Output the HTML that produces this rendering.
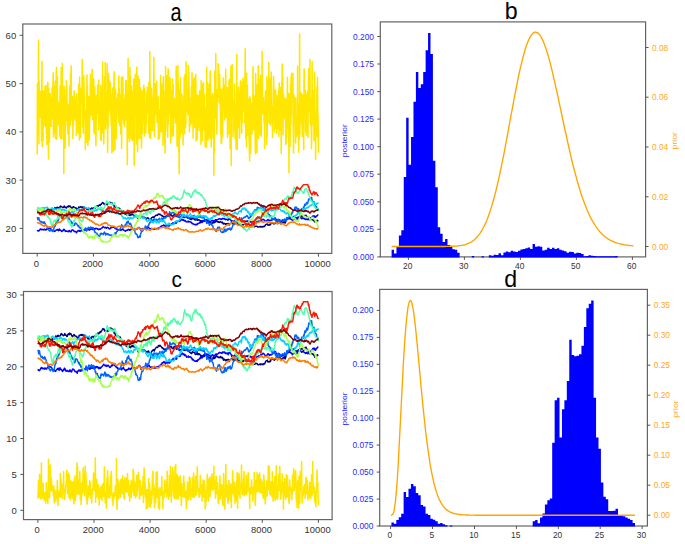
<!DOCTYPE html>
<html lang="en">
<head>
<meta charset="utf-8">
<title>MCMC traces and posterior / prior histograms</title>
<style>
html,body{margin:0;padding:0;background:#ffffff;}
body{width:685px;height:544px;overflow:hidden;position:relative;font-family:"Liberation Sans", sans-serif;}
</style>
</head>
<body>
<svg width="685" height="544" viewBox="0 0 685 544" style="display:block;position:absolute;left:0;top:0" font-family='"Liberation Sans", sans-serif'>
<rect x="0" y="0" width="685" height="544" fill="#ffffff"/>
<g>
<polyline points="37.2,209.8 37.6,209.3 38,209.3 38.4,209.6 38.8,210.1 39.2,209.8 39.6,209.4 40,208.9 40.4,209.1 40.8,210.2 41.2,209.5 41.6,209.3 42,209.1 42.4,209.3 42.8,209.4 43.2,209.5 43.6,209.7 44,210 44.4,210.6 44.8,211 45.2,211.5 45.6,211.8 46.1,211.3 46.5,210.7 46.9,210 47.3,209.4 47.7,210.7 48.1,211.3 48.5,211.1 48.9,210.9 49.3,211.2 49.7,210.8 50.1,211.5 50.5,211 50.9,210.6 51.3,210.3 51.7,210 52.1,209.4 52.5,209.5 52.9,209.5 53.3,209.4 53.7,209.6 54.1,209.7 54.5,208.8 54.9,207.6 55.3,208.3 55.7,207.9 56.1,208.3 56.5,208.2 56.9,207.4 57.3,207.2 57.7,207.9 58.1,207.8 58.5,207.6 58.9,207.7 59.3,207.6 59.7,207.6 60.1,206.4 60.5,206.1 60.9,206.7 61.3,206.5 61.7,206.6 62.1,207.1 62.5,207.5 62.9,207.4 63.3,207.4 63.8,206.9 64.2,205.9 64.6,207 65,207.3 65.4,207 65.8,207.3 66.2,208.1 66.6,208 67,207.2 67.4,206.4 67.8,206.4 68.2,206.1 68.6,206.9 69,205.8 69.4,206.1 69.8,206.4 70.2,206.1 70.6,206.6 71,207.4 71.4,207.7 71.8,208 72.2,208.2 72.6,207.3 73,207 73.4,206.7 73.8,206.9 74.2,207.8 74.6,207.6 75,207.9 75.4,207.9 75.8,208.1 76.2,207.9 76.6,209.1 77,209.2 77.4,209 77.8,209 78.2,208.6 78.6,207.1 79,207.5 79.4,207.3 79.8,207.1 80.2,206.7 80.6,206.7 81,207.3 81.5,207 81.9,206.8 82.3,207.2 82.7,207.7 83.1,207 83.5,207.6 83.9,208 84.3,208.7 84.7,208.1 85.1,207.9 85.5,208 85.9,208.1 86.3,208.3 86.7,209 87.1,209.6 87.5,209.2 87.9,209.8 88.3,208.5 88.7,209.8 89.1,209.4 89.5,209.8 89.9,208.8 90.3,208.9 90.7,209.5 91.1,208.5 91.5,208 91.9,208.1 92.3,208.1 92.7,208.5 93.1,208.9 93.5,208 93.9,207.8 94.3,207.5 94.7,208.1 95.1,208 95.5,207.8 95.9,206.7 96.3,206.6 96.7,206.2 97.1,205.7 97.5,206 97.9,206.2 98.3,206.3 98.8,205.3 99.2,205.3 99.6,204.8 100,205.4 100.4,205.1 100.8,204.3 101.2,204.3 101.6,203.6 102,203.2 102.4,202.6 102.8,203.1 103.2,203 103.6,203 104,204.2 104.4,204.4 104.8,204.3 105.2,204.1 105.6,204.4 106,203.8 106.4,204.2 106.8,204.1 107.2,204.8 107.6,204.6 108,203.1 108.4,203.1 108.8,202.9 109.2,202.7 109.6,202.2 110,202.8 110.4,202.4 110.8,202.6 111.2,202.8 111.6,203.4 112,203.1 112.4,203.3 112.8,203.4 113.2,204.2 113.6,205.8 114,205.8 114.4,205.7 114.8,206.8 115.2,207.2 115.6,207.2 116,207.9 116.5,207.7 116.9,208.6 117.3,207.8 117.7,208.1 118.1,207.9 118.5,208.6 118.9,208.6 119.3,208.4 119.7,208.3 120.1,209 120.5,210.9 120.9,210.5 121.3,211.5 121.7,211.3 122.1,211.2 122.5,212.4 122.9,213.3 123.3,212.9 123.7,213 124.1,213 124.5,213.2 124.9,214.2 125.3,214.2 125.7,213.9 126.1,214.3 126.5,214.9 126.9,214.2 127.3,214.4 127.7,214.3 128.1,214.7 128.5,214.4 128.9,215.3 129.3,215.1 129.7,215.1 130.1,215.6 130.5,214.8 130.9,214.7 131.3,214.2 131.7,214.9 132.1,214.1 132.5,214 132.9,214.4 133.3,215 133.7,215.1 134.2,215.1 134.6,215.1 135,215.2 135.4,215.5 135.8,215.2 136.2,215.2 136.6,216.2 137,216.7 137.4,217.6 137.8,218.4 138.2,218.4 138.6,217.4 139,217.1 139.4,217.6 139.8,217.4 140.2,217.4 140.6,217.2 141,217.4 141.4,216.9 141.8,216.7 142.2,217.4 142.6,217.4 143,217.1 143.4,217.5 143.8,217.2 144.2,217.8 144.6,217.3 145,218 145.4,218.3 145.8,218.1 146.2,219.6 146.6,218.4 147,218.2 147.4,218 147.8,217.8 148.2,217.9 148.6,218.9 149,218.9 149.4,219 149.8,219.1 150.2,219.2 150.6,218.8 151,218.4 151.5,217.9 151.9,217.4 152.3,217.6 152.7,217 153.1,217 153.5,216.9 153.9,217.8 154.3,217 154.7,216.4 155.1,215.9 155.5,215.8 155.9,215.3 156.3,215.3 156.7,215.2 157.1,215.5 157.5,215.2 157.9,214.3 158.3,214.3 158.7,213.9 159.1,214.5 159.5,214.6 159.9,214 160.3,214.5 160.7,214.8 161.1,215 161.5,215.7 161.9,215.8 162.3,215.6 162.7,216.3 163.1,216.3 163.5,217 163.9,216.4 164.3,217 164.7,217 165.1,217.1 165.5,216.2 165.9,216.8 166.3,216.7 166.7,215.8 167.1,216.2 167.5,216.2 167.9,215.1 168.3,215.4 168.7,215.4 169.2,215.5 169.6,214.3 170,214.7 170.4,214.9 170.8,215.2 171.2,214.7 171.6,215.6 172,216.2 172.4,216 172.8,216.2 173.2,215.8 173.6,215 174,215.2 174.4,214.6 174.8,214.8 175.2,215.1 175.6,215.3 176,216.3 176.4,216.6 176.8,216 177.2,216 177.6,216.4 178,216.1 178.4,216.4 178.8,217 179.2,217.4 179.6,217.4 180,216.9 180.4,217.4 180.8,217.5 181.2,216.9 181.6,216.7 182,216.6 182.4,216.1 182.8,216.2 183.2,216.2 183.6,217.4 184,216.4 184.4,217.3 184.8,217.5 185.2,216.3 185.6,215.7 186,216.5 186.4,217.1 186.9,217.1 187.3,217.9 187.7,217.9 188.1,216.9 188.5,217.4 188.9,217.3 189.3,218.7 189.7,218.9 190.1,218.8 190.5,219.3 190.9,219.1 191.3,219.6 191.7,219.1 192.1,218.3 192.5,218.6 192.9,218.7 193.3,218.7 193.7,218.6 194.1,218.8 194.5,219.3 194.9,219.9 195.3,220.1 195.7,219.6 196.1,219.9 196.5,219.1 196.9,218.2 197.3,220 197.7,220.3 198.1,219.6 198.5,219.6 198.9,220 199.3,219.9 199.7,220.1 200.1,220.8 200.5,221.4 200.9,220.7 201.3,220.8 201.7,221.8 202.1,221.5 202.5,221.1 202.9,220.8 203.3,221 203.7,220.8 204.1,221.4 204.6,220.3 205,220.6 205.4,220.1 205.8,220.8 206.2,221 206.6,221.7 207,222.4 207.4,221.5 207.8,222.3 208.2,222.1 208.6,221.9 209,222.5 209.4,222.4 209.8,222.6 210.2,222 210.6,222.5 211,223.3 211.4,223.1 211.8,223.6 212.2,223.5 212.6,222.7 213,221.9 213.4,222.9 213.8,222.8 214.2,222.3 214.6,222.6 215,222.2 215.4,222.1 215.8,220.7 216.2,221.1 216.6,221.3 217,221.5 217.4,221.8 217.8,221.9 218.2,222.3 218.6,221.8 219,222.1 219.4,222.4 219.8,222.3 220.2,221.5 220.6,221.6 221,222.1 221.4,222.1 221.9,222.7 222.3,222.1 222.7,222.8 223.1,223.8 223.5,224 223.9,223.3 224.3,223.4 224.7,223.7 225.1,224.1 225.5,224.3 225.9,223.7 226.3,223.7 226.7,224 227.1,223.5 227.5,224.2 227.9,223.9 228.3,223.4 228.7,224.5 229.1,224.9 229.5,223.6 229.9,223.6 230.3,223.5 230.7,223.3 231.1,223.1 231.5,223 231.9,222.6 232.3,222.9 232.7,223.7 233.1,224 233.5,224.3 233.9,223.5 234.3,222.8 234.7,223.5 235.1,223.8 235.5,223.6 235.9,222.7 236.3,223.8 236.7,223.7 237.1,224.3 237.5,223.5 237.9,224.4 238.3,224.2 238.7,224.9 239.1,225.1 239.6,224.7 240,224.2 240.4,224 240.8,224 241.2,224.5 241.6,224.6 242,224.6 242.4,224.7 242.8,224.4 243.2,224.9 243.6,224.5 244,223.9 244.4,223.5 244.8,223.3 245.2,223.5 245.6,224.2 246,224.3 246.4,223.9 246.8,224.1 247.2,224.7 247.6,224.7 248,224 248.4,224.3 248.8,224.5 249.2,224.6 249.6,224.8 250,225 250.4,224.8 250.8,224.8 251.2,224.6 251.6,224.4 252,225.2 252.4,225.8 252.8,226.2 253.2,226.2 253.6,226.3 254,226.8 254.4,226.7 254.8,226.7 255.2,226.1 255.6,226.1 256,226.2 256.4,226.3 256.8,226.2 257.3,226.4 257.7,227 258.1,227 258.5,227 258.9,227 259.3,226.8 259.7,226.5 260.1,226.5 260.5,227 260.9,226.5 261.3,226.7 261.7,227 262.1,226.6 262.5,226.8 262.9,227 263.3,226.5 263.7,226.3 264.1,226.3 264.5,226.6 264.9,225.8 265.3,225.3 265.7,224.6 266.1,224.5 266.5,224.2 266.9,224.3 267.3,223.9 267.7,225.1 268.1,224.8 268.5,225.1 268.9,225.3 269.3,225.1 269.7,224.5 270.1,224.8 270.5,224.7 270.9,223.6 271.3,222.8 271.7,222.6 272.1,222.9 272.5,223.3 272.9,223.4 273.3,223.4 273.7,223.8 274.1,224 274.6,223.7 275,223.2 275.4,223.4 275.8,222.5 276.2,222.2 276.6,221.3 277,221.2 277.4,221.7 277.8,221.7 278.2,222.2 278.6,222.8 279,222.6 279.4,222.5 279.8,221.7 280.2,223.1 280.6,222.8 281,223.1 281.4,223.1 281.8,223.5 282.2,223.4 282.6,222.5 283,222.7 283.4,222.3 283.8,222.3 284.2,221.5 284.6,222.6 285,223.2 285.4,222.5 285.8,221.5 286.2,219.9 286.6,219.4 287,219.2 287.4,219.5 287.8,218.5 288.2,218.3 288.6,218.5 289,218.3 289.4,217.9 289.8,217.5 290.2,216.8 290.6,216.9 291,216.2 291.4,216.5 291.8,216.5 292.3,216.7 292.7,217.4 293.1,217.5 293.5,217 293.9,216.3 294.3,217 294.7,217.4 295.1,217.5 295.5,218.1 295.9,218.4 296.3,217.9 296.7,217.8 297.1,217.6 297.5,217.6 297.9,217.3 298.3,217.4 298.7,217 299.1,216.9 299.5,216.9 299.9,216 300.3,217 300.7,216.7 301.1,216 301.5,216.5 301.9,216.5 302.3,216.1 302.7,216.1 303.1,217 303.5,217.5 303.9,216.7 304.3,215.7 304.7,215.5 305.1,215.9 305.5,215.8 305.9,215.2 306.3,215.9 306.7,216.4 307.1,216.5 307.5,217.2 307.9,217.8 308.3,218.4 308.7,219.3 309.1,219.6 309.5,219.8 310,219.4 310.4,218.9 310.8,219.6 311.2,218.9 311.6,219.4 312,219.6 312.4,219.6 312.8,220.1 313.2,219.9 313.6,220.5 314,220.7 314.4,221.2 314.8,222.1 315.2,220.6 315.6,221.4 316,221.5 316.4,222.3 316.8,220.8 317.2,220.3 317.6,220.4 318,220.7 318.4,220.6" fill="none" stroke="#000080" stroke-width="1.45" stroke-linejoin="round" stroke-linecap="butt"/>
<polyline points="37.2,230.1 37.6,230.8 38,230.6 38.4,230.9 38.8,231.1 39.2,230.6 39.6,230.2 40,229.3 40.4,229.2 40.8,229 41.2,229.6 41.6,229.7 42,229.2 42.4,229.5 42.8,229.6 43.2,229.8 43.6,229.9 44,229.2 44.4,229.8 44.8,229.3 45.2,229.6 45.6,230 46.1,230 46.5,229.2 46.9,229 47.3,228.6 47.7,229.1 48.1,228.4 48.5,228.1 48.9,228.3 49.3,228.4 49.7,228.6 50.1,228.4 50.5,228.7 50.9,228.7 51.3,229.9 51.7,229.7 52.1,230.6 52.5,230.5 52.9,230.5 53.3,230.4 53.7,230.5 54.1,231.2 54.5,231.4 54.9,231.5 55.3,230.8 55.7,230.5 56.1,230.1 56.5,230.1 56.9,229.6 57.3,230.2 57.7,229.4 58.1,229.8 58.5,230.8 58.9,229.8 59.3,229 59.7,230.3 60.1,229.9 60.5,230.2 60.9,230.3 61.3,231.1 61.7,231.6 62.1,231.2 62.5,231 62.9,230.3 63.3,230.6 63.8,229.3 64.2,229.7 64.6,229.8 65,230.8 65.4,231.4 65.8,231 66.2,231.3 66.6,230.9 67,230.9 67.4,231.5 67.8,231.5 68.2,231.7 68.6,231.6 69,230.7 69.4,230.5 69.8,230.9 70.2,231.7 70.6,231.7 71,231.9 71.4,231 71.8,230.1 72.2,229.8 72.6,230.1 73,230.2 73.4,230.3 73.8,231 74.2,231.4 74.6,231.7 75,231.5 75.4,231.5 75.8,231.9 76.2,232.2 76.6,232.8 77,231.8 77.4,231 77.8,231 78.2,230.7 78.6,230.5 79,231.3 79.4,231.3 79.8,230.6 80.2,231.5 80.6,230.8 81,231 81.5,230.6 81.9,230.2 82.3,229.9 82.7,230 83.1,229.6 83.5,229.9 83.9,230 84.3,230 84.7,230.5 85.1,229.9 85.5,229.2 85.9,229.9 86.3,229.1 86.7,229.3 87.1,229.1 87.5,229.5 87.9,229.7 88.3,229.2 88.7,229.3 89.1,230 89.5,230.1 89.9,228.8 90.3,229.5 90.7,229.3 91.1,229.3 91.5,228.8 91.9,228.8 92.3,229.5 92.7,229.5 93.1,228.6 93.5,228.3 93.9,228.7 94.3,229 94.7,229.3 95.1,228.4 95.5,229 95.9,228.3 96.3,228.6 96.7,228.5 97.1,228.5 97.5,229.3 97.9,228.9 98.3,229.7 98.8,229.4 99.2,228.9 99.6,229.4 100,229.5 100.4,228.8 100.8,228.8 101.2,228.4 101.6,228.2 102,228 102.4,227.5 102.8,227.1 103.2,226.6 103.6,227.1 104,227.3 104.4,227.4 104.8,227.9 105.2,227.4 105.6,227.3 106,227.8 106.4,228.2 106.8,227.7 107.2,227.5 107.6,227.3 108,227.7 108.4,227.9 108.8,228.4 109.2,228.9 109.6,228.6 110,228.7 110.4,228.2 110.8,227.6 111.2,227.2 111.6,227.8 112,227.1 112.4,227 112.8,227.2 113.2,227.2 113.6,227.2 114,227.4 114.4,227.5 114.8,228 115.2,228.4 115.6,228.3 116,228.7 116.5,228.7 116.9,229.6 117.3,229.3 117.7,229.4 118.1,229.5 118.5,229.8 118.9,229.6 119.3,229.8 119.7,229.7 120.1,229.1 120.5,229.5 120.9,230.5 121.3,229.6 121.7,229.9 122.1,229.6 122.5,229.1 122.9,228.7 123.3,229.8 123.7,230 124.1,230.3 124.5,230.7 124.9,230.9 125.3,231.2 125.7,230.5 126.1,230.7 126.5,230.3 126.9,230.2 127.3,230.4 127.7,230.3 128.1,229.5 128.5,229.3 128.9,229.6 129.3,229.9 129.7,230.4 130.1,229.6 130.5,229.4 130.9,229.8 131.3,229.5 131.7,228.9 132.1,229.1 132.5,229.3 132.9,229.1 133.3,229.5 133.7,229.6 134.2,228.9 134.6,229.5 135,229.8 135.4,229.6 135.8,229.4 136.2,229.2 136.6,229.3 137,228.8 137.4,228.6 137.8,228.3 138.2,227.8 138.6,227.4 139,227.5 139.4,227.7 139.8,228.2 140.2,228.6 140.6,230.1 141,229.4 141.4,229.2 141.8,228.9 142.2,228.7 142.6,228.7 143,228.5 143.4,228.8 143.8,228.7 144.2,229 144.6,228.9 145,229.2 145.4,228.7 145.8,228.6 146.2,228.5 146.6,228.4 147,228.6 147.4,228 147.8,227.6 148.2,227.8 148.6,227.3 149,228 149.4,228.3 149.8,228.7 150.2,228.8 150.6,228.8 151,228.8 151.5,228.4 151.9,229.1 152.3,228.6 152.7,229 153.1,229.4 153.5,228.9 153.9,229.3 154.3,229.2 154.7,229.2 155.1,229.4 155.5,228.9 155.9,228.5 156.3,228.7 156.7,228.9 157.1,228.6 157.5,228.2 157.9,228.6 158.3,228.1 158.7,227.9 159.1,228.2 159.5,227.9 159.9,227.1 160.3,227 160.7,226.6 161.1,226.8 161.5,226.2 161.9,225.6 162.3,225.8 162.7,225.6 163.1,225.4 163.5,224.9 163.9,225.6 164.3,225.7 164.7,225.4 165.1,226.5 165.5,225.9 165.9,225.7 166.3,225 166.7,225.9 167.1,225.9 167.5,225.5 167.9,225.5 168.3,225.4 168.7,226 169.2,225.8 169.6,225.7 170,224.8 170.4,224.8 170.8,224.4 171.2,224.4 171.6,223.7 172,223.9 172.4,223.7 172.8,222.7 173.2,223.2 173.6,223.4 174,223.3 174.4,223.5 174.8,222.9 175.2,222.3 175.6,222.9 176,223.3 176.4,223 176.8,222 177.2,221.5 177.6,221.3 178,221.2 178.4,220.9 178.8,221.4 179.2,221.4 179.6,220.6 180,221.3 180.4,220.1 180.8,220 181.2,220.2 181.6,219.6 182,219.2 182.4,219.4 182.8,220.2 183.2,220.3 183.6,219.8 184,220.5 184.4,221 184.8,220.4 185.2,220.5 185.6,220.9 186,221.7 186.4,222 186.9,221.9 187.3,221.8 187.7,221.5 188.1,221.1 188.5,222 188.9,222 189.3,221.8 189.7,221.7 190.1,221.7 190.5,221.9 190.9,222.4 191.3,222.3 191.7,223 192.1,223.8 192.5,223.3 192.9,223.6 193.3,223.8 193.7,224.1 194.1,224.5 194.5,224.5 194.9,224.5 195.3,224.7 195.7,224.8 196.1,224.2 196.5,224.7 196.9,224.8 197.3,224.3 197.7,223.5 198.1,223.8 198.5,223.4 198.9,223.3 199.3,223.1 199.7,222.4 200.1,222.2 200.5,222.8 200.9,222.1 201.3,222.2 201.7,221.7 202.1,222.4 202.5,222 202.9,220.7 203.3,221.2 203.7,220.7 204.1,220.1 204.6,219.5 205,220 205.4,220 205.8,220.2 206.2,219.8 206.6,219.7 207,219.9 207.4,220.3 207.8,220.7 208.2,219.9 208.6,220.5 209,220.4 209.4,220.9 209.8,221.3 210.2,221.5 210.6,221.3 211,221 211.4,221.1 211.8,220.3 212.2,220.5 212.6,220.5 213,220.7 213.4,221.3 213.8,220.8 214.2,221.3 214.6,220.8 215,220.2 215.4,219.9 215.8,219.7 216.2,219.8 216.6,220.4 217,219.7 217.4,219.7 217.8,219.6 218.2,219.4 218.6,219 219,219.1 219.4,218.7 219.8,218.9 220.2,219 220.6,219 221,219.3 221.4,219.1 221.9,219.4 222.3,218.5 222.7,218.5 223.1,218.6 223.5,218.5 223.9,219 224.3,218.4 224.7,218.6 225.1,219.4 225.5,219.2 225.9,219.7 226.3,219.4 226.7,219.1 227.1,219.1 227.5,219.7 227.9,220.3 228.3,219.6 228.7,218.8 229.1,219.2 229.5,219 229.9,218.9 230.3,219.8 230.7,219.8 231.1,220.4 231.5,221.4 231.9,220.9 232.3,220.7 232.7,221.4 233.1,221.7 233.5,221.2 233.9,221.3 234.3,220.8 234.7,220.5 235.1,221.2 235.5,221.1 235.9,220.7 236.3,221.3 236.7,221.2 237.1,221.2 237.5,220.8 237.9,221.2 238.3,221.4 238.7,221.5 239.1,221.2 239.6,221.9 240,222.4 240.4,222 240.8,222 241.2,222.1 241.6,222.6 242,221.8 242.4,221.4 242.8,221.2 243.2,221.8 243.6,221 244,221.1 244.4,221.6 244.8,221.5 245.2,221.5 245.6,221.2 246,221.3 246.4,221.1 246.8,221.5 247.2,221.2 247.6,221.6 248,220.8 248.4,221.5 248.8,221.9 249.2,221.4 249.6,220.9 250,220.9 250.4,221.2 250.8,222.2 251.2,221.9 251.6,222.2 252,222.6 252.4,221.9 252.8,222.1 253.2,222.2 253.6,221.9 254,221 254.4,221.9 254.8,221.7 255.2,222.3 255.6,222.3 256,222 256.4,221.6 256.8,221.9 257.3,221.6 257.7,221.5 258.1,221.7 258.5,221 258.9,220.9 259.3,221.4 259.7,221.1 260.1,220.7 260.5,220.7 260.9,220.2 261.3,220.1 261.7,220.3 262.1,220 262.5,219.7 262.9,219.3 263.3,219.4 263.7,219.7 264.1,219.8 264.5,220.4 264.9,220.6 265.3,220.8 265.7,221.3 266.1,221.3 266.5,220.8 266.9,220.7 267.3,219.9 267.7,219.8 268.1,219.6 268.5,220.2 268.9,220.3 269.3,220.8 269.7,220.1 270.1,220.1 270.5,220.5 270.9,220.4 271.3,220.3 271.7,220.3 272.1,219.8 272.5,219 272.9,219.2 273.3,219 273.7,219.4 274.1,219.5 274.6,219.3 275,218.7 275.4,218.1 275.8,218.9 276.2,219.4 276.6,219.6 277,219.9 277.4,220.5 277.8,220.4 278.2,219.8 278.6,219.9 279,220.3 279.4,219.7 279.8,220.2 280.2,220.3 280.6,220.9 281,221.2 281.4,220.7 281.8,221.4 282.2,220.8 282.6,220.7 283,220.4 283.4,220.8 283.8,220.8 284.2,220.5 284.6,220.1 285,219.7 285.4,220 285.8,220.5 286.2,219.5 286.6,219 287,218.7 287.4,218.1 287.8,218.2 288.2,218.7 288.6,218.1 289,217.9 289.4,218.7 289.8,218.6 290.2,218.5 290.6,219.1 291,219.2 291.4,219.1 291.8,219.5 292.3,220.3 292.7,219.4 293.1,219.4 293.5,219.7 293.9,218.5 294.3,218.5 294.7,218.9 295.1,219 295.5,219.7 295.9,219.9 296.3,219.5 296.7,219.5 297.1,219.3 297.5,218.4 297.9,218.1 298.3,217.8 298.7,217.9 299.1,218.2 299.5,217.6 299.9,217.7 300.3,217.1 300.7,217.6 301.1,218 301.5,218.7 301.9,218.7 302.3,218.4 302.7,218 303.1,218.1 303.5,218.3 303.9,218.7 304.3,218.9 304.7,218.8 305.1,219.1 305.5,219.5 305.9,219.1 306.3,218.8 306.7,219.4 307.1,219.1 307.5,219.7 307.9,219 308.3,219.4 308.7,218.6 309.1,218.3 309.5,218.5 310,218.5 310.4,218.3 310.8,217.8 311.2,217.7 311.6,217.6 312,216.9 312.4,217.2 312.8,216.1 313.2,216.4 313.6,215.8 314,216.9 314.4,215.9 314.8,216.3 315.2,217.4 315.6,217.2 316,216.7 316.4,215.9 316.8,216.1 317.2,215.7 317.6,215.2 318,215 318.4,215" fill="none" stroke="#0000ff" stroke-width="1.45" stroke-linejoin="round" stroke-linecap="butt"/>
<polyline points="37.2,216.9 37.6,218 38,219.8 38.4,218.8 38.8,217.7 39.2,219.5 39.6,220.7 40,221 40.4,221.9 40.8,222.1 41.2,222 41.6,221.5 42,222.9 42.4,222.7 42.8,222.3 43.2,222.7 43.6,223.3 44,221.7 44.4,222.1 44.8,222.9 45.2,223.6 45.6,224.7 46.1,225.8 46.5,225.9 46.9,226.5 47.3,227.2 47.7,228.1 48.1,229.5 48.5,229.6 48.9,230.3 49.3,230.3 49.7,231.2 50.1,230.6 50.5,230.7 50.9,229.6 51.3,229.8 51.7,229.6 52.1,230.8 52.5,231.6 52.9,231.5 53.3,231.1 53.7,229.5 54.1,227.5 54.5,226.9 54.9,226.3 55.3,226 55.7,223.7 56.1,222.6 56.5,221.8 56.9,221.7 57.3,221.1 57.7,220.2 58.1,221 58.5,219.7 58.9,219.1 59.3,218 59.7,216.8 60.1,215.4 60.5,216 60.9,215.9 61.3,217.3 61.7,217.6 62.1,217.9 62.5,216.6 62.9,217.7 63.3,216.9 63.8,217.7 64.2,218.4 64.6,218.2 65,217.4 65.4,216.7 65.8,215.3 66.2,215.2 66.6,215.6 67,216.7 67.4,217 67.8,216.7 68.2,218.7 68.6,219 69,218.1 69.4,219 69.8,219.9 70.2,220.6 70.6,220.8 71,221 71.4,222.5 71.8,223.3 72.2,222.4 72.6,223 73,224.1 73.4,224.2 73.8,225.6 74.2,223.4 74.6,225.2 75,223.8 75.4,223 75.8,223.4 76.2,223.4 76.6,223.5 77,224.5 77.4,224.8 77.8,225.9 78.2,226.3 78.6,225.5 79,227.2 79.4,227.2 79.8,227 80.2,228.6 80.6,227.9 81,228 81.5,228.6 81.9,230 82.3,230.3 82.7,231.3 83.1,230.7 83.5,230.3 83.9,229.8 84.3,230.1 84.7,229.6 85.1,228.5 85.5,227.9 85.9,228.2 86.3,229.8 86.7,231.1 87.1,229.8 87.5,229.3 87.9,228 88.3,227.2 88.7,228 89.1,227.9 89.5,227.9 89.9,228 90.3,227.7 90.7,227 91.1,228.5 91.5,228.7 91.9,227.5 92.3,227.5 92.7,228.1 93.1,227.5 93.5,229.7 93.9,229.4 94.3,230.3 94.7,232 95.1,231.7 95.5,233.4 95.9,233.9 96.3,234 96.7,232.9 97.1,233.7 97.5,234.4 97.9,234.9 98.3,235.7 98.8,235.8 99.2,236 99.6,236.3 100,235.6 100.4,233.4 100.8,234.4 101.2,233.3 101.6,233.8 102,233.6 102.4,233.6 102.8,234 103.2,234.7 103.6,233.6 104,232.7 104.4,232 104.8,232.4 105.2,233.9 105.6,235 106,233.4 106.4,233.4 106.8,234.1 107.2,234.5 107.6,233.7 108,234.4 108.4,234.1 108.8,235 109.2,235.1 109.6,234.7 110,235.4 110.4,235.1 110.8,235.2 111.2,235.4 111.6,235.1 112,236.3 112.4,236.5 112.8,235.7 113.2,235 113.6,234.5 114,235.6 114.4,235.4 114.8,233 115.2,232.8 115.6,234.1 116,233.7 116.5,231.8 116.9,231.6 117.3,231.3 117.7,230.1 118.1,230.1 118.5,229.9 118.9,230.1 119.3,229.7 119.7,229.6 120.1,229.1 120.5,228.3 120.9,226.7 121.3,226.1 121.7,224.6 122.1,226.1 122.5,227.2 122.9,225.9 123.3,226.9 123.7,226.8 124.1,226.9 124.5,226 124.9,226.4 125.3,224.4 125.7,226.5 126.1,224.4 126.5,222.8 126.9,221.9 127.3,223.1 127.7,222.7 128.1,220.9 128.5,222.8 128.9,222.9 129.3,223.5 129.7,224.4 130.1,223.9 130.5,223.3 130.9,224.8 131.3,224.9 131.7,226.4 132.1,227.7 132.5,228 132.9,228.8 133.3,228.8 133.7,229.2 134.2,229.3 134.6,230.7 135,231.8 135.4,233.7 135.8,233.2 136.2,234.1 136.6,234.3 137,234.4 137.4,236.1 137.8,237.5 138.2,237.1 138.6,237.6 139,237.2 139.4,235.9 139.8,235.9 140.2,237.1 140.6,233.7 141,233.3 141.4,231.3 141.8,231.6 142.2,231.5 142.6,231.1 143,230.5 143.4,229.8 143.8,228.8 144.2,228.5 144.6,228.1 145,227.3 145.4,225.9 145.8,226.7 146.2,228.3 146.6,227.4 147,227.1 147.4,226.2 147.8,226.6 148.2,226.3 148.6,225.6 149,223.8 149.4,223.9 149.8,222.4 150.2,222.7 150.6,219.8 151,219.5 151.5,220.1 151.9,220 152.3,222.4 152.7,221.9 153.1,221.3 153.5,219.2 153.9,220 154.3,219.1 154.7,219.4 155.1,219.5 155.5,220.1 155.9,219.8 156.3,219.3 156.7,219.4 157.1,220.6 157.5,220.4 157.9,219.9 158.3,219.6 158.7,219.4 159.1,218.7 159.5,218.2 159.9,219.6 160.3,219.9 160.7,221.1 161.1,220 161.5,218.3 161.9,218 162.3,218.7 162.7,219.5 163.1,218.8 163.5,218.4 163.9,218.8 164.3,217.5 164.7,217.3 165.1,217.9 165.5,218 165.9,217.6 166.3,216.3 166.7,216.1 167.1,215.8 167.5,215.3 167.9,215.7 168.3,216.3 168.7,214 169.2,213.9 169.6,211.8 170,213 170.4,213.2 170.8,213.3 171.2,213.1 171.6,213.3 172,212.9 172.4,212.6 172.8,212.3 173.2,212.9 173.6,213 174,212.7 174.4,212.6 174.8,213.6 175.2,213.6 175.6,214.3 176,214.8 176.4,215.3 176.8,215.7 177.2,216.2 177.6,216.3 178,217.1 178.4,216.4 178.8,215.6 179.2,214.3 179.6,215.2 180,214.3 180.4,213.9 180.8,213.9 181.2,214.7 181.6,216.1 182,216.4 182.4,217.2 182.8,216.5 183.2,216.1 183.6,216.7 184,215 184.4,215 184.8,215.5 185.2,215.7 185.6,217.1 186,217.3 186.4,217.2 186.9,216.4 187.3,216.5 187.7,215.4 188.1,216.4 188.5,218.2 188.9,218 189.3,217.8 189.7,217.6 190.1,217.3 190.5,216.9 190.9,216.9 191.3,216.9 191.7,217 192.1,216.1 192.5,216.9 192.9,215.7 193.3,217.4 193.7,217.3 194.1,215.3 194.5,215.7 194.9,216.4 195.3,218.2 195.7,219 196.1,218.7 196.5,217.3 196.9,217.9 197.3,216.8 197.7,216.1 198.1,217.3 198.5,217.3 198.9,216.4 199.3,216.7 199.7,216.5 200.1,217.4 200.5,216.8 200.9,216.2 201.3,217.3 201.7,217.7 202.1,217 202.5,217.7 202.9,218 203.3,216.6 203.7,217.5 204.1,217.6 204.6,219.3 205,219.2 205.4,220.1 205.8,220.9 206.2,221.3 206.6,223.4 207,223.1 207.4,222 207.8,222.9 208.2,223.1 208.6,222.9 209,223.7 209.4,225.2 209.8,224.4 210.2,224.4 210.6,223.6 211,223.3 211.4,222.6 211.8,225.1 212.2,225.7 212.6,225.6 213,226.8 213.4,228.6 213.8,228.6 214.2,229.1 214.6,229.5 215,229.2 215.4,230.3 215.8,231 216.2,231.4 216.6,229.9 217,228.9 217.4,228.4 217.8,227.3 218.2,227.9 218.6,227.9 219,226.9 219.4,227.4 219.8,227.9 220.2,229.9 220.6,231.1 221,231.6 221.4,232.1 221.9,232.5 222.3,232.5 222.7,232.4 223.1,231.3 223.5,231.7 223.9,232.3 224.3,230.2 224.7,228.9 225.1,229.1 225.5,231.2 225.9,231.6 226.3,230.3 226.7,230.6 227.1,228.8 227.5,229.8 227.9,229.2 228.3,229.5 228.7,228.4 229.1,229.2 229.5,228.5 229.9,227.9 230.3,229.6 230.7,230 231.1,229.1 231.5,229.4 231.9,228.1 232.3,227 232.7,225.6 233.1,225.3 233.5,224.3 233.9,224.7 234.3,222.8 234.7,223.1 235.1,222.3 235.5,222.6 235.9,223.5 236.3,223.1 236.7,223 237.1,222.8 237.5,221.5 237.9,222.2 238.3,222.5 238.7,220.7 239.1,221.6 239.6,221.5 240,220.8 240.4,220.9 240.8,220.4 241.2,219.7 241.6,218 242,219.7 242.4,218.9 242.8,218.7 243.2,218.3 243.6,217.8 244,217.4 244.4,217 244.8,217.5 245.2,217.2 245.6,216.7 246,216.5 246.4,216.4 246.8,215.4 247.2,215.8 247.6,216.2 248,217.1 248.4,218.3 248.8,218.4 249.2,218.2 249.6,217.3 250,217.2 250.4,217.4 250.8,216.2 251.2,215.2 251.6,215.9 252,213.9 252.4,213.9 252.8,214 253.2,212.3 253.6,211.8 254,212.1 254.4,210.4 254.8,209.8 255.2,210.5 255.6,209.8 256,210.3 256.4,210.8 256.8,210.1 257.3,207.3 257.7,207.9 258.1,208.1 258.5,207.6 258.9,207.8 259.3,208.4 259.7,208.4 260.1,208.7 260.5,208.3 260.9,207.1 261.3,206.5 261.7,206.3 262.1,207.5 262.5,207.6 262.9,206.7 263.3,206.7 263.7,208.4 264.1,209.5 264.5,210.4 264.9,210.2 265.3,208.7 265.7,210.1 266.1,210 266.5,210.4 266.9,211.5 267.3,211.5 267.7,212.5 268.1,213.9 268.5,214.3 268.9,215.4 269.3,214.7 269.7,216.7 270.1,216 270.5,215.6 270.9,215.9 271.3,217.1 271.7,217.6 272.1,220 272.5,219.6 272.9,219.6 273.3,219.2 273.7,218 274.1,217.7 274.6,219.4 275,218.6 275.4,220.7 275.8,220.1 276.2,221.2 276.6,221.7 277,221.8 277.4,220.2 277.8,219.9 278.2,219.2 278.6,219.7 279,221.6 279.4,221.5 279.8,220.6 280.2,221.5 280.6,220.5 281,220.5 281.4,220.6 281.8,220.3 282.2,220 282.6,219.6 283,219.7 283.4,220.3 283.8,220.2 284.2,221 284.6,219 285,219.6 285.4,219.7 285.8,219.8 286.2,220.6 286.6,217.6 287,219.5 287.4,218.3 287.8,217.6 288.2,218.1 288.6,217.6 289,217.2 289.4,215 289.8,216.4 290.2,216.4 290.6,215.3 291,213.6 291.4,213.4 291.8,214.2 292.3,211.7 292.7,212.6 293.1,211 293.5,210.8 293.9,209.8 294.3,210 294.7,208.2 295.1,207 295.5,207.9 295.9,207.9 296.3,207.1 296.7,207.6 297.1,209.4 297.5,209 297.9,208.5 298.3,209 298.7,208.8 299.1,210.2 299.5,211 299.9,210.7 300.3,210.9 300.7,210.5 301.1,210.3 301.5,209.1 301.9,208.5 302.3,209 302.7,209.2 303.1,209.3 303.5,207.1 303.9,208 304.3,206.2 304.7,204.3 305.1,204.4 305.5,205.4 305.9,204.6 306.3,203.3 306.7,202.4 307.1,203.7 307.5,203.8 307.9,202.6 308.3,200.7 308.7,199 309.1,199.9 309.5,199.1 310,198.4 310.4,197.4 310.8,197.4 311.2,197.7 311.6,197.4 312,199.9 312.4,200.5 312.8,202.7 313.2,202.5 313.6,202.7 314,201.8 314.4,203.1 314.8,204.6 315.2,205.7 315.6,206.1 316,206.4 316.4,206.4 316.8,208.3 317.2,208.7 317.6,208.5 318,209.6 318.4,209.2" fill="none" stroke="#0063ff" stroke-width="1.45" stroke-linejoin="round" stroke-linecap="butt"/>
<polyline points="37.2,208.8 37.6,208.9 38,208.3 38.4,209 38.8,208 39.2,209.1 39.6,209.8 40,210.2 40.4,210.2 40.8,209.5 41.2,208.6 41.6,208.4 42,208.2 42.4,207.6 42.8,207.7 43.2,207.5 43.6,207.5 44,208.6 44.4,208.9 44.8,208.2 45.2,207.5 45.6,207.6 46.1,207.8 46.5,207.9 46.9,207.1 47.3,207.1 47.7,207.5 48.1,209.4 48.5,208.9 48.9,210 49.3,210 49.7,209.9 50.1,209.2 50.5,209.3 50.9,208.5 51.3,208.1 51.7,208.1 52.1,207.8 52.5,208.3 52.9,209.4 53.3,209.6 53.7,209.9 54.1,208.6 54.5,208.8 54.9,209.7 55.3,209.2 55.7,209.3 56.1,210.1 56.5,209.9 56.9,209 57.3,209.6 57.7,210 58.1,210 58.5,210.6 58.9,209.5 59.3,208.6 59.7,208.4 60.1,208.9 60.5,209.2 60.9,209.1 61.3,209.8 61.7,210.5 62.1,209.7 62.5,209.8 62.9,209.6 63.3,210 63.8,209.8 64.2,209.3 64.6,210.6 65,210.3 65.4,210.2 65.8,210.2 66.2,210.5 66.6,210.8 67,211.3 67.4,212 67.8,212.1 68.2,212 68.6,212.1 69,212.4 69.4,212.2 69.8,212.9 70.2,213.3 70.6,212.7 71,212.3 71.4,212.1 71.8,212.3 72.2,211.5 72.6,212.4 73,213.2 73.4,213 73.8,211.9 74.2,211.8 74.6,211.4 75,210.7 75.4,210.6 75.8,210.5 76.2,210.2 76.6,210.2 77,210.3 77.4,209.8 77.8,209.9 78.2,209.8 78.6,209.2 79,208.6 79.4,209.6 79.8,210.3 80.2,210.3 80.6,210.1 81,209.3 81.5,209.4 81.9,209.7 82.3,208.8 82.7,208.9 83.1,209.6 83.5,208.3 83.9,207.8 84.3,206.7 84.7,207.1 85.1,208.1 85.5,207.8 85.9,208.1 86.3,208.1 86.7,208 87.1,208.3 87.5,208.4 87.9,208.2 88.3,208.2 88.7,207.6 89.1,208.8 89.5,209.4 89.9,210.9 90.3,210.9 90.7,210.5 91.1,210.5 91.5,210 91.9,210 92.3,210.7 92.7,211.4 93.1,211.7 93.5,211.7 93.9,210.7 94.3,211.1 94.7,210 95.1,210 95.5,210.3 95.9,210.6 96.3,210.7 96.7,210 97.1,209.5 97.5,210.1 97.9,209.6 98.3,208.6 98.8,208.9 99.2,208.9 99.6,208.9 100,209.7 100.4,209.9 100.8,209.6 101.2,209.4 101.6,210.5 102,209.5 102.4,210.3 102.8,210.6 103.2,210.4 103.6,211.4 104,211.1 104.4,211.7 104.8,212.7 105.2,212.8 105.6,211.7 106,211.3 106.4,210.4 106.8,209.5 107.2,209.9 107.6,210.5 108,210 108.4,210.8 108.8,211.4 109.2,210.6 109.6,209.8 110,210.1 110.4,209.9 110.8,209.8 111.2,211.3 111.6,210.7 112,212.5 112.4,212.4 112.8,212.4 113.2,212.2 113.6,211.5 114,211.7 114.4,212.3 114.8,213 115.2,213.4 115.6,212.8 116,212.7 116.5,213.8 116.9,213.5 117.3,213.3 117.7,212.8 118.1,212.4 118.5,214 118.9,213.6 119.3,213.8 119.7,214.5 120.1,213.8 120.5,213.8 120.9,214.3 121.3,214.9 121.7,215.7 122.1,216.5 122.5,216.5 122.9,216.6 123.3,218.5 123.7,218.1 124.1,218.6 124.5,218.5 124.9,218 125.3,217.7 125.7,218.5 126.1,219 126.5,218.6 126.9,219 127.3,218 127.7,218.6 128.1,217.4 128.5,217.9 128.9,218.1 129.3,219.3 129.7,217.8 130.1,218.1 130.5,218.2 130.9,217.5 131.3,218.4 131.7,218.6 132.1,218.7 132.5,218.5 132.9,218.6 133.3,217.1 133.7,216.6 134.2,217.3 134.6,216.7 135,216.8 135.4,217 135.8,215.9 136.2,216 136.6,216.1 137,215.9 137.4,216.8 137.8,217.1 138.2,216 138.6,216.9 139,217.1 139.4,216.7 139.8,217.4 140.2,217.9 140.6,217.8 141,216.8 141.4,216.6 141.8,216.9 142.2,217.9 142.6,218.6 143,218.1 143.4,217.3 143.8,217.5 144.2,217.9 144.6,218 145,218.4 145.4,219.3 145.8,218.9 146.2,220.4 146.6,220.8 147,221.1 147.4,221.7 147.8,221.6 148.2,220.4 148.6,219.7 149,220.3 149.4,219.5 149.8,218.7 150.2,220.4 150.6,220.5 151,221.1 151.5,221.4 151.9,221.7 152.3,222.3 152.7,221.7 153.1,221.9 153.5,222.9 153.9,222.3 154.3,221.2 154.7,220.7 155.1,220.2 155.5,220.4 155.9,221.7 156.3,223 156.7,222.5 157.1,221.8 157.5,221.7 157.9,221.3 158.3,221.3 158.7,222.8 159.1,223 159.5,221.9 159.9,219.9 160.3,220.2 160.7,219.4 161.1,220.2 161.5,220.3 161.9,221.6 162.3,221.3 162.7,221.8 163.1,220.2 163.5,220.8 163.9,220.6 164.3,221.9 164.7,221.8 165.1,222.2 165.5,223 165.9,224.9 166.3,224.6 166.7,224.5 167.1,224.7 167.5,224.8 167.9,224.2 168.3,223.4 168.7,224.7 169.2,223.2 169.6,223.9 170,223.8 170.4,224.2 170.8,225.1 171.2,224.8 171.6,224.7 172,224 172.4,224.1 172.8,224.3 173.2,224.5 173.6,224.2 174,223.7 174.4,223.1 174.8,221.9 175.2,221.7 175.6,221.3 176,221.6 176.4,220.9 176.8,221.5 177.2,222.2 177.6,221.7 178,220.8 178.4,220.5 178.8,220.9 179.2,220.7 179.6,219.7 180,217.9 180.4,217.8 180.8,218.7 181.2,217.6 181.6,217 182,215.7 182.4,216.1 182.8,214.5 183.2,214.3 183.6,214.6 184,215.5 184.4,215.8 184.8,216.3 185.2,216 185.6,215.4 186,215.6 186.4,214.9 186.9,215.6 187.3,215 187.7,215.7 188.1,216.3 188.5,215.6 188.9,215.3 189.3,215.3 189.7,214.3 190.1,214.2 190.5,213.8 190.9,214.8 191.3,215.8 191.7,216.1 192.1,216.3 192.5,216.4 192.9,216.1 193.3,216.9 193.7,216.7 194.1,217.2 194.5,216.1 194.9,217 195.3,216.6 195.7,217.6 196.1,216.9 196.5,216.3 196.9,216.8 197.3,217.5 197.7,216.6 198.1,216.5 198.5,216.5 198.9,215.5 199.3,215.9 199.7,215.6 200.1,214.9 200.5,215.6 200.9,216 201.3,216.1 201.7,216.8 202.1,216.6 202.5,215.9 202.9,216 203.3,215.6 203.7,216.6 204.1,216.4 204.6,216 205,216.6 205.4,216.8 205.8,215.7 206.2,216.5 206.6,217.8 207,217 207.4,218 207.8,218.7 208.2,218.6 208.6,218.3 209,219.6 209.4,219.9 209.8,220 210.2,218.7 210.6,218.3 211,218.2 211.4,217.7 211.8,217.8 212.2,218.4 212.6,218.3 213,216.9 213.4,215.8 213.8,216.2 214.2,215.5 214.6,216.2 215,215.7 215.4,216.2 215.8,215.3 216.2,215 216.6,215.1 217,214.5 217.4,215 217.8,214.7 218.2,214.8 218.6,212.2 219,212.3 219.4,212.7 219.8,213.6 220.2,212.4 220.6,213.3 221,214.3 221.4,214.5 221.9,215.1 222.3,214.3 222.7,213.1 223.1,214.3 223.5,215.3 223.9,215.8 224.3,216.3 224.7,215.8 225.1,215.1 225.5,214.2 225.9,214.7 226.3,215.4 226.7,215.9 227.1,216.3 227.5,215.8 227.9,215.2 228.3,214.1 228.7,214.7 229.1,214.6 229.5,214.2 229.9,214 230.3,215.3 230.7,216.1 231.1,216.4 231.5,215.3 231.9,215.4 232.3,214.2 232.7,214.6 233.1,213.4 233.5,213.6 233.9,213.1 234.3,213.2 234.7,212.8 235.1,212.1 235.5,212.6 235.9,213.2 236.3,213.3 236.7,213.4 237.1,214 237.5,214.4 237.9,213.3 238.3,212.9 238.7,211.6 239.1,211.5 239.6,211.4 240,211.1 240.4,210.6 240.8,211.3 241.2,212.3 241.6,210.2 242,209.1 242.4,208.2 242.8,208.2 243.2,208.9 243.6,209 244,208 244.4,208.4 244.8,207.9 245.2,209.2 245.6,210.3 246,209.2 246.4,209.3 246.8,210 247.2,211 247.6,212.2 248,211.4 248.4,212.5 248.8,212 249.2,213.9 249.6,215 250,214.2 250.4,213.3 250.8,214.1 251.2,215 251.6,214.1 252,215 252.4,214.9 252.8,214.1 253.2,213.4 253.6,211.8 254,211.3 254.4,211 254.8,210.6 255.2,211 255.6,211.6 256,211.6 256.4,210.7 256.8,211 257.3,210.7 257.7,209.7 258.1,209.2 258.5,208.8 258.9,208.9 259.3,207.8 259.7,208.2 260.1,208.2 260.5,208.6 260.9,207.5 261.3,207.6 261.7,208 262.1,209.6 262.5,210.3 262.9,210 263.3,210.5 263.7,208.9 264.1,210.7 264.5,210.1 264.9,210.4 265.3,211 265.7,211.1 266.1,211.6 266.5,211.8 266.9,210.5 267.3,212 267.7,211.9 268.1,212 268.5,211.2 268.9,210.8 269.3,209.8 269.7,210.4 270.1,209.5 270.5,209.4 270.9,210.3 271.3,210 271.7,210.9 272.1,209.5 272.5,209.8 272.9,210.7 273.3,210 273.7,210.4 274.1,210.2 274.6,208.4 275,208.7 275.4,209.2 275.8,208.1 276.2,208.2 276.6,207.8 277,207 277.4,206.9 277.8,207.8 278.2,209.6 278.6,209.2 279,209 279.4,208.3 279.8,208.8 280.2,209.2 280.6,210.1 281,210.7 281.4,210.4 281.8,210.7 282.2,211.4 282.6,210.6 283,210.9 283.4,210.6 283.8,211.6 284.2,212.3 284.6,211.3 285,213.1 285.4,213.1 285.8,212.9 286.2,213.9 286.6,213.4 287,213 287.4,213.3 287.8,212.8 288.2,213.2 288.6,214.2 289,215.7 289.4,215.8 289.8,215.4 290.2,215.1 290.6,215.3 291,215.8 291.4,215.8 291.8,216.7 292.3,216.7 292.7,217 293.1,217.3 293.5,217.9 293.9,218.2 294.3,217.6 294.7,215.9 295.1,215.7 295.5,215.3 295.9,215.9 296.3,215.1 296.7,214.5 297.1,214.6 297.5,212.6 297.9,212.4 298.3,212 298.7,212.4 299.1,213.8 299.5,214.6 299.9,213.4 300.3,212.8 300.7,213.3 301.1,211.7 301.5,210.4 301.9,211 302.3,209.3 302.7,209 303.1,208.7 303.5,208.9 303.9,209.1 304.3,208.6 304.7,208.8 305.1,208.7 305.5,209.3 305.9,208.3 306.3,208.2 306.7,207.6 307.1,207.2 307.5,208 307.9,207.2 308.3,207.3 308.7,207.6 309.1,205.9 309.5,206 310,206 310.4,205.2 310.8,205.2 311.2,205.5 311.6,205.5 312,204.7 312.4,204 312.8,203.8 313.2,204.7 313.6,203.1 314,202.3 314.4,202.2 314.8,203.7 315.2,204.4 315.6,204.9 316,204.6 316.4,204.1 316.8,203.3 317.2,203.4 317.6,203.4 318,203.2 318.4,202.6" fill="none" stroke="#00d4ff" stroke-width="1.45" stroke-linejoin="round" stroke-linecap="butt"/>
<polyline points="37.2,207.9 37.6,208.4 38,207.5 38.4,209.3 38.8,209.1 39.2,209.1 39.6,208.6 40,208.2 40.4,209.1 40.8,208 41.2,207.8 41.6,208.4 42,207.7 42.4,209 42.8,209.1 43.2,210 43.6,211.5 44,212.2 44.4,212.6 44.8,212.4 45.2,212.4 45.6,213.9 46.1,214.9 46.5,214.2 46.9,215.6 47.3,216.1 47.7,217.1 48.1,216.8 48.5,217.2 48.9,218.2 49.3,218.5 49.7,218.4 50.1,219.7 50.5,221 50.9,222.9 51.3,223.7 51.7,225.8 52.1,225 52.5,225.2 52.9,223.6 53.3,221.9 53.7,221.1 54.1,221.2 54.5,220.9 54.9,220.2 55.3,220 55.7,221.7 56.1,220.7 56.5,220.6 56.9,219.4 57.3,218.2 57.7,216.5 58.1,217 58.5,217.6 58.9,218.1 59.3,219 59.7,217.6 60.1,216.3 60.5,215.9 60.9,217.5 61.3,217.1 61.7,216.9 62.1,216.3 62.5,216.6 62.9,217.1 63.3,216.6 63.8,217.6 64.2,216.7 64.6,216.7 65,217.2 65.4,217.9 65.8,217.1 66.2,217.8 66.6,217.5 67,218.5 67.4,219.3 67.8,220.4 68.2,221.2 68.6,222.1 69,221.4 69.4,222 69.8,220.5 70.2,223.5 70.6,224.8 71,224.7 71.4,226 71.8,227.3 72.2,226 72.6,225.8 73,224.8 73.4,223.9 73.8,220.8 74.2,220.9 74.6,221.3 75,219.3 75.4,218.1 75.8,218.1 76.2,217.5 76.6,216.9 77,215.8 77.4,216.4 77.8,218.2 78.2,217.3 78.6,217.3 79,218 79.4,219.1 79.8,219.1 80.2,219.8 80.6,220.4 81,220.3 81.5,220.5 81.9,221.8 82.3,220.7 82.7,221 83.1,220.1 83.5,218.8 83.9,217.5 84.3,217 84.7,216.1 85.1,216 85.5,214.9 85.9,214 86.3,212.8 86.7,211.7 87.1,210.9 87.5,211.8 87.9,211.3 88.3,211.6 88.7,212.2 89.1,211.8 89.5,210.9 89.9,210.4 90.3,211.3 90.7,211.3 91.1,211.2 91.5,211.1 91.9,210.7 92.3,211.3 92.7,211.3 93.1,210.3 93.5,210.1 93.9,208.8 94.3,208.5 94.7,207.1 95.1,206.5 95.5,206.2 95.9,207.6 96.3,207.1 96.7,206.4 97.1,207 97.5,207.7 97.9,207.7 98.3,208.6 98.8,209.2 99.2,208.2 99.6,208.5 100,208.6 100.4,207.8 100.8,207.2 101.2,207.6 101.6,207.4 102,208.3 102.4,210.1 102.8,211.1 103.2,208.9 103.6,209.2 104,207.9 104.4,207.2 104.8,206.8 105.2,205.2 105.6,204 106,203.3 106.4,201.5 106.8,200.7 107.2,202.6 107.6,202.2 108,202.9 108.4,204 108.8,204.3 109.2,202.2 109.6,203.5 110,203.5 110.4,203.6 110.8,204.1 111.2,203.3 111.6,203.5 112,204.1 112.4,204.7 112.8,204.4 113.2,204.8 113.6,203.9 114,202.8 114.4,202.6 114.8,203.3 115.2,204.8 115.6,205.5 116,206 116.5,208 116.9,208.6 117.3,207.9 117.7,208.6 118.1,208.3 118.5,208.5 118.9,209.7 119.3,209.5 119.7,210.7 120.1,210.2 120.5,209.4 120.9,209.5 121.3,210.9 121.7,210.6 122.1,210.3 122.5,211.7 122.9,211.4 123.3,212.4 123.7,212 124.1,213.4 124.5,212.8 124.9,213.8 125.3,213.2 125.7,213.2 126.1,213.1 126.5,213.7 126.9,214.1 127.3,215.3 127.7,216 128.1,213.1 128.5,213.4 128.9,212.9 129.3,211.8 129.7,211.5 130.1,211.2 130.5,211.6 130.9,211.8 131.3,211.5 131.7,210.7 132.1,211.4 132.5,211.1 132.9,210.9 133.3,213.5 133.7,213 134.2,213.1 134.6,213.6 135,215.1 135.4,214.1 135.8,214.9 136.2,214.6 136.6,214.9 137,217 137.4,216.5 137.8,217.5 138.2,217.9 138.6,217.1 139,216.8 139.4,216 139.8,215.4 140.2,213.8 140.6,214.4 141,215.3 141.4,214.9 141.8,215.3 142.2,215.5 142.6,215.5 143,215.4 143.4,213.8 143.8,213.3 144.2,214 144.6,214.1 145,214 145.4,212.7 145.8,213.3 146.2,212 146.6,214.7 147,213.1 147.4,211.5 147.8,209.6 148.2,209.9 148.6,211.9 149,211.1 149.4,211.9 149.8,212.9 150.2,213.7 150.6,212.8 151,211.3 151.5,209.9 151.9,211.1 152.3,208.3 152.7,208.6 153.1,210.1 153.5,211.2 153.9,210.5 154.3,209.9 154.7,209.3 155.1,209 155.5,208.4 155.9,207.9 156.3,209.3 156.7,208.5 157.1,207.8 157.5,208 157.9,207.6 158.3,207.4 158.7,206 159.1,206.4 159.5,205.8 159.9,205.2 160.3,206.4 160.7,207.4 161.1,206.1 161.5,206.2 161.9,207.1 162.3,205.6 162.7,204.2 163.1,203.5 163.5,202.2 163.9,201.8 164.3,201.8 164.7,202.2 165.1,203.4 165.5,201.5 165.9,201.5 166.3,201 166.7,200.7 167.1,199 167.5,199.7 167.9,200.9 168.3,199.4 168.7,198.8 169.2,198.8 169.6,199.6 170,198.3 170.4,198.1 170.8,197.3 171.2,198.4 171.6,198.5 172,198 172.4,197.1 172.8,196.4 173.2,196.3 173.6,195.8 174,195.9 174.4,196.9 174.8,196.7 175.2,198.2 175.6,198.2 176,198 176.4,198.5 176.8,199.6 177.2,199.2 177.6,197.7 178,198.7 178.4,199.5 178.8,199.5 179.2,199.8 179.6,200.1 180,199.4 180.4,199.1 180.8,199 181.2,199 181.6,197.8 182,197.7 182.4,197.4 182.8,195.8 183.2,194.7 183.6,192 184,191.5 184.4,189.9 184.8,192.2 185.2,192.5 185.6,193.3 186,192.9 186.4,194.1 186.9,193.3 187.3,192.9 187.7,192.9 188.1,193.7 188.5,193.8 188.9,194.6 189.3,194.4 189.7,193.8 190.1,196.4 190.5,196.8 190.9,197.4 191.3,197.6 191.7,196.3 192.1,195 192.5,193.9 192.9,192.2 193.3,192.4 193.7,192.6 194.1,191.1 194.5,190.2 194.9,191 195.3,191 195.7,189.7 196.1,192.2 196.5,192.2 196.9,192 197.3,192 197.7,193.1 198.1,193.6 198.5,192.9 198.9,192.8 199.3,193.6 199.7,192.9 200.1,194.3 200.5,194.9 200.9,195.5 201.3,194.5 201.7,195.7 202.1,195.5 202.5,196.8 202.9,197.4 203.3,197.8 203.7,197.7 204.1,199.9 204.6,200.1 205,200.5 205.4,200 205.8,203.1 206.2,203.5 206.6,205.5 207,206.7 207.4,206.9 207.8,209.6 208.2,207.5 208.6,208.6 209,208.6 209.4,209.4 209.8,209.6 210.2,210 210.6,209.8 211,209.9 211.4,209.9 211.8,209.2 212.2,208.9 212.6,209 213,209.5 213.4,210.8 213.8,211 214.2,210.6 214.6,211.1 215,210.7 215.4,210.5 215.8,209.8 216.2,210 216.6,209.9 217,211.7 217.4,211.8 217.8,213.7 218.2,212.1 218.6,213.3 219,214.4 219.4,214.9 219.8,213.7 220.2,213.9 220.6,214.1 221,213.8 221.4,213.1 221.9,214 222.3,214 222.7,214.2 223.1,212 223.5,214.7 223.9,214.4 224.3,214.9 224.7,214.6 225.1,214.9 225.5,214.6 225.9,215.1 226.3,215 226.7,216.2 227.1,216.8 227.5,217.5 227.9,216.7 228.3,217.6 228.7,216.3 229.1,216.5 229.5,217 229.9,217.8 230.3,218.2 230.7,218.3 231.1,216.7 231.5,216.7 231.9,216.5 232.3,216.7 232.7,215.6 233.1,213.9 233.5,216.4 233.9,215.3 234.3,215.3 234.7,217.5 235.1,219.5 235.5,220.4 235.9,219.3 236.3,220.1 236.7,221 237.1,221.2 237.5,221.7 237.9,221.5 238.3,221.4 238.7,222 239.1,223.1 239.6,222.5 240,223.5 240.4,224.2 240.8,223.8 241.2,224.8 241.6,226.9 242,226.1 242.4,227.3 242.8,228 243.2,228 243.6,229 244,228.6 244.4,229.4 244.8,228.6 245.2,228.8 245.6,229.4 246,230.9 246.4,230.9 246.8,230.8 247.2,230.9 247.6,229.9 248,229.5 248.4,228.9 248.8,228.2 249.2,229 249.6,229 250,227.4 250.4,226.6 250.8,226.4 251.2,227.2 251.6,226.6 252,226.7 252.4,227.3 252.8,227.4 253.2,225.8 253.6,224.9 254,226 254.4,223.6 254.8,222.3 255.2,222.1 255.6,220.6 256,219.9 256.4,220.7 256.8,217.8 257.3,217.9 257.7,218.4 258.1,219.7 258.5,217.9 258.9,218.5 259.3,218.4 259.7,218.1 260.1,217.9 260.5,217.5 260.9,216.6 261.3,216.1 261.7,215.5 262.1,215.7 262.5,216.1 262.9,216.3 263.3,216.3 263.7,215.8 264.1,216.3 264.5,216.5 264.9,215.7 265.3,215.5 265.7,215.5 266.1,216.2 266.5,217 266.9,216.5 267.3,215.3 267.7,215.4 268.1,215.6 268.5,215.5 268.9,215.9 269.3,217.6 269.7,217.5 270.1,218.1 270.5,217.5 270.9,217.4 271.3,216.1 271.7,216.4 272.1,216.1 272.5,216.2 272.9,216.1 273.3,217.5 273.7,216.3 274.1,216 274.6,214.3 275,212.3 275.4,211.9 275.8,210.5 276.2,210.4 276.6,209.9 277,209.7 277.4,210 277.8,207.2 278.2,208.7 278.6,208 279,207.9 279.4,207.4 279.8,207.7 280.2,207.3 280.6,207.3 281,207.3 281.4,206 281.8,205.8 282.2,205.4 282.6,204.1 283,202.7 283.4,201.1 283.8,201 284.2,199.8 284.6,199.6 285,198.7 285.4,198.5 285.8,198.6 286.2,199.2 286.6,198.7 287,197.2 287.4,195.9 287.8,197.1 288.2,196.2 288.6,196.2 289,197.9 289.4,197.6 289.8,197.8 290.2,197.2 290.6,198 291,196.8 291.4,196.1 291.8,194.8 292.3,192.5 292.7,192.1 293.1,190.9 293.5,189.3 293.9,188.3 294.3,187.2 294.7,188.3 295.1,188.1 295.5,188.4 295.9,189.5 296.3,188.7 296.7,191.7 297.1,193.2 297.5,193.5 297.9,193.2 298.3,193.1 298.7,192.9 299.1,191.5 299.5,191.1 299.9,190.5 300.3,188.7 300.7,189.7 301.1,189.3 301.5,190.6 301.9,191.1 302.3,191.8 302.7,192.1 303.1,193.2 303.5,192.5 303.9,193.1 304.3,191.3 304.7,189.4 305.1,188.8 305.5,189.1 305.9,188.9 306.3,188.8 306.7,189.7 307.1,190.3 307.5,191.7 307.9,191.5 308.3,193.5 308.7,193.7 309.1,195.4 309.5,196.6 310,197.7 310.4,199.8 310.8,200.8 311.2,200.7 311.6,200.9 312,200.9 312.4,203.5 312.8,202.9 313.2,203.7 313.6,205 314,206 314.4,206.4 314.8,207.1 315.2,207.9 315.6,207.8 316,208.8 316.4,208.7 316.8,209 317.2,209.1 317.6,208.4 318,209.2 318.4,211.2" fill="none" stroke="#4dffa9" stroke-width="1.45" stroke-linejoin="round" stroke-linecap="butt"/>
<polyline points="37.2,209.2 37.6,211 38,211.6 38.4,210.4 38.8,211.2 39.2,211.6 39.6,211.4 40,209.6 40.4,209.7 40.8,210.3 41.2,209.1 41.6,210 42,208.5 42.4,210.6 42.8,208.7 43.2,209.5 43.6,211.5 44,211.3 44.4,210.2 44.8,210.4 45.2,209.2 45.6,209.5 46.1,210.6 46.5,211.4 46.9,210.8 47.3,209.9 47.7,211 48.1,210.9 48.5,209.7 48.9,210.4 49.3,209.2 49.7,208.5 50.1,209.6 50.5,210.2 50.9,211.4 51.3,212.5 51.7,212.6 52.1,213.4 52.5,214 52.9,213.2 53.3,212.6 53.7,213 54.1,212.6 54.5,211.5 54.9,211.7 55.3,211.5 55.7,210.4 56.1,211.2 56.5,211.6 56.9,211.8 57.3,211 57.7,210 58.1,211.5 58.5,210 58.9,211 59.3,210.8 59.7,210.1 60.1,210.5 60.5,212.2 60.9,211.3 61.3,212.1 61.7,212.8 62.1,212.1 62.5,212.5 62.9,212.1 63.3,212.1 63.8,212.6 64.2,212.2 64.6,212.5 65,213 65.4,213.7 65.8,215 66.2,213.8 66.6,214 67,212.2 67.4,210.8 67.8,210.5 68.2,209.8 68.6,209.5 69,209.9 69.4,210.6 69.8,208.9 70.2,208.8 70.6,209.1 71,210.2 71.4,210.2 71.8,209.8 72.2,210.2 72.6,209.7 73,209.3 73.4,209.8 73.8,209.7 74.2,208.4 74.6,209.6 75,210.2 75.4,211 75.8,211.5 76.2,212.3 76.6,213.9 77,215.1 77.4,216.2 77.8,216.6 78.2,215.4 78.6,217.6 79,220.4 79.4,222.3 79.8,223.1 80.2,225.6 80.6,225 81,223.9 81.5,224.3 81.9,227.5 82.3,229.3 82.7,229.6 83.1,230.8 83.5,232.3 83.9,233.5 84.3,231.9 84.7,232.2 85.1,231.9 85.5,233.2 85.9,233.3 86.3,234.7 86.7,234.5 87.1,234.7 87.5,234.5 87.9,237 88.3,236.3 88.7,237.6 89.1,238.1 89.5,238.1 89.9,237.4 90.3,236.4 90.7,237.6 91.1,236.8 91.5,236.6 91.9,236.6 92.3,238.7 92.7,237.3 93.1,236.5 93.5,236.6 93.9,237.3 94.3,238.6 94.7,236.3 95.1,235.3 95.5,233.8 95.9,234.8 96.3,235.4 96.7,235.4 97.1,236.6 97.5,236.6 97.9,237.2 98.3,238 98.8,237.7 99.2,238 99.6,237.9 100,237.2 100.4,239.9 100.8,239.5 101.2,240.7 101.6,240.3 102,242 102.4,242 102.8,240.9 103.2,240.9 103.6,242 104,242 104.4,242 104.8,242 105.2,242 105.6,242 106,242 106.4,242 106.8,242 107.2,242 107.6,242 108,241.7 108.4,241.1 108.8,241.5 109.2,240.9 109.6,241.1 110,240.9 110.4,239 110.8,238.1 111.2,237.9 111.6,237 112,237.2 112.4,235.7 112.8,235.6 113.2,236.1 113.6,236.2 114,233.8 114.4,235.3 114.8,235.7 115.2,235.7 115.6,235.3 116,237.1 116.5,235.7 116.9,235.8 117.3,236 117.7,236.1 118.1,236.9 118.5,237.3 118.9,236.3 119.3,235.4 119.7,235.7 120.1,234.4 120.5,235.4 120.9,234.6 121.3,234.5 121.7,235 122.1,234.3 122.5,235.6 122.9,235.1 123.3,236.7 123.7,235.3 124.1,234.7 124.5,234.4 124.9,235.3 125.3,234.8 125.7,235.8 126.1,236.4 126.5,236.7 126.9,236.1 127.3,235.7 127.7,237.3 128.1,238.3 128.5,237.2 128.9,236.4 129.3,236.3 129.7,234.7 130.1,235.1 130.5,234.2 130.9,231.7 131.3,232.1 131.7,232 132.1,230.5 132.5,229.6 132.9,228.9 133.3,228.3 133.7,227.9 134.2,226.5 134.6,225.1 135,225.6 135.4,224.7 135.8,224 136.2,223.5 136.6,222 137,221.9 137.4,220.3 137.8,219.7 138.2,221.4 138.6,219.4 139,217.5 139.4,217.5 139.8,218 140.2,216.4 140.6,215 141,213.6 141.4,212.3 141.8,211.4 142.2,210.8 142.6,210 143,209.5 143.4,208.5 143.8,207.5 144.2,206.7 144.6,206.7 145,206.1 145.4,206.2 145.8,205.1 146.2,207 146.6,206.8 147,205.6 147.4,206.3 147.8,205.5 148.2,205.6 148.6,204.6 149,204.8 149.4,204 149.8,203.6 150.2,202 150.6,201.2 151,201 151.5,202.1 151.9,201.5 152.3,200.4 152.7,199.8 153.1,199.5 153.5,198.9 153.9,197.5 154.3,197.4 154.7,198.1 155.1,198.5 155.5,198 155.9,196.5 156.3,196.9 156.7,194 157.1,194.8 157.5,194.1 157.9,193.1 158.3,194.7 158.7,195.4 159.1,195.5 159.5,197.1 159.9,196.3 160.3,196.4 160.7,196.1 161.1,195.9 161.5,195.2 161.9,195.4 162.3,195.6 162.7,196.7 163.1,195.9 163.5,198.2 163.9,198.8 164.3,198 164.7,199.1 165.1,198.9 165.5,200.2 165.9,201.2 166.3,202.4 166.7,202.5 167.1,203.3 167.5,203.8 167.9,204.5 168.3,206.3 168.7,206.9 169.2,206.6 169.6,207.6 170,208.6 170.4,208.6 170.8,209.2 171.2,209.9 171.6,210.7 172,210.3 172.4,209.2 172.8,208.8 173.2,210.9 173.6,210.5 174,210.3 174.4,209.8 174.8,212.1 175.2,210.4 175.6,210.8 176,211.1 176.4,212.5 176.8,212.3 177.2,212.4 177.6,212.4 178,212 178.4,212.7 178.8,212.8 179.2,213 179.6,211.2 180,212.1 180.4,212.4 180.8,211.5 181.2,212.1 181.6,212.3 182,212.8 182.4,212.5 182.8,212.1 183.2,211.5 183.6,212 184,213.2 184.4,212.4 184.8,210.9 185.2,210.1 185.6,209.5 186,208.9 186.4,208.6 186.9,209.5 187.3,207.9 187.7,206.8 188.1,206.4 188.5,205.9 188.9,205.3 189.3,204.9 189.7,204.5 190.1,205.1 190.5,205.8 190.9,206.1 191.3,206.7 191.7,207 192.1,207.4 192.5,209.6 192.9,210.1 193.3,211.9 193.7,209.3 194.1,209.1 194.5,208.9 194.9,210.3 195.3,211.2 195.7,210.7 196.1,211.2 196.5,211.8 196.9,211.7 197.3,211.6 197.7,211 198.1,212.5 198.5,214.3 198.9,214.7 199.3,213.6 199.7,213.4 200.1,212.3 200.5,210.6 200.9,211.1 201.3,210.4 201.7,209.9 202.1,209.9 202.5,210 202.9,209.2 203.3,209.6 203.7,210.4 204.1,211 204.6,211.1 205,212 205.4,211 205.8,211.3 206.2,210.7 206.6,210.9 207,211.7 207.4,211.9 207.8,212.2 208.2,211.4 208.6,211.7 209,212.4 209.4,212.4 209.8,211.9 210.2,212 210.6,211.8 211,211.3 211.4,210.9 211.8,211.2 212.2,211.4 212.6,212.5 213,209.8 213.4,209.8 213.8,209.5 214.2,209.8 214.6,207 215,208 215.4,207.7 215.8,208.5 216.2,207.5 216.6,208.2 217,208.2 217.4,209.5 217.8,210.5 218.2,209.8 218.6,209.9 219,210.2 219.4,209.9 219.8,210.1 220.2,210.9 220.6,211.8 221,210.7 221.4,211.9 221.9,211.3 222.3,210.5 222.7,211.2 223.1,211.3 223.5,210.4 223.9,210.1 224.3,210.4 224.7,209.3 225.1,209.2 225.5,209.1 225.9,211.3 226.3,212.4 226.7,214.4 227.1,214.4 227.5,214.3 227.9,214.5 228.3,214.1 228.7,214.8 229.1,215.7 229.5,216.3 229.9,215 230.3,216.5 230.7,216.4 231.1,216.1 231.5,216.1 231.9,216.1 232.3,215.8 232.7,215.8 233.1,217.1 233.5,216.6 233.9,217.1 234.3,217.8 234.7,218.1 235.1,218.3 235.5,218.7 235.9,218.2 236.3,217.5 236.7,217.8 237.1,219.2 237.5,219 237.9,218.6 238.3,219.8 238.7,221 239.1,220.7 239.6,222.7 240,221.5 240.4,221.8 240.8,222.6 241.2,222.9 241.6,223.4 242,223.6 242.4,222.9 242.8,223.1 243.2,222.7 243.6,223.2 244,223.1 244.4,223.3 244.8,223.7 245.2,224 245.6,224.5 246,225.6 246.4,225.6 246.8,223.6 247.2,223.1 247.6,223.7 248,223.1 248.4,222.3 248.8,221.7 249.2,220.5 249.6,219.8 250,220.5 250.4,220.2 250.8,219.4 251.2,219.2 251.6,220 252,219.2 252.4,219.8 252.8,218.9 253.2,217.7 253.6,216.3 254,215.2 254.4,215.4 254.8,214.8 255.2,213.9 255.6,212.5 256,211.7 256.4,212.2 256.8,212.6 257.3,211.8 257.7,212.4 258.1,210.8 258.5,209.9 258.9,211.1 259.3,210.2 259.7,210 260.1,209.6 260.5,209.9 260.9,210.6 261.3,212.2 261.7,212.5 262.1,212.7 262.5,212.9 262.9,215.1 263.3,215.7 263.7,215.5 264.1,215.1 264.5,214.9 264.9,214.2 265.3,213.5 265.7,214.6 266.1,213.6 266.5,213.2 266.9,211.7 267.3,211 267.7,210.5 268.1,209.9 268.5,210.8 268.9,210.5 269.3,210.1 269.7,208.8 270.1,208 270.5,206.1 270.9,206.4 271.3,206.6 271.7,206.2 272.1,206.5 272.5,208 272.9,208.5 273.3,207.2 273.7,207 274.1,208.4 274.6,207.8 275,207.2 275.4,206.8 275.8,206.9 276.2,207.4 276.6,206.8 277,205.2 277.4,205.2 277.8,204.4 278.2,204.5 278.6,205.6 279,204.5 279.4,203.9 279.8,205.5 280.2,204.6 280.6,205.1 281,204.2 281.4,205 281.8,206.1 282.2,205.7 282.6,205.7 283,206 283.4,205.9 283.8,207.2 284.2,208.3 284.6,207 285,206.3 285.4,207.6 285.8,207 286.2,207.9 286.6,208.8 287,210.2 287.4,210.7 287.8,210.4 288.2,210.8 288.6,212.2 289,211.3 289.4,211.4 289.8,212.6 290.2,215 290.6,215.8 291,216.3 291.4,216.6 291.8,217.7 292.3,218.2 292.7,218.8 293.1,218.2 293.5,219 293.9,217.7 294.3,218.5 294.7,217.9 295.1,218.4 295.5,219.9 295.9,219.6 296.3,220.2 296.7,221 297.1,221.6 297.5,220.5 297.9,221.9 298.3,221.2 298.7,219.6 299.1,219.2 299.5,217.4 299.9,216.4 300.3,214.5 300.7,213.7 301.1,212.6 301.5,212 301.9,213.4 302.3,214.5 302.7,214.2 303.1,215.6 303.5,216.7 303.9,215.6 304.3,216.6 304.7,216.8 305.1,216.5 305.5,216.6 305.9,217.1 306.3,217.7 306.7,217.3 307.1,217.3 307.5,217.7 307.9,217.3 308.3,216.8 308.7,216.5 309.1,216.5 309.5,218.7 310,219.2 310.4,220.3 310.8,219.2 311.2,218.8 311.6,218.2 312,217.3 312.4,217.4 312.8,217.4 313.2,217.3 313.6,218.3 314,218.9 314.4,219.4 314.8,220.1 315.2,220.4 315.6,222.5 316,220.7 316.4,222 316.8,222.4 317.2,223.9 317.6,225.9 318,225.8 318.4,227.9" fill="none" stroke="#a8ff4d" stroke-width="1.45" stroke-linejoin="round" stroke-linecap="butt"/>
<polyline points="37.2,154.5 37.4,83.5 37.6,116.8 37.8,116.3 38.1,121.1 38.3,98.5 38.5,40.1 38.7,93.7 38.9,143.6 39.1,81.3 39.4,109 39.6,94.8 39.8,111.3 40,117.4 40.2,100.4 40.4,91.2 40.7,112.1 40.9,113.4 41.1,95.2 41.3,125.5 41.5,140.5 41.7,105.4 42,61.4 42.2,146.6 42.4,131.5 42.6,121.6 42.8,135.3 43,141 43.3,113.4 43.5,91.1 43.7,112.7 43.9,124.9 44.1,103 44.3,93.6 44.6,114.3 44.8,98.2 45,86.3 45.2,111.7 45.4,126.2 45.6,104.1 45.9,103.4 46.1,85.6 46.3,133.4 46.5,125.7 46.7,128.6 46.9,144.6 47.2,112.1 47.4,98.2 47.6,123.3 47.8,82.2 48,89.1 48.2,93.7 48.5,158.9 48.7,88.3 48.9,134.4 49.1,99.2 49.3,95.3 49.5,142 49.8,107.2 50,114.6 50.2,93.6 50.4,116.5 50.6,111.4 50.8,102.2 51.1,126.4 51.3,98.6 51.5,111.1 51.7,98.8 51.9,119 52.1,88 52.4,94 52.6,112 52.8,96.1 53,81.7 53.2,72.9 53.4,136.7 53.7,94.1 53.9,97.6 54.1,110.8 54.3,130.5 54.5,85.5 54.7,132.9 55,100 55.2,81.3 55.4,138.2 55.6,119.3 55.8,137.2 56,108.7 56.2,78.1 56.5,67.5 56.7,139.2 56.9,124.9 57.1,96.3 57.3,76.3 57.5,96.2 57.8,123.2 58,105 58.2,110.1 58.4,114.1 58.6,124.9 58.8,103 59.1,102 59.3,111.2 59.5,114.5 59.7,136.2 59.9,122.6 60.1,85.7 60.4,111.3 60.6,138.3 60.8,84.9 61,95.1 61.2,67.7 61.4,102.4 61.7,118.2 61.9,139 62.1,85.3 62.3,63.4 62.5,119.7 62.7,123.9 63,98.3 63.2,125.1 63.4,116.8 63.6,117.6 63.8,173.4 64,86.2 64.3,106.9 64.5,89.9 64.7,115.7 64.9,103.1 65.1,147.9 65.3,142.4 65.6,96.8 65.8,120.1 66,98.2 66.2,96.5 66.4,80.7 66.6,89.1 66.9,85.6 67.1,109.8 67.3,123.6 67.5,126 67.7,121.4 67.9,134.2 68.2,123.6 68.4,113.7 68.6,104.6 68.8,115.8 69,146 69.2,115.7 69.5,105.9 69.7,86.3 69.9,94.3 70.1,120.9 70.3,125.6 70.5,73.2 70.8,88.9 71,72.9 71.2,65.9 71.4,120.4 71.6,102.5 71.8,98.6 72.1,96.2 72.3,96.2 72.5,103.4 72.7,105.3 72.9,138.7 73.1,116.4 73.4,125.5 73.6,109.7 73.8,119 74,97.4 74.2,91 74.4,100.4 74.7,101.5 74.9,107.5 75.1,118.4 75.3,114.4 75.5,120.2 75.7,102.4 75.9,109.2 76.2,96.8 76.4,135.2 76.6,93.9 76.8,123.2 77,126 77.2,115.5 77.5,121.7 77.7,105 77.9,120.7 78.1,133.1 78.3,129.8 78.5,84.2 78.8,105.9 79,133.3 79.2,112.7 79.4,140 79.6,77 79.8,136.6 80.1,102.5 80.3,97 80.5,137.4 80.7,107.5 80.9,88.3 81.1,96.8 81.4,102.2 81.6,88.9 81.8,103.3 82,101.5 82.2,59.4 82.4,96.1 82.7,127.1 82.9,94.8 83.1,118.2 83.3,133.2 83.5,104.7 83.7,75.5 84,84.7 84.2,117.1 84.4,95.5 84.6,117.2 84.8,113.5 85,108.9 85.3,149.7 85.5,111.9 85.7,131.2 85.9,126.2 86.1,140.1 86.3,142.5 86.6,133.3 86.8,94.8 87,75.1 87.2,106 87.4,86.1 87.6,112.8 87.9,145.5 88.1,111.8 88.3,99.9 88.5,117.2 88.7,103.9 88.9,96.5 89.2,125.6 89.4,140 89.6,118 89.8,115 90,117.3 90.2,89.8 90.5,74.2 90.7,114 90.9,95 91.1,88.1 91.3,92 91.5,85.2 91.8,114.9 92,94.4 92.2,69.3 92.4,87.4 92.6,119.6 92.8,97.6 93.1,81.8 93.3,98 93.5,119.7 93.7,78.9 93.9,131.9 94.1,101.4 94.3,109.7 94.6,134 94.8,87 95,99 95.2,132.6 95.4,99.2 95.6,117.1 95.9,145.8 96.1,128.4 96.3,107 96.5,95.4 96.7,104.3 96.9,108.8 97.2,99 97.4,113.2 97.6,85 97.8,103.2 98,102.3 98.2,97 98.5,130 98.7,126.3 98.9,80 99.1,98.4 99.3,114.4 99.5,102.6 99.8,118.7 100,104.8 100.2,122.5 100.4,105.5 100.6,139.8 100.8,85.3 101.1,117.2 101.3,140.7 101.5,118.2 101.7,118.2 101.9,108.2 102.1,133.1 102.4,103.8 102.6,61.7 102.8,126.5 103,104.5 103.2,115.3 103.4,106.8 103.7,144 103.9,137.2 104.1,103 104.3,110.3 104.5,76.6 104.7,119.9 105,108 105.2,62.5 105.4,118.1 105.6,129.1 105.8,113.2 106,111.4 106.3,91.9 106.5,104.7 106.7,124.3 106.9,107.8 107.1,63.7 107.3,77.1 107.6,152.2 107.8,118.8 108,128.5 108.2,98.3 108.4,112.4 108.6,73.2 108.9,84.9 109.1,88 109.3,102.7 109.5,110.3 109.7,102.1 109.9,81.6 110.2,94.6 110.4,115.1 110.6,83.3 110.8,102.1 111,110.9 111.2,125.7 111.5,123 111.7,124 111.9,153.1 112.1,95.1 112.3,95.6 112.5,112.9 112.7,88 113,97.4 113.2,99.8 113.4,151.1 113.6,120.2 113.8,99.2 114,76.2 114.3,71.8 114.5,76.1 114.7,129.3 114.9,149.8 115.1,103.1 115.3,109 115.6,89.2 115.8,110.4 116,105 116.2,138.7 116.4,103.5 116.6,118 116.9,102.9 117.1,98.6 117.3,111.3 117.5,102.7 117.7,109.8 117.9,93.4 118.2,96.7 118.4,119.3 118.6,122.6 118.8,76.1 119,108.3 119.2,88.5 119.5,98.3 119.7,119.8 119.9,125.9 120.1,109.8 120.3,103.8 120.5,95.6 120.8,134 121,124.5 121.2,113.8 121.4,77.3 121.6,148.6 121.8,106.2 122.1,120.1 122.3,101.5 122.5,118.7 122.7,102.7 122.9,77 123.1,97.7 123.4,98.6 123.6,100 123.8,123.7 124,99.4 124.2,113.2 124.4,126.3 124.7,112.9 124.9,114.8 125.1,94.1 125.3,109.4 125.5,120.2 125.7,80.7 126,85 126.2,80.4 126.4,93.2 126.6,110.6 126.8,118.2 127,116.1 127.3,164.7 127.5,104.9 127.7,138.5 127.9,114.3 128.1,58.5 128.3,110.4 128.6,134.3 128.8,137.8 129,111.2 129.2,111.8 129.4,141.5 129.6,97.6 129.9,67.2 130.1,134.4 130.3,76 130.5,119.5 130.7,120.8 130.9,114.8 131.1,138.7 131.4,85.9 131.6,96 131.8,123.3 132,116.7 132.2,139.9 132.4,120.4 132.7,91.2 132.9,140.6 133.1,122.3 133.3,108.9 133.5,87.4 133.7,79 134,115.3 134.2,165.6 134.4,101.7 134.6,115.9 134.8,116.5 135,87.8 135.3,74.4 135.5,98.9 135.7,112.8 135.9,97.5 136.1,144.3 136.3,114.7 136.6,132.2 136.8,66.9 137,88.8 137.2,103.8 137.4,113.4 137.6,151.9 137.9,100.5 138.1,76 138.3,120.3 138.5,96.1 138.7,92.8 138.9,138.4 139.2,93.4 139.4,79.6 139.6,100.7 139.8,110.5 140,93 140.2,138.3 140.5,111.8 140.7,87.7 140.9,132.8 141.1,91.5 141.3,115.8 141.5,148.1 141.8,116.8 142,130.7 142.2,105.6 142.4,133.3 142.6,90.4 142.8,122.3 143.1,103.3 143.3,120.9 143.5,117.5 143.7,85.3 143.9,101.8 144.1,116.6 144.4,135.9 144.6,88.5 144.8,91.6 145,114.5 145.2,105 145.4,130.4 145.7,133.1 145.9,129.3 146.1,104.4 146.3,102.4 146.5,123.9 146.7,95.5 147,91.4 147.2,103.4 147.4,87.1 147.6,113.3 147.8,112.8 148,99.4 148.3,109.9 148.5,92.8 148.7,133.5 148.9,82.5 149.1,122.2 149.3,114.7 149.6,137.8 149.8,51.7 150,81.8 150.2,83.5 150.4,89 150.6,138.2 150.8,129.1 151.1,121.3 151.3,130.4 151.5,88.6 151.7,102.8 151.9,110 152.1,98.8 152.4,127.7 152.6,130.7 152.8,130.4 153,101.3 153.2,101.1 153.4,96.1 153.7,85.1 153.9,57.5 154.1,123.9 154.3,109 154.5,136.7 154.7,123.6 155,90 155.2,83.8 155.4,83.7 155.6,105.8 155.8,113.9 156,87.4 156.3,114.8 156.5,102.7 156.7,81.2 156.9,114.2 157.1,122.4 157.3,111.9 157.6,96.8 157.8,97.5 158,104.9 158.2,96.9 158.4,139.4 158.6,131.3 158.9,109.5 159.1,128.4 159.3,138.4 159.5,137.4 159.7,132.1 159.9,115.7 160.2,131.6 160.4,108.1 160.6,75.6 160.8,109.1 161,82.6 161.2,99.8 161.5,131.8 161.7,117.4 161.9,130.9 162.1,95.6 162.3,132 162.5,84.2 162.8,94.1 163,145.6 163.2,97.6 163.4,76.8 163.6,121.6 163.8,90.4 164.1,142 164.3,109.3 164.5,141.1 164.7,103.2 164.9,143.5 165.1,153 165.4,109.2 165.6,66.5 165.8,115.9 166,92.9 166.2,105.3 166.4,115.6 166.7,97 166.9,75.6 167.1,131 167.3,99.8 167.5,100.8 167.7,137.3 168,79.5 168.2,69 168.4,123.7 168.6,76.3 168.8,104 169,112.8 169.2,78.8 169.5,100.6 169.7,101.4 169.9,77.5 170.1,79 170.3,87.1 170.5,135.4 170.8,143 171,90.3 171.2,126.1 171.4,109.3 171.6,131.8 171.8,115.8 172.1,136.3 172.3,79.1 172.5,126.6 172.7,114.5 172.9,114.3 173.1,84.5 173.4,135.6 173.6,113.9 173.8,114.6 174,98.5 174.2,97.9 174.4,117.7 174.7,105.8 174.9,116.6 175.1,100.1 175.3,111.2 175.5,123 175.7,112.3 176,101.9 176.2,66.4 176.4,114.3 176.6,103.3 176.8,78.6 177,145.1 177.3,146.2 177.5,138 177.7,115.4 177.9,65.5 178.1,94.9 178.3,82.5 178.6,111.5 178.8,151.5 179,152.3 179.2,173.8 179.4,103.6 179.6,135.3 179.9,89.3 180.1,138 180.3,89.4 180.5,77.5 180.7,121.3 180.9,133.8 181.2,94.5 181.4,130.6 181.6,93.8 181.8,132.6 182,95 182.2,106.3 182.5,118 182.7,128.9 182.9,107.8 183.1,144.9 183.3,119.8 183.5,118.9 183.8,96.1 184,133.9 184.2,77.4 184.4,112.6 184.6,133.4 184.8,83.2 185.1,74.4 185.3,109.7 185.5,127.6 185.7,112 185.9,123.8 186.1,61.9 186.4,78.3 186.6,97.2 186.8,105.1 187,101.4 187.2,110.5 187.4,91.9 187.6,89 187.9,114.9 188.1,108.8 188.3,65.4 188.5,94.3 188.7,112.2 188.9,71.9 189.2,104 189.4,131.8 189.6,97.7 189.8,126.4 190,121.7 190.2,104 190.5,112.1 190.7,125.2 190.9,122.6 191.1,123.1 191.3,86.8 191.5,121.5 191.8,122.6 192,72.7 192.2,115.9 192.4,79.5 192.6,78.7 192.8,109.8 193.1,137.9 193.3,103.3 193.5,94.4 193.7,87.5 193.9,105.6 194.1,83.6 194.4,77.9 194.6,127.2 194.8,81.8 195,102.2 195.2,120.2 195.4,117.3 195.7,74.2 195.9,84 196.1,141 196.3,112.4 196.5,113.2 196.7,114 197,120.4 197.2,139.3 197.4,94.9 197.6,126.9 197.8,119.2 198,122.9 198.3,125.9 198.5,95.6 198.7,99.3 198.9,122.1 199.1,130.8 199.3,121.6 199.6,90.8 199.8,104.6 200,103.8 200.2,115.6 200.4,115.5 200.6,106.1 200.9,144.3 201.1,80.7 201.3,122.1 201.5,122.6 201.7,83 201.9,101.4 202.2,108.5 202.4,121.2 202.6,140.8 202.8,110.5 203,84.2 203.2,124.9 203.5,82.8 203.7,129.6 203.9,126.8 204.1,100.7 204.3,109.3 204.5,94.6 204.8,122.9 205,132.7 205.2,146.6 205.4,138.3 205.6,135 205.8,140.1 206,107.9 206.3,122.7 206.5,147.5 206.7,67.2 206.9,121.1 207.1,136.4 207.3,86.9 207.6,82.4 207.8,130.2 208,140.3 208.2,134.1 208.4,88.9 208.6,114 208.9,126.4 209.1,112.7 209.3,84.3 209.5,134.9 209.7,120.4 209.9,138.3 210.2,72.4 210.4,70.9 210.6,84.1 210.8,110.1 211,95.3 211.2,147 211.5,109.6 211.7,136.6 211.9,138.8 212.1,127.5 212.3,118.9 212.5,98.2 212.8,93.4 213,101.8 213.2,127.9 213.4,97.3 213.6,111.3 213.8,175.3 214.1,125.3 214.3,153.1 214.5,126.1 214.7,71.2 214.9,94.3 215.1,112.3 215.4,91.3 215.6,96.4 215.8,53.6 216,118.8 216.2,109.8 216.4,105.4 216.7,122.1 216.9,134.1 217.1,110.3 217.3,89.3 217.5,93.4 217.7,96.9 218,97.1 218.2,63.7 218.4,97.1 218.6,86.2 218.8,69.7 219,102.8 219.3,102.9 219.5,86.9 219.7,74.4 219.9,98 220.1,100.1 220.3,107.3 220.6,134 220.8,89.1 221,112.9 221.2,143.3 221.4,116.6 221.6,143.7 221.9,134.5 222.1,112.7 222.3,128.6 222.5,89.4 222.7,136.9 222.9,108.1 223.2,97.1 223.4,77.9 223.6,86.1 223.8,101.4 224,107.6 224.2,110.9 224.5,85.3 224.7,119.9 224.9,99.2 225.1,110.8 225.3,104.2 225.5,114.5 225.7,69.1 226,117.6 226.2,105 226.4,102.6 226.6,95.4 226.8,97.8 227,98.5 227.3,87.5 227.5,137.2 227.7,113 227.9,134.8 228.1,108.4 228.3,133.5 228.6,132.2 228.8,113.7 229,80.8 229.2,93.5 229.4,100.8 229.6,79.2 229.9,124.9 230.1,148.6 230.3,123.2 230.5,116.4 230.7,84 230.9,66.5 231.2,165.6 231.4,65.9 231.6,73.9 231.8,87 232,98.3 232.2,64.7 232.5,100.9 232.7,118 232.9,108.2 233.1,136.8 233.3,102.4 233.5,111.3 233.8,102.1 234,100.4 234.2,130.2 234.4,83.9 234.6,126.9 234.8,92.7 235.1,138.8 235.3,105.3 235.5,125.4 235.7,110.9 235.9,122.5 236.1,149.2 236.4,137.2 236.6,111.8 236.8,54.6 237,137.4 237.2,149.4 237.4,133 237.7,116.1 237.9,122.9 238.1,127.3 238.3,93.4 238.5,87.1 238.7,91 239,126.1 239.2,110.4 239.4,113.7 239.6,138.1 239.8,94.1 240,105.8 240.3,118.7 240.5,80.9 240.7,89.7 240.9,88.9 241.1,81.7 241.3,90.8 241.6,133.3 241.8,119.9 242,89.5 242.2,122.5 242.4,110.7 242.6,100.5 242.9,78.4 243.1,78.6 243.3,86.7 243.5,111 243.7,90.2 243.9,95.5 244.1,111.6 244.4,81.2 244.6,95.1 244.8,123 245,84.1 245.2,48.8 245.4,96.7 245.7,138.2 245.9,113.8 246.1,129.2 246.3,132 246.5,147 246.7,73.3 247,108.5 247.2,103.8 247.4,85.2 247.6,109.8 247.8,98 248,135.7 248.3,109.2 248.5,117.7 248.7,99.3 248.9,104.2 249.1,136.9 249.3,146.7 249.6,160.8 249.8,96.7 250,98.5 250.2,99.1 250.4,145.9 250.6,153.2 250.9,129.4 251.1,118.6 251.3,122.7 251.5,103.3 251.7,112.8 251.9,134.1 252.2,130.7 252.4,109.8 252.6,108.7 252.8,111.4 253,66.8 253.2,110 253.5,107.8 253.7,129.7 253.9,119.2 254.1,99.1 254.3,96 254.5,111.8 254.8,101.1 255,108.2 255.2,144.8 255.4,153.7 255.6,73.5 255.8,87.4 256.1,108.9 256.3,143.2 256.5,138.8 256.7,84.5 256.9,152.4 257.1,122.6 257.4,92.9 257.6,104.4 257.8,93 258,111 258.2,65.7 258.4,124.6 258.7,138.4 258.9,108.3 259.1,79.7 259.3,107.9 259.5,87.3 259.7,117.8 260,134.7 260.2,83.1 260.4,75.5 260.6,75.2 260.8,114.6 261,133.9 261.3,136.2 261.5,117.3 261.7,97.9 261.9,97.2 262.1,51.2 262.3,109.7 262.5,109.8 262.8,108.4 263,110.5 263.2,114.2 263.4,97.2 263.6,105.6 263.8,104.1 264.1,122.9 264.3,102.6 264.5,111.8 264.7,148.2 264.9,104.7 265.1,114.7 265.4,90.7 265.6,111.3 265.8,112.2 266,105.5 266.2,110 266.4,118.7 266.7,144.6 266.9,76.7 267.1,137.4 267.3,119.9 267.5,96.7 267.7,99.5 268,96.1 268.2,91.8 268.4,81.1 268.6,99.3 268.8,62.4 269,122.9 269.3,107.1 269.5,116.4 269.7,121.5 269.9,105 270.1,78.8 270.3,120.4 270.6,125.2 270.8,95.9 271,96.2 271.2,72.1 271.4,82.8 271.6,101.2 271.9,115.4 272.1,106.1 272.3,113.2 272.5,137.4 272.7,113.3 272.9,114 273.2,115 273.4,119 273.6,76.6 273.8,90.8 274,87.7 274.2,119.4 274.5,132.1 274.7,118 274.9,105.7 275.1,115.9 275.3,114.5 275.5,90 275.8,100.5 276,128.6 276.2,120.5 276.4,124.2 276.6,108.4 276.8,133.5 277.1,115.9 277.3,95.4 277.5,108.1 277.7,127.9 277.9,124.2 278.1,109.5 278.4,98.8 278.6,90.8 278.8,111 279,136.4 279.2,82.9 279.4,99.6 279.7,99.3 279.9,101.7 280.1,130.1 280.3,118.6 280.5,105.4 280.7,87.4 280.9,105.9 281.2,153.4 281.4,122 281.6,103.3 281.8,81.8 282,91.3 282.2,64.1 282.5,75.3 282.7,77.6 282.9,85.7 283.1,134.9 283.3,94.6 283.5,94.9 283.8,118.7 284,97.9 284.2,98.9 284.4,117.9 284.6,113.6 284.8,115.4 285.1,105.6 285.3,117.8 285.5,98.6 285.7,144.7 285.9,119.8 286.1,143.4 286.4,123.6 286.6,100 286.8,108.8 287,112.2 287.2,109.1 287.4,77.3 287.7,128.2 287.9,93.1 288.1,137.9 288.3,122.5 288.5,108.5 288.7,126.5 289,172.9 289.2,93.8 289.4,132.6 289.6,114.3 289.8,117.8 290,146.4 290.3,118.3 290.5,126.7 290.7,83.4 290.9,124.3 291.1,76.8 291.3,116.3 291.6,73.4 291.8,93.3 292,97.7 292.2,91.3 292.4,88.5 292.6,78.1 292.9,73.2 293.1,112.5 293.3,135.3 293.5,153 293.7,124.3 293.9,95 294.2,99.4 294.4,106.4 294.6,116.1 294.8,123.3 295,116.9 295.2,102 295.5,143 295.7,98.1 295.9,137.6 296.1,116 296.3,123.2 296.5,118.8 296.8,132.5 297,135.8 297.2,117.4 297.4,133.1 297.6,66.3 297.8,113 298.1,123.3 298.3,122.4 298.5,133.4 298.7,152.3 298.9,121.2 299.1,104.5 299.4,138.8 299.6,33.9 299.8,134.8 300,114 300.2,102.3 300.4,98.2 300.6,98.8 300.9,122.8 301.1,92.8 301.3,116.8 301.5,102.9 301.7,93.9 301.9,114.5 302.2,136.4 302.4,99.7 302.6,131.9 302.8,131 303,134.7 303.2,94.8 303.5,112 303.7,149.4 303.9,99.5 304.1,69.1 304.3,71.5 304.5,116.1 304.8,109.7 305,98.5 305.2,89.8 305.4,107.4 305.6,132.2 305.8,96.3 306.1,94.9 306.3,135.2 306.5,120.3 306.7,105.7 306.9,110.1 307.1,98.3 307.4,91.8 307.6,95.9 307.8,111.2 308,137.2 308.2,99.8 308.4,79.7 308.7,68.7 308.9,105.2 309.1,110.7 309.3,79.9 309.5,77 309.7,98.2 310,59.4 310.2,123.4 310.4,98.8 310.6,125.4 310.8,114.9 311,113.5 311.3,119.8 311.5,148.7 311.7,132.5 311.9,105.9 312.1,61.4 312.3,118.1 312.6,101.6 312.8,94.2 313,90.3 313.2,124 313.4,111.7 313.6,116.8 313.9,128.7 314.1,140.7 314.3,115.8 314.5,128.4 314.7,72.1 314.9,107.7 315.2,114.5 315.4,118.6 315.6,159.4 315.8,124.6 316,115.1 316.2,126.1 316.5,114.7 316.7,111.8 316.9,87.1 317.1,136.1 317.3,114 317.5,77.3 317.8,116.2 318,114.6 318.2,128.6 318.4,152.8" fill="none" stroke="#ffe600" stroke-width="1.55" stroke-linejoin="round" stroke-linecap="butt"/>
<polyline points="37.2,222.1 37.6,222.7 38,223.1 38.4,222.8 38.8,223.2 39.2,222.9 39.6,223.3 40,223.8 40.4,223.5 40.8,224.2 41.2,224.3 41.6,224.5 42,225.2 42.4,225.4 42.8,225.3 43.2,225.8 43.6,226.1 44,225.9 44.4,226.3 44.8,225.5 45.2,225 45.6,225.2 46.1,225.1 46.5,225.7 46.9,226.3 47.3,226.5 47.7,226.9 48.1,227.2 48.5,227.2 48.9,227 49.3,226.7 49.7,226.7 50.1,226.7 50.5,227.2 50.9,226.9 51.3,227.4 51.7,227.4 52.1,227.3 52.5,226.7 52.9,225.9 53.3,226 53.7,225.5 54.1,225.2 54.5,224.4 54.9,224.5 55.3,224.4 55.7,224.4 56.1,224.1 56.5,223.8 56.9,223.4 57.3,222.4 57.7,222.3 58.1,222.6 58.5,222.4 58.9,222.7 59.3,222.5 59.7,222.4 60.1,222 60.5,221.5 60.9,222.1 61.3,221.4 61.7,220.8 62.1,220.8 62.5,220.4 62.9,220 63.3,219.9 63.8,219.2 64.2,219.1 64.6,218.8 65,218.4 65.4,218.1 65.8,217.9 66.2,217.6 66.6,217.6 67,217.6 67.4,217.4 67.8,217.2 68.2,217.4 68.6,217.3 69,217.5 69.4,217.2 69.8,217 70.2,216.7 70.6,215.8 71,215.6 71.4,215.8 71.8,216.1 72.2,215.9 72.6,215.8 73,215.7 73.4,215.9 73.8,216.3 74.2,216.8 74.6,216.8 75,216.2 75.4,216.2 75.8,216.3 76.2,216.7 76.6,216.4 77,216.6 77.4,216.6 77.8,216.6 78.2,217.5 78.6,217.3 79,217 79.4,217.9 79.8,217.7 80.2,217.8 80.6,217.4 81,216.9 81.5,217.5 81.9,217.6 82.3,217.6 82.7,217.9 83.1,217.3 83.5,216.9 83.9,217.2 84.3,217.3 84.7,217.1 85.1,217.2 85.5,217.5 85.9,218 86.3,217.9 86.7,217.4 87.1,218 87.5,219 87.9,219.1 88.3,219.2 88.7,219.2 89.1,219.2 89.5,220.5 89.9,220.7 90.3,220.3 90.7,220.6 91.1,221.1 91.5,220.8 91.9,221 92.3,222 92.7,222.2 93.1,222.5 93.5,222.1 93.9,222.8 94.3,223.2 94.7,223.4 95.1,223.6 95.5,224.4 95.9,224.6 96.3,224 96.7,224 97.1,224.1 97.5,224.4 97.9,224.4 98.3,225.1 98.8,225.4 99.2,225.7 99.6,225.6 100,225.1 100.4,225.1 100.8,224.8 101.2,224.3 101.6,223.9 102,224.5 102.4,224.8 102.8,223.7 103.2,223.2 103.6,223.3 104,223.1 104.4,223 104.8,223.4 105.2,222.5 105.6,222.9 106,223.2 106.4,222.8 106.8,223.3 107.2,223.5 107.6,224.6 108,224.9 108.4,225 108.8,225.3 109.2,225.2 109.6,225.4 110,225.4 110.4,225.9 110.8,225.7 111.2,226.5 111.6,225.9 112,226.2 112.4,225.9 112.8,226.5 113.2,226.1 113.6,226.1 114,226.1 114.4,226.5 114.8,226.4 115.2,227.3 115.6,227.5 116,227.4 116.5,227.5 116.9,227.2 117.3,227.3 117.7,226.6 118.1,226.7 118.5,226.3 118.9,226.1 119.3,226 119.7,226.6 120.1,226.1 120.5,226.3 120.9,226.2 121.3,226.7 121.7,227 122.1,227.1 122.5,227.4 122.9,227.7 123.3,227.9 123.7,227.1 124.1,226.6 124.5,226.5 124.9,226.5 125.3,226.6 125.7,226.2 126.1,226.1 126.5,226.4 126.9,226.2 127.3,225.9 127.7,225 128.1,225.6 128.5,226.4 128.9,226 129.3,226.6 129.7,226.6 130.1,226.3 130.5,226.6 130.9,227.2 131.3,228.2 131.7,228.1 132.1,228.7 132.5,228.8 132.9,228.8 133.3,229.1 133.7,229.9 134.2,229.6 134.6,229.8 135,230.2 135.4,229.3 135.8,229 136.2,229.2 136.6,228.3 137,228.5 137.4,228.4 137.8,228.6 138.2,228.2 138.6,227.8 139,227.8 139.4,227.9 139.8,228.9 140.2,229.1 140.6,229.5 141,229.2 141.4,229.4 141.8,229.3 142.2,229.5 142.6,229.1 143,230 143.4,229.5 143.8,228.8 144.2,229.2 144.6,229.3 145,229.1 145.4,228.9 145.8,229.4 146.2,230.2 146.6,230.1 147,229.8 147.4,229.4 147.8,229.4 148.2,229.8 148.6,229.7 149,229.4 149.4,230.2 149.8,230.4 150.2,230.1 150.6,230.2 151,229.8 151.5,229 151.9,228.5 152.3,229.1 152.7,229.3 153.1,228.6 153.5,228.4 153.9,228.5 154.3,227.9 154.7,228.3 155.1,228.5 155.5,228.5 155.9,229.2 156.3,229.1 156.7,229.5 157.1,228.8 157.5,229.1 157.9,228.9 158.3,229.3 158.7,229.2 159.1,228.7 159.5,228.1 159.9,227.6 160.3,227.8 160.7,227.7 161.1,227.8 161.5,227.5 161.9,227.8 162.3,227.2 162.7,227.3 163.1,227 163.5,227.2 163.9,227.1 164.3,227.4 164.7,227.6 165.1,228.1 165.5,228.4 165.9,228.3 166.3,228 166.7,228.4 167.1,227.2 167.5,227.6 167.9,227.9 168.3,227.6 168.7,228.8 169.2,229 169.6,228.2 170,229 170.4,228.9 170.8,229.4 171.2,229.5 171.6,229.7 172,230 172.4,230 172.8,229.7 173.2,230.3 173.6,229.8 174,229 174.4,228.8 174.8,229 175.2,228.9 175.6,229.3 176,229.3 176.4,228.8 176.8,228.6 177.2,228.3 177.6,228.2 178,227.5 178.4,228.8 178.8,228.6 179.2,228.8 179.6,228.6 180,228.7 180.4,229.3 180.8,229.6 181.2,229.4 181.6,229.9 182,229.9 182.4,229.8 182.8,229.6 183.2,229.6 183.6,230.3 184,230.6 184.4,230.2 184.8,230.1 185.2,230 185.6,229.7 186,229.4 186.4,229.6 186.9,230.5 187.3,230.9 187.7,231.1 188.1,230.9 188.5,231.9 188.9,231.9 189.3,231.9 189.7,231.9 190.1,231.8 190.5,231.9 190.9,231.9 191.3,231.9 191.7,231.9 192.1,231.6 192.5,231.7 192.9,231.9 193.3,231.9 193.7,231.9 194.1,231.9 194.5,231.9 194.9,231.9 195.3,231.9 195.7,231.7 196.1,231.5 196.5,231.3 196.9,231.3 197.3,231.2 197.7,231.1 198.1,231.1 198.5,231.4 198.9,230.6 199.3,230.4 199.7,230.3 200.1,229.9 200.5,229.8 200.9,230.1 201.3,230.7 201.7,230.9 202.1,231.1 202.5,230.7 202.9,230.2 203.3,230.3 203.7,229.9 204.1,230.1 204.6,229.6 205,229.4 205.4,229.1 205.8,228.5 206.2,228.8 206.6,229 207,229.4 207.4,228.9 207.8,228.2 208.2,228.3 208.6,228.6 209,229.1 209.4,229.2 209.8,229.3 210.2,229.1 210.6,229.5 211,229.1 211.4,229 211.8,229 212.2,229.6 212.6,229.2 213,228.8 213.4,229 213.8,229.5 214.2,229.8 214.6,229.1 215,230 215.4,230 215.8,230.2 216.2,230.3 216.6,230.1 217,230.5 217.4,230.6 217.8,230.5 218.2,229.9 218.6,230.2 219,229.5 219.4,229 219.8,229.3 220.2,229 220.6,228.7 221,228.5 221.4,228.6 221.9,229.3 222.3,229.8 222.7,229.7 223.1,228.9 223.5,228 223.9,227.4 224.3,227.2 224.7,226.8 225.1,226.6 225.5,226.1 225.9,225.9 226.3,225.4 226.7,225.4 227.1,225 227.5,224.6 227.9,225.1 228.3,225 228.7,224.6 229.1,224 229.5,224.1 229.9,224.1 230.3,223.7 230.7,223.7 231.1,223.7 231.5,223.3 231.9,222.7 232.3,222 232.7,221.3 233.1,221.9 233.5,222.1 233.9,222.5 234.3,221.9 234.7,222.4 235.1,222.4 235.5,222 235.9,223.2 236.3,223.9 236.7,224.5 237.1,224.5 237.5,224.7 237.9,225.5 238.3,225.4 238.7,225.1 239.1,225 239.6,225 240,225.7 240.4,225.5 240.8,225.4 241.2,226.1 241.6,225.6 242,226 242.4,226.5 242.8,226.9 243.2,227.3 243.6,227.4 244,226.9 244.4,227.1 244.8,226.7 245.2,226.3 245.6,226.5 246,226.2 246.4,226.9 246.8,226.4 247.2,226.5 247.6,226.5 248,226.5 248.4,226.4 248.8,226.5 249.2,227.1 249.6,226.5 250,226.8 250.4,226.3 250.8,226 251.2,226.5 251.6,226.9 252,226.1 252.4,225.7 252.8,225.7 253.2,225.4 253.6,224.5 254,224 254.4,223.5 254.8,223.4 255.2,223.1 255.6,223.7 256,223.6 256.4,223.9 256.8,223.3 257.3,222.3 257.7,222.3 258.1,222.4 258.5,222.3 258.9,222.1 259.3,221.8 259.7,221.3 260.1,221 260.5,221.8 260.9,221.4 261.3,221.4 261.7,221.9 262.1,221.5 262.5,221.4 262.9,222 263.3,222.3 263.7,222.5 264.1,221.8 264.5,221.6 264.9,221.7 265.3,221.9 265.7,221.3 266.1,221.7 266.5,221.6 266.9,221.9 267.3,221.9 267.7,222.2 268.1,221.9 268.5,221.9 268.9,222.8 269.3,223 269.7,223 270.1,222.6 270.5,222.7 270.9,222.8 271.3,222.9 271.7,223 272.1,222.3 272.5,222.4 272.9,223 273.3,223.1 273.7,222.8 274.1,223 274.6,222.9 275,223 275.4,223 275.8,222.5 276.2,222.5 276.6,223.2 277,223.6 277.4,224.2 277.8,223.4 278.2,223.1 278.6,222.6 279,222.7 279.4,223.1 279.8,223 280.2,223.3 280.6,224 281,224.4 281.4,224 281.8,224.1 282.2,223.7 282.6,223.5 283,223.5 283.4,224 283.8,224.2 284.2,224.9 284.6,225.1 285,225.3 285.4,225.5 285.8,225.6 286.2,225.3 286.6,225.8 287,225.1 287.4,224.6 287.8,224 288.2,224 288.6,223.5 289,222.6 289.4,222.6 289.8,222.7 290.2,222.3 290.6,222.5 291,222.4 291.4,222.1 291.8,222.1 292.3,222.4 292.7,221.8 293.1,221.8 293.5,222.1 293.9,222.6 294.3,222.3 294.7,222 295.1,222.3 295.5,223 295.9,223.1 296.3,223.6 296.7,224.1 297.1,223.8 297.5,224 297.9,224.1 298.3,224.6 298.7,224.7 299.1,225 299.5,223.8 299.9,224.5 300.3,224.8 300.7,224.8 301.1,224.5 301.5,225 301.9,224.5 302.3,224.4 302.7,224.4 303.1,224.5 303.5,224.5 303.9,224.4 304.3,224.3 304.7,224.5 305.1,225.3 305.5,224.4 305.9,225 306.3,225.2 306.7,225.2 307.1,225.4 307.5,224.7 307.9,224.9 308.3,225.2 308.7,225.9 309.1,226 309.5,226.3 310,226.6 310.4,226 310.8,227 311.2,227.2 311.6,227.5 312,227.7 312.4,227.4 312.8,227.6 313.2,228 313.6,227.9 314,228.5 314.4,228.7 314.8,228.6 315.2,228.8 315.6,228.5 316,228.4 316.4,228.8 316.8,229.3 317.2,228.6 317.6,228.7 318,228.2 318.4,228.1" fill="none" stroke="#ff7d00" stroke-width="1.45" stroke-linejoin="round" stroke-linecap="butt"/>
<polyline points="37.2,211.5 37.6,211.3 38,212.1 38.4,212.2 38.8,212.6 39.2,212.8 39.6,214.6 40,214.1 40.4,214.9 40.8,215 41.2,213.4 41.6,213.6 42,213.8 42.4,214.5 42.8,213.9 43.2,214.3 43.6,214.3 44,213.4 44.4,214.9 44.8,214.2 45.2,213.3 45.6,212.7 46.1,212.2 46.5,211.8 46.9,211.5 47.3,211.1 47.7,211.1 48.1,210.8 48.5,213.3 48.9,214.5 49.3,213 49.7,213.2 50.1,214.4 50.5,211.8 50.9,211.7 51.3,212.1 51.7,213.4 52.1,213.9 52.5,213.3 52.9,213.5 53.3,214.1 53.7,214.2 54.1,214 54.5,212.4 54.9,213 55.3,213.6 55.7,213.1 56.1,212.5 56.5,213.1 56.9,214.2 57.3,214.7 57.7,214.9 58.1,214.8 58.5,213.6 58.9,214.6 59.3,215.8 59.7,215.1 60.1,214.4 60.5,215.3 60.9,215 61.3,216.2 61.7,216.5 62.1,218.9 62.5,217.9 62.9,218.4 63.3,216.8 63.8,215.9 64.2,215.8 64.6,215 65,214.9 65.4,215.2 65.8,215.1 66.2,215.3 66.6,213.3 67,213.8 67.4,214.8 67.8,214.9 68.2,213.9 68.6,214.6 69,211.8 69.4,212.7 69.8,212.8 70.2,213.5 70.6,213.6 71,214.5 71.4,215 71.8,217.2 72.2,215 72.6,215.4 73,215.5 73.4,214.3 73.8,214.6 74.2,213.9 74.6,214.7 75,214 75.4,214.1 75.8,214.9 76.2,214.7 76.6,215.4 77,216 77.4,215.3 77.8,214.6 78.2,212.6 78.6,212.2 79,211.5 79.4,210.6 79.8,210.1 80.2,210.5 80.6,210.6 81,210.7 81.5,210 81.9,209.2 82.3,210.6 82.7,209.9 83.1,210.3 83.5,209.6 83.9,207.4 84.3,208.8 84.7,210.7 85.1,211.4 85.5,211 85.9,212 86.3,211.9 86.7,213 87.1,214.2 87.5,213.5 87.9,213.6 88.3,212.6 88.7,213.8 89.1,214.8 89.5,214.8 89.9,215.2 90.3,214.6 90.7,213 91.1,213.2 91.5,214.5 91.9,213 92.3,212.2 92.7,213.3 93.1,213.9 93.5,215.9 93.9,215.2 94.3,217.2 94.7,217.3 95.1,215.6 95.5,214.8 95.9,215.5 96.3,215.4 96.7,214.9 97.1,215 97.5,214.6 97.9,215.1 98.3,216.3 98.8,214.4 99.2,216.6 99.6,215.7 100,216.2 100.4,216.1 100.8,216.2 101.2,214.8 101.6,213.3 102,212.4 102.4,211.1 102.8,211.2 103.2,211.2 103.6,211.3 104,212.5 104.4,212.6 104.8,211.8 105.2,212 105.6,210.8 106,210.4 106.4,209.5 106.8,208.9 107.2,208.5 107.6,209.6 108,207.8 108.4,206.6 108.8,207.3 109.2,209 109.6,208.5 110,207 110.4,207.4 110.8,208 111.2,206.9 111.6,208.1 112,209.2 112.4,209.6 112.8,210.4 113.2,208.9 113.6,208 114,207.8 114.4,209.5 114.8,209.8 115.2,209.9 115.6,209.9 116,210.5 116.5,211.7 116.9,211.6 117.3,211.1 117.7,210.7 118.1,211.1 118.5,210.8 118.9,211.3 119.3,211.6 119.7,211.1 120.1,211.2 120.5,211.4 120.9,211.7 121.3,211.3 121.7,211.2 122.1,211.7 122.5,212.8 122.9,212.4 123.3,211.4 123.7,210.8 124.1,212.1 124.5,211.9 124.9,212.4 125.3,212.4 125.7,212.4 126.1,211.5 126.5,212.5 126.9,211.9 127.3,210.7 127.7,210.2 128.1,211.3 128.5,211 128.9,210.5 129.3,211.1 129.7,211.6 130.1,211.1 130.5,211.3 130.9,212.2 131.3,212 131.7,211.4 132.1,210.8 132.5,211.4 132.9,212 133.3,211.1 133.7,212.1 134.2,211.3 134.6,210 135,209.2 135.4,209.1 135.8,209.4 136.2,208 136.6,207.8 137,207 137.4,205.9 137.8,204.9 138.2,205.3 138.6,205.8 139,206.1 139.4,207 139.8,208.2 140.2,206.7 140.6,205.3 141,205.5 141.4,205.5 141.8,204.9 142.2,203.6 142.6,204 143,203.6 143.4,203.2 143.8,202.8 144.2,201.9 144.6,203 145,203.3 145.4,201.3 145.8,202.3 146.2,201.4 146.6,201.3 147,200.8 147.4,201.1 147.8,201.6 148.2,202.6 148.6,202.6 149,201.9 149.4,201.4 149.8,202.4 150.2,201.1 150.6,200.5 151,201.3 151.5,200.2 151.9,200.8 152.3,200.4 152.7,201.3 153.1,201.7 153.5,201.8 153.9,202.9 154.3,202.7 154.7,202.3 155.1,202 155.5,201.9 155.9,202.2 156.3,201.7 156.7,201.1 157.1,202 157.5,204.2 157.9,204 158.3,206.4 158.7,206.5 159.1,206.1 159.5,207.2 159.9,206.3 160.3,206 160.7,206.7 161.1,208 161.5,208.4 161.9,209.7 162.3,211 162.7,210.3 163.1,210.6 163.5,210.5 163.9,211.2 164.3,213.4 164.7,214.3 165.1,212.4 165.5,212.2 165.9,212.4 166.3,211.7 166.7,212.5 167.1,213.4 167.5,215 167.9,214.7 168.3,214.3 168.7,214.3 169.2,215.1 169.6,215.8 170,217.2 170.4,218 170.8,219.5 171.2,219.2 171.6,219.9 172,219 172.4,218.1 172.8,217.8 173.2,217.8 173.6,216.8 174,216.7 174.4,216.4 174.8,215.8 175.2,215.8 175.6,215.8 176,214.5 176.4,215.3 176.8,214.3 177.2,215 177.6,214.2 178,214.6 178.4,213.2 178.8,212.1 179.2,212.4 179.6,212.3 180,212.3 180.4,212.7 180.8,211.3 181.2,209.8 181.6,210.4 182,209.5 182.4,210.3 182.8,211.3 183.2,209.8 183.6,210.2 184,210.6 184.4,210.4 184.8,210.9 185.2,210.3 185.6,209.5 186,211 186.4,211.4 186.9,211.9 187.3,213.1 187.7,213 188.1,211.6 188.5,210 188.9,208.6 189.3,210 189.7,209.2 190.1,209.6 190.5,210.2 190.9,209.2 191.3,208.3 191.7,208.1 192.1,209.2 192.5,211.2 192.9,212 193.3,211.1 193.7,211.6 194.1,210.6 194.5,211.3 194.9,211.3 195.3,210.9 195.7,210.1 196.1,210.5 196.5,210.3 196.9,209.9 197.3,209.9 197.7,209.3 198.1,210.5 198.5,210.7 198.9,211.4 199.3,213.3 199.7,212.6 200.1,212.2 200.5,211.5 200.9,210.6 201.3,210.7 201.7,210.2 202.1,210.3 202.5,209.5 202.9,210 203.3,209.9 203.7,210.4 204.1,210.8 204.6,210.1 205,211.2 205.4,210.3 205.8,211 206.2,211 206.6,210.6 207,211 207.4,211.1 207.8,212.7 208.2,212.3 208.6,212.5 209,211.3 209.4,212 209.8,210.7 210.2,211.1 210.6,211.1 211,211 211.4,210.8 211.8,211.7 212.2,210.8 212.6,212 213,211.8 213.4,211.5 213.8,211.1 214.2,210.6 214.6,212.6 215,211.9 215.4,212.2 215.8,212.6 216.2,212.5 216.6,213.6 217,213.6 217.4,213.8 217.8,214.2 218.2,213.6 218.6,214.6 219,214.1 219.4,214.4 219.8,213.2 220.2,212.1 220.6,211.2 221,212.5 221.4,212.9 221.9,213.3 222.3,212.8 222.7,212.9 223.1,213.6 223.5,213.4 223.9,214.3 224.3,213.9 224.7,213.5 225.1,213.7 225.5,213.6 225.9,214 226.3,215.2 226.7,215 227.1,215.2 227.5,214.3 227.9,213.8 228.3,213.4 228.7,213.7 229.1,214 229.5,214 229.9,213.8 230.3,214.9 230.7,214.8 231.1,214.7 231.5,214.8 231.9,215.3 232.3,216.4 232.7,216.1 233.1,217.4 233.5,215.8 233.9,216.2 234.3,216.2 234.7,216.3 235.1,216.9 235.5,216.9 235.9,216.5 236.3,218.4 236.7,218.8 237.1,218.9 237.5,218.8 237.9,219.4 238.3,219.1 238.7,219.8 239.1,219.4 239.6,217.4 240,219.2 240.4,219.5 240.8,220.7 241.2,221.3 241.6,221.3 242,221.4 242.4,220.7 242.8,221.8 243.2,221.9 243.6,221.1 244,221.3 244.4,220.7 244.8,222.3 245.2,223.4 245.6,224.7 246,224.6 246.4,223.6 246.8,225 247.2,224.9 247.6,224.1 248,223.8 248.4,223.1 248.8,224.1 249.2,223.9 249.6,224.9 250,224.8 250.4,224.6 250.8,225.1 251.2,224.3 251.6,224.9 252,222.4 252.4,221.4 252.8,221.5 253.2,222.6 253.6,224.9 254,225 254.4,223.5 254.8,220.7 255.2,219.5 255.6,219.9 256,218.8 256.4,217.8 256.8,218.7 257.3,217.9 257.7,216.8 258.1,216.8 258.5,217.6 258.9,217.7 259.3,216.9 259.7,217.8 260.1,218.7 260.5,218.4 260.9,219.2 261.3,217.2 261.7,216.9 262.1,215 262.5,213.3 262.9,214.6 263.3,214.7 263.7,213.4 264.1,212.6 264.5,212.4 264.9,212.1 265.3,211 265.7,209.7 266.1,210.3 266.5,211.2 266.9,210.2 267.3,210.4 267.7,209.1 268.1,209.9 268.5,208.7 268.9,209.9 269.3,209.3 269.7,208.5 270.1,207.9 270.5,206.8 270.9,207.4 271.3,208.7 271.7,208.2 272.1,207.8 272.5,207.9 272.9,208.5 273.3,208.6 273.7,207.6 274.1,207 274.6,208.3 275,207.9 275.4,208.2 275.8,209.1 276.2,206 276.6,205.9 277,206.7 277.4,207.1 277.8,208.2 278.2,208.7 278.6,208.1 279,206.9 279.4,204.4 279.8,205.3 280.2,203.6 280.6,203.4 281,204.3 281.4,203.4 281.8,202.8 282.2,202.2 282.6,200.3 283,201.4 283.4,201.4 283.8,202.1 284.2,202.5 284.6,203.6 285,203.5 285.4,203.2 285.8,202.6 286.2,202.5 286.6,204.9 287,203.9 287.4,202.9 287.8,202.1 288.2,200.1 288.6,199.3 289,198.1 289.4,198.4 289.8,198.9 290.2,197.9 290.6,198 291,197.7 291.4,198 291.8,198.3 292.3,197.9 292.7,197.9 293.1,196.4 293.5,194.6 293.9,192.3 294.3,192 294.7,192.8 295.1,191.6 295.5,191.4 295.9,189.4 296.3,188.3 296.7,187.4 297.1,186.9 297.5,187.8 297.9,188.8 298.3,188 298.7,188.1 299.1,188.9 299.5,189.3 299.9,189.2 300.3,189.2 300.7,188.2 301.1,187.5 301.5,187.5 301.9,186.7 302.3,185.9 302.7,186.1 303.1,185.1 303.5,184.6 303.9,184.6 304.3,184.6 304.7,184.6 305.1,184.6 305.5,184.6 305.9,184.6 306.3,184.6 306.7,184.6 307.1,184.6 307.5,184.6 307.9,184.9 308.3,187.2 308.7,186.5 309.1,188.3 309.5,190.5 310,190.2 310.4,192.6 310.8,193 311.2,193.9 311.6,194.1 312,195.1 312.4,193.4 312.8,193.7 313.2,192.5 313.6,191.8 314,191.8 314.4,193.1 314.8,194.5 315.2,193 315.6,192.4 316,192.7 316.4,192.9 316.8,194.1 317.2,194.2 317.6,195.6 318,195.5 318.4,196.3" fill="none" stroke="#ff1400" stroke-width="1.45" stroke-linejoin="round" stroke-linecap="butt"/>
<polyline points="37.2,212.4 37.6,212.7 38,212.9 38.4,212.8 38.8,212.6 39.2,212.9 39.6,213.2 40,213 40.4,213.1 40.8,213 41.2,212.6 41.6,212.9 42,212 42.4,212.7 42.8,212.2 43.2,212 43.6,211.2 44,211.2 44.4,211.3 44.8,211.4 45.2,211.1 45.6,211.3 46.1,211.2 46.5,210.6 46.9,210.3 47.3,210.3 47.7,209.5 48.1,209.3 48.5,209.5 48.9,209.6 49.3,209.8 49.7,209.8 50.1,210.4 50.5,209.9 50.9,210.4 51.3,210.4 51.7,210.7 52.1,211.1 52.5,211.8 52.9,211.4 53.3,211.4 53.7,211.8 54.1,211.8 54.5,212.4 54.9,213 55.3,213.4 55.7,213.6 56.1,213.7 56.5,213.7 56.9,213.2 57.3,214 57.7,213.5 58.1,213.8 58.5,214.1 58.9,215 59.3,214.6 59.7,214.9 60.1,214.9 60.5,214.7 60.9,214.5 61.3,214.9 61.7,214.7 62.1,214.3 62.5,214.2 62.9,215 63.3,215.1 63.8,215.1 64.2,215.5 64.6,215.1 65,215.2 65.4,215.2 65.8,215.3 66.2,215.6 66.6,215.8 67,215.1 67.4,215.3 67.8,214.8 68.2,214.6 68.6,214.8 69,214.9 69.4,214.5 69.8,214 70.2,214.4 70.6,214.8 71,215 71.4,214.9 71.8,215.5 72.2,214.7 72.6,215.5 73,215.1 73.4,214.7 73.8,214.9 74.2,215.2 74.6,215.4 75,215.5 75.4,215.1 75.8,215.1 76.2,215.2 76.6,215.5 77,215.2 77.4,215.2 77.8,215.6 78.2,215.9 78.6,215.9 79,215.7 79.4,215.3 79.8,214.4 80.2,213.7 80.6,213.5 81,213.2 81.5,213.4 81.9,213.7 82.3,213 82.7,213.4 83.1,213.7 83.5,213.8 83.9,213.4 84.3,213.5 84.7,213.4 85.1,213.4 85.5,214 85.9,213.9 86.3,214 86.7,214.6 87.1,215 87.5,215.1 87.9,214.6 88.3,214.3 88.7,214.4 89.1,214.4 89.5,214.7 89.9,214.3 90.3,214.6 90.7,215.1 91.1,215.1 91.5,215.3 91.9,215.2 92.3,214.8 92.7,215.3 93.1,215.5 93.5,215.1 93.9,215 94.3,215.2 94.7,215.1 95.1,215.2 95.5,214.3 95.9,214.9 96.3,214.7 96.7,214.7 97.1,214.4 97.5,214.6 97.9,214.7 98.3,214.5 98.8,214.8 99.2,215.4 99.6,214.4 100,213.8 100.4,213.6 100.8,213.6 101.2,214.1 101.6,214.1 102,214.1 102.4,213.8 102.8,213.9 103.2,213.6 103.6,213.4 104,213.3 104.4,212.6 104.8,213.2 105.2,212.7 105.6,212 106,212.2 106.4,211.9 106.8,211.5 107.2,211.5 107.6,211.4 108,211.1 108.4,211.3 108.8,210.8 109.2,211.4 109.6,212 110,211.5 110.4,211.5 110.8,211.5 111.2,211.9 111.6,212.1 112,212.1 112.4,211.9 112.8,211.9 113.2,212.1 113.6,212.2 114,212.5 114.4,212.3 114.8,212.4 115.2,212.4 115.6,212.9 116,212.7 116.5,212.8 116.9,212.9 117.3,213.1 117.7,213.1 118.1,212.9 118.5,213.3 118.9,213.6 119.3,213.6 119.7,213.9 120.1,213.8 120.5,214.3 120.9,213.8 121.3,213 121.7,213 122.1,213.3 122.5,213.4 122.9,213.6 123.3,213.5 123.7,213.1 124.1,213 124.5,212.9 124.9,213.4 125.3,213.1 125.7,213.4 126.1,213.4 126.5,213.5 126.9,213.4 127.3,212.8 127.7,213 128.1,212.9 128.5,212.7 128.9,213.3 129.3,213.8 129.7,213.1 130.1,213.1 130.5,212.5 130.9,212.6 131.3,213 131.7,212.6 132.1,212.6 132.5,212.3 132.9,212.5 133.3,212 133.7,212 134.2,211.7 134.6,211.4 135,211.7 135.4,211.7 135.8,212 136.2,212 136.6,211.2 137,211 137.4,210.5 137.8,211 138.2,211.2 138.6,211 139,211.2 139.4,211 139.8,211.5 140.2,211.3 140.6,211.5 141,211.4 141.4,211.1 141.8,210.9 142.2,210.9 142.6,210.9 143,210.6 143.4,210.2 143.8,210 144.2,210.1 144.6,210.7 145,210.7 145.4,210.3 145.8,210.4 146.2,210.4 146.6,210.3 147,209.9 147.4,209.6 147.8,209.7 148.2,209.7 148.6,209.2 149,209.6 149.4,208.9 149.8,208.7 150.2,208.7 150.6,209.2 151,208.7 151.5,209 151.9,208.9 152.3,208.7 152.7,208.7 153.1,208.7 153.5,208.5 153.9,209 154.3,208.9 154.7,209.1 155.1,209.2 155.5,209.3 155.9,209.2 156.3,209.3 156.7,209.1 157.1,208.9 157.5,208.5 157.9,208 158.3,207.9 158.7,208.2 159.1,207.8 159.5,207.4 159.9,207.6 160.3,207.9 160.7,208 161.1,207.7 161.5,207.7 161.9,207.4 162.3,206.9 162.7,206.4 163.1,206.2 163.5,206.1 163.9,205.8 164.3,205.3 164.7,205.2 165.1,205.1 165.5,205.1 165.9,205.5 166.3,205.5 166.7,205.5 167.1,206 167.5,206.5 167.9,206.3 168.3,206.3 168.7,206.5 169.2,206.7 169.6,207.4 170,207.7 170.4,207.8 170.8,208.4 171.2,208.4 171.6,208.4 172,208.6 172.4,209 172.8,208.4 173.2,208.1 173.6,208.2 174,208.2 174.4,208.4 174.8,207.8 175.2,207.8 175.6,207.6 176,208 176.4,207.9 176.8,208.4 177.2,207.7 177.6,207.5 178,208.4 178.4,208.4 178.8,208.5 179.2,208.3 179.6,207.9 180,208 180.4,207.2 180.8,207 181.2,207.6 181.6,208.1 182,208.1 182.4,208.3 182.8,208.2 183.2,207.9 183.6,208.3 184,208 184.4,208.3 184.8,207.9 185.2,208.1 185.6,207.9 186,208 186.4,207.9 186.9,207.8 187.3,207.8 187.7,208 188.1,207.7 188.5,208.4 188.9,208 189.3,208.2 189.7,208.1 190.1,208.1 190.5,208.2 190.9,208 191.3,208.4 191.7,208.5 192.1,209.3 192.5,209.2 192.9,209.5 193.3,208.9 193.7,209.3 194.1,209.5 194.5,209.5 194.9,208.8 195.3,209.5 195.7,209.6 196.1,209.3 196.5,208.8 196.9,209.4 197.3,209.9 197.7,210 198.1,209.6 198.5,209.5 198.9,209.4 199.3,209.5 199.7,209.4 200.1,209.1 200.5,209.2 200.9,209.1 201.3,209.2 201.7,209 202.1,208.9 202.5,208.7 202.9,208.7 203.3,208.4 203.7,208.4 204.1,208.5 204.6,209 205,208.7 205.4,207.7 205.8,208.2 206.2,208.2 206.6,208.2 207,208.6 207.4,208.8 207.8,209.3 208.2,209.1 208.6,208.6 209,208 209.4,207.8 209.8,208.1 210.2,207.3 210.6,207.5 211,207.6 211.4,207.9 211.8,207.5 212.2,207.3 212.6,207.6 213,207.9 213.4,207.5 213.8,207.6 214.2,207.6 214.6,207.6 215,207.6 215.4,207.4 215.8,207.6 216.2,208 216.6,207.5 217,207.3 217.4,207.3 217.8,207.5 218.2,207.2 218.6,207.3 219,208 219.4,208.4 219.8,208.9 220.2,209.1 220.6,209.7 221,210 221.4,209.7 221.9,209.7 222.3,209.9 222.7,210 223.1,209.9 223.5,209.7 223.9,210.9 224.3,210.7 224.7,210.7 225.1,210.4 225.5,210.4 225.9,210.5 226.3,210.3 226.7,210.7 227.1,210.5 227.5,210.3 227.9,210.3 228.3,210.6 228.7,210.1 229.1,210.3 229.5,210.1 229.9,210.1 230.3,210.2 230.7,210.4 231.1,211.3 231.5,210.9 231.9,210.9 232.3,211.2 232.7,210.7 233.1,210.6 233.5,210.4 233.9,210.7 234.3,210.5 234.7,210.3 235.1,210.2 235.5,209.9 235.9,209.3 236.3,209.3 236.7,209.3 237.1,209 237.5,209.1 237.9,208.8 238.3,208.6 238.7,208.4 239.1,208.1 239.6,207.4 240,206.8 240.4,206.2 240.8,205.8 241.2,206.1 241.6,206.2 242,205.6 242.4,205.1 242.8,204.5 243.2,204.6 243.6,204.4 244,204.7 244.4,203.9 244.8,203.5 245.2,203.6 245.6,203.3 246,203.1 246.4,203.4 246.8,203.5 247.2,203.4 247.6,203.3 248,203.4 248.4,202.7 248.8,203 249.2,203.1 249.6,203 250,202.9 250.4,202.8 250.8,202.6 251.2,203.1 251.6,203.4 252,203.4 252.4,202.9 252.8,202.9 253.2,202.5 253.6,202.8 254,202.6 254.4,203 254.8,203.1 255.2,203 255.6,202.8 256,202.9 256.4,202.5 256.8,202.8 257.3,202.6 257.7,203.5 258.1,203.3 258.5,204.1 258.9,204.5 259.3,203.9 259.7,204.4 260.1,205.4 260.5,205.6 260.9,205.5 261.3,204.9 261.7,205.3 262.1,205.8 262.5,206 262.9,206.1 263.3,205.9 263.7,205.8 264.1,206.3 264.5,206.2 264.9,206.9 265.3,206.6 265.7,207.1 266.1,207.7 266.5,207.2 266.9,206.9 267.3,206.5 267.7,206 268.1,205.8 268.5,205.3 268.9,205.8 269.3,204.9 269.7,204.9 270.1,205.2 270.5,205.3 270.9,204.4 271.3,204.7 271.7,204.2 272.1,204.5 272.5,204.5 272.9,205.3 273.3,205.2 273.7,205.3 274.1,204.9 274.6,205.1 275,205.6 275.4,205.1 275.8,205.1 276.2,204.9 276.6,205 277,204.9 277.4,204.8 277.8,204.6 278.2,204.6 278.6,204.7 279,204.4 279.4,204.4 279.8,204.6 280.2,204 280.6,204.1 281,204.5 281.4,204.9 281.8,204.9 282.2,204.5 282.6,204.4 283,204.3 283.4,203.5 283.8,203.7 284.2,204.2 284.6,204.2 285,204.2 285.4,204.5 285.8,205.4 286.2,205.7 286.6,205.2 287,205.6 287.4,205.8 287.8,206.1 288.2,206.7 288.6,207.3 289,207.5 289.4,207.4 289.8,207.8 290.2,207.6 290.6,208.4 291,208.3 291.4,208.8 291.8,209.2 292.3,209.5 292.7,209.9 293.1,210.3 293.5,210.2 293.9,210.3 294.3,210 294.7,210.2 295.1,209.7 295.5,210 295.9,210.3 296.3,211 296.7,210.9 297.1,211.1 297.5,211.4 297.9,210.6 298.3,211.2 298.7,211 299.1,210.7 299.5,210.8 299.9,210.2 300.3,210.2 300.7,210.4 301.1,209.9 301.5,210.2 301.9,210.9 302.3,211.1 302.7,211.1 303.1,211.3 303.5,211.1 303.9,211.7 304.3,211.5 304.7,210.5 305.1,210.9 305.5,211.2 305.9,210.9 306.3,210.6 306.7,210.7 307.1,211.4 307.5,211.7 307.9,211.3 308.3,211.3 308.7,211.6 309.1,212.5 309.5,212.7 310,213.1 310.4,212.7 310.8,212.2 311.2,211.4 311.6,211.1 312,211 312.4,211.1 312.8,211.2 313.2,211.9 313.6,211.7 314,211.3 314.4,211.8 314.8,211.2 315.2,211 315.6,210.7 316,210.5 316.4,210.4 316.8,210.3 317.2,209.9 317.6,210.2 318,209.5 318.4,209.6" fill="none" stroke="#800000" stroke-width="1.45" stroke-linejoin="round" stroke-linecap="butt"/>
<rect x="22.8" y="24" width="309" height="229.4" fill="none" stroke="#646464" stroke-width="1.2"/>
<line x1="37.2" y1="253.4" x2="37.2" y2="256.6" stroke="#444444" stroke-width="0.9"/>
<text x="36.4" y="267" font-size="9.4" text-anchor="middle" fill="#333333">0</text>
<line x1="93.4" y1="253.4" x2="93.4" y2="256.6" stroke="#444444" stroke-width="0.9"/>
<text x="92.6" y="267" font-size="9.4" text-anchor="middle" fill="#333333">2000</text>
<line x1="149.7" y1="253.4" x2="149.7" y2="256.6" stroke="#444444" stroke-width="0.9"/>
<text x="148.9" y="267" font-size="9.4" text-anchor="middle" fill="#333333">4000</text>
<line x1="205.9" y1="253.4" x2="205.9" y2="256.6" stroke="#444444" stroke-width="0.9"/>
<text x="205.1" y="267" font-size="9.4" text-anchor="middle" fill="#333333">6000</text>
<line x1="262.2" y1="253.4" x2="262.2" y2="256.6" stroke="#444444" stroke-width="0.9"/>
<text x="261.4" y="267" font-size="9.4" text-anchor="middle" fill="#333333">8000</text>
<line x1="318.4" y1="253.4" x2="318.4" y2="256.6" stroke="#444444" stroke-width="0.9"/>
<text x="317.6" y="267" font-size="9.4" text-anchor="middle" fill="#333333">10000</text>
<line x1="19.6" y1="228.4" x2="22.8" y2="228.4" stroke="#444444" stroke-width="0.9"/>
<text x="16.2" y="231.8" font-size="9.5" text-anchor="end" fill="#333333">20</text>
<line x1="19.6" y1="180.1" x2="22.8" y2="180.1" stroke="#444444" stroke-width="0.9"/>
<text x="16.2" y="183.5" font-size="9.5" text-anchor="end" fill="#333333">30</text>
<line x1="19.6" y1="131.9" x2="22.8" y2="131.9" stroke="#444444" stroke-width="0.9"/>
<text x="16.2" y="135.3" font-size="9.5" text-anchor="end" fill="#333333">40</text>
<line x1="19.6" y1="83.6" x2="22.8" y2="83.6" stroke="#444444" stroke-width="0.9"/>
<text x="16.2" y="87" font-size="9.5" text-anchor="end" fill="#333333">50</text>
<line x1="19.6" y1="35.3" x2="22.8" y2="35.3" stroke="#444444" stroke-width="0.9"/>
<text x="16.2" y="38.7" font-size="9.5" text-anchor="end" fill="#333333">60</text>
</g>
<g>
<polyline points="37.9,339.2 38.3,338.3 38.7,338.4 39.1,338.9 39.5,339.5 39.9,339.1 40.3,338.5 40.7,337.7 41.1,338.1 41.5,339.6 41.9,338.6 42.3,338.4 42.7,338 43.1,338.3 43.5,338.5 43.9,338.7 44.3,339 44.7,339.4 45.1,340.4 45.5,341 45.9,341.7 46.3,342.1 46.7,341.3 47.1,340.5 47.5,339.4 47.9,338.5 48.3,340.4 48.7,341.3 49.1,341 49.5,340.7 49.9,341.1 50.3,340.6 50.7,341.6 51.1,341 51.5,340.2 51.9,339.9 52.3,339.4 52.7,338.6 53.1,338.7 53.6,338.7 54,338.5 54.4,338.8 54.8,339 55.2,337.6 55.6,335.9 56,336.8 56.4,336.3 56.8,336.9 57.2,336.7 57.6,335.6 58,335.3 58.4,336.3 58.8,336.1 59.2,335.9 59.6,335.9 60,335.9 60.4,335.8 60.8,334.1 61.2,333.6 61.6,334.5 62,334.2 62.4,334.4 62.8,335 63.2,335.8 63.6,335.5 64,335.5 64.4,334.8 64.8,333.4 65.2,334.9 65.6,335.3 66,335 66.4,335.4 66.8,336.6 67.2,336.4 67.6,335.3 68,334.1 68.4,334 68.8,333.7 69.2,334.8 69.6,333.1 70,333.6 70.4,334.1 70.8,333.6 71.2,334.4 71.6,335.5 72,336 72.4,336.5 72.8,336.7 73.2,335.4 73.6,334.9 74,334.5 74.4,334.8 74.8,336.1 75.2,335.8 75.6,336.2 76,336.3 76.4,336.5 76.8,336.3 77.2,338 77.6,338.2 78,337.9 78.4,337.9 78.8,337.3 79.2,335.2 79.6,335.7 80,335.4 80.4,335.1 80.8,334.6 81.2,334.5 81.6,335.4 82,334.9 82.4,334.6 82.8,335.3 83.2,336 83.6,335 84,335.9 84.4,336.4 84.9,337.5 85.3,336.5 85.7,336.2 86.1,336.4 86.5,336.6 86.9,336.9 87.3,337.8 87.7,338.8 88.1,338.3 88.5,339 88.9,337.2 89.3,339.1 89.7,338.5 90.1,339 90.5,337.6 90.9,337.8 91.3,338.6 91.7,337.2 92.1,336.4 92.5,336.5 92.9,336.5 93.3,337.2 93.7,337.8 94.1,336.4 94.5,336.1 94.9,335.7 95.3,336.6 95.7,336.4 96.1,336.1 96.5,334.5 96.9,334.4 97.3,333.8 97.7,333 98.1,333.5 98.5,333.8 98.9,333.8 99.3,332.5 99.7,332.4 100.1,331.7 100.5,332.6 100.9,332.1 101.3,330.9 101.7,330.9 102.1,329.9 102.5,329.3 102.9,328.5 103.3,329.2 103.7,329 104.1,329 104.5,330.8 104.9,331 105.3,330.9 105.7,330.6 106.1,331.1 106.5,330.2 106.9,330.8 107.3,330.6 107.7,331.6 108.1,331.4 108.5,329.1 108.9,329.2 109.3,328.8 109.7,328.6 110.1,327.9 110.5,328.6 110.9,328 111.3,328.5 111.7,328.8 112.1,329.6 112.5,329.1 112.9,329.4 113.3,329.7 113.7,330.8 114.1,333.2 114.5,333.2 114.9,332.9 115.3,334.6 115.7,335.2 116.2,335.3 116.6,336.2 117,335.9 117.4,337.3 117.8,336.1 118.2,336.6 118.6,336.3 119,337.3 119.4,337.3 119.8,337 120.2,336.9 120.6,338 121,340.7 121.4,340.2 121.8,341.6 122.2,341.3 122.6,341.2 123,343 123.4,344.3 123.8,343.7 124.2,343.8 124.6,343.8 125,344.2 125.4,345.6 125.8,345.7 126.2,345.2 126.6,345.8 127,346.7 127.4,345.7 127.8,346 128.2,345.9 128.6,346.4 129,346 129.4,347.3 129.8,346.9 130.2,347 130.6,347.8 131,346.6 131.4,346.4 131.8,345.7 132.2,346.7 132.6,345.5 133,345.3 133.4,345.9 133.8,346.9 134.2,347 134.6,347 135,347 135.4,347.1 135.8,347.7 136.2,347.1 136.6,347.1 137,348.7 137.4,349.3 137.8,350.6 138.2,351.9 138.6,351.9 139,350.4 139.4,349.9 139.8,350.7 140.2,350.4 140.6,350.5 141,350.1 141.4,350.4 141.8,349.7 142.2,349.4 142.6,350.4 143,350.5 143.4,349.9 143.8,350.5 144.2,350.1 144.6,351 145,350.3 145.4,351.2 145.8,351.7 146.2,351.4 146.6,353.7 147.1,351.9 147.5,351.6 147.9,351.3 148.3,351 148.7,351.2 149.1,352.6 149.5,352.6 149.9,352.7 150.3,352.9 150.7,353 151.1,352.5 151.5,351.9 151.9,351.2 152.3,350.5 152.7,350.7 153.1,349.8 153.5,349.8 153.9,349.6 154.3,351 154.7,349.8 155.1,349 155.5,348.1 155.9,348 156.3,347.2 156.7,347.3 157.1,347.2 157.5,347.6 157.9,347.1 158.3,345.8 158.7,345.7 159.1,345.2 159.5,346.1 159.9,346.2 160.3,345.4 160.7,346.1 161.1,346.6 161.5,346.8 161.9,347.8 162.3,348 162.7,347.7 163.1,348.8 163.5,348.8 163.9,349.7 164.3,348.9 164.7,349.9 165.1,349.8 165.5,349.9 165.9,348.7 166.3,349.5 166.7,349.3 167.1,348 167.5,348.6 167.9,348.6 168.3,347 168.7,347.4 169.1,347.4 169.5,347.6 169.9,345.9 170.3,346.4 170.7,346.6 171.1,347.2 171.5,346.4 171.9,347.7 172.3,348.7 172.7,348.3 173.1,348.6 173.5,348.1 173.9,346.8 174.3,347.1 174.7,346.3 175.1,346.6 175.5,347.1 175.9,347.3 176.3,348.7 176.7,349.2 177.1,348.3 177.5,348.4 177.9,348.9 178.4,348.5 178.8,348.9 179.2,349.8 179.6,350.4 180,350.4 180.4,349.7 180.8,350.5 181.2,350.6 181.6,349.7 182,349.3 182.4,349.3 182.8,348.5 183.2,348.6 183.6,348.6 184,350.3 184.4,349 184.8,350.3 185.2,350.5 185.6,348.8 186,347.9 186.4,349 186.8,349.9 187.2,349.9 187.6,351.1 188,351.1 188.4,349.6 188.8,350.4 189.2,350.2 189.6,352.4 190,352.6 190.4,352.5 190.8,353.3 191.2,353 191.6,353.7 192,352.9 192.4,351.7 192.8,352.2 193.2,352.4 193.6,352.3 194,352.2 194.4,352.4 194.8,353.2 195.2,354.2 195.6,354.5 196,353.7 196.4,354.2 196.8,353 197.2,351.7 197.6,354.3 198,354.8 198.4,353.6 198.8,353.6 199.2,354.3 199.6,354.1 200,354.5 200.4,355.5 200.8,356.4 201.2,355.4 201.6,355.4 202,357 202.4,356.5 202.8,355.9 203.2,355.4 203.6,355.7 204,355.5 204.4,356.4 204.8,354.7 205.2,355.1 205.6,354.5 206,355.5 206.4,355.8 206.8,356.8 207.2,357.8 207.6,356.5 208,357.7 208.4,357.3 208.8,357.1 209.2,357.9 209.7,357.8 210.1,358.2 210.5,357.3 210.9,357.9 211.3,359.2 211.7,358.9 212.1,359.7 212.5,359.5 212.9,358.3 213.3,357.1 213.7,358.6 214.1,358.5 214.5,357.6 214.9,358.2 215.3,357.5 215.7,357.3 216.1,355.4 216.5,356 216.9,356.2 217.3,356.5 217.7,357 218.1,357.1 218.5,357.6 218.9,357 219.3,357.3 219.7,357.8 220.1,357.7 220.5,356.5 220.9,356.6 221.3,357.4 221.7,357.4 222.1,358.3 222.5,357.3 222.9,358.4 223.3,359.9 223.7,360.2 224.1,359.1 224.5,359.4 224.9,359.7 225.3,360.3 225.7,360.7 226.1,359.8 226.5,359.8 226.9,360.2 227.3,359.5 227.7,360.5 228.1,360 228.5,359.3 228.9,360.9 229.3,361.6 229.7,359.6 230.1,359.6 230.5,359.5 230.9,359.2 231.3,358.8 231.7,358.7 232.1,358.2 232.5,358.6 232.9,359.8 233.3,360.3 233.7,360.6 234.1,359.5 234.5,358.5 234.9,359.5 235.3,359.9 235.7,359.6 236.1,358.3 236.5,359.9 236.9,359.8 237.3,360.7 237.7,359.4 238.1,360.8 238.5,360.5 238.9,361.5 239.3,361.9 239.7,361.3 240.1,360.5 240.6,360.3 241,360.2 241.4,360.9 241.8,361.2 242.2,361.1 242.6,361.3 243,360.8 243.4,361.5 243.8,361 244.2,360.1 244.6,359.5 245,359.1 245.4,359.5 245.8,360.5 246.2,360.6 246.6,360 247,360.4 247.4,361.2 247.8,361.3 248.2,360.2 248.6,360.7 249,360.9 249.4,361.1 249.8,361.4 250.2,361.7 250.6,361.3 251,361.4 251.4,361 251.8,360.9 252.2,362 252.6,362.9 253,363.6 253.4,363.5 253.8,363.7 254.2,364.3 254.6,364.3 255,364.3 255.4,363.3 255.8,363.3 256.2,363.5 256.6,363.7 257,363.5 257.4,363.8 257.8,364.8 258.2,364.8 258.6,364.8 259,364.8 259.4,364.4 259.8,364 260.2,363.9 260.6,364.8 261,363.9 261.4,364.2 261.8,364.6 262.2,364.1 262.6,364.3 263,364.8 263.4,363.9 263.8,363.6 264.2,363.6 264.6,364 265,362.9 265.4,362.2 265.8,361.1 266.2,360.9 266.6,360.6 267,360.6 267.4,360.1 267.8,361.9 268.2,361.5 268.6,361.8 269,362.1 269.4,361.9 269.8,360.9 270.2,361.5 270.6,361.3 271,359.6 271.4,358.4 271.9,358.1 272.3,358.5 272.7,359.2 273.1,359.3 273.5,359.3 273.9,359.9 274.3,360.2 274.7,359.7 275.1,359 275.5,359.3 275.9,358 276.3,357.5 276.7,356.2 277.1,356 277.5,356.8 277.9,356.9 278.3,357.5 278.7,358.5 279.1,358.2 279.5,357.9 279.9,356.8 280.3,358.8 280.7,358.5 281.1,358.9 281.5,358.9 281.9,359.5 282.3,359.4 282.7,358 283.1,358.3 283.5,357.6 283.9,357.7 284.3,356.5 284.7,358.1 285.1,359 285.5,358 285.9,356.5 286.3,354.2 286.7,353.3 287.1,353.1 287.5,353.5 287.9,352.1 288.3,351.7 288.7,352.1 289.1,351.7 289.5,351.1 289.9,350.6 290.3,349.5 290.7,349.6 291.1,348.6 291.5,349.1 291.9,349.1 292.3,349.3 292.7,350.4 293.1,350.5 293.5,349.8 293.9,348.8 294.3,349.9 294.7,350.5 295.1,350.6 295.5,351.4 295.9,351.9 296.3,351.1 296.7,351 297.1,350.7 297.5,350.6 297.9,350.3 298.3,350.4 298.7,349.8 299.1,349.6 299.5,349.6 299.9,348.4 300.3,349.8 300.7,349.3 301.1,348.4 301.5,349.1 301.9,349 302.3,348.5 302.7,348.5 303.2,349.7 303.6,350.6 304,349.3 304.4,347.8 304.8,347.5 305.2,348.2 305.6,348 306,347.1 306.4,348.2 306.8,349 307.2,349.1 307.6,350.1 308,351 308.4,352 308.8,353.3 309.2,353.7 309.6,353.9 310,353.4 310.4,352.7 310.8,353.7 311.2,352.6 311.6,353.4 312,353.7 312.4,353.8 312.8,354.5 313.2,354.1 313.6,355.1 314,355.3 314.4,356.1 314.8,357.3 315.2,355.1 315.6,356.3 316,356.5 316.4,357.7 316.8,355.4 317.2,354.7 317.6,354.9 318,355.3 318.4,355.1" fill="none" stroke="#000080" stroke-width="1.45" stroke-linejoin="round" stroke-linecap="butt"/>
<polyline points="37.9,369.3 38.3,370.3 38.7,370.1 39.1,370.5 39.5,370.7 39.9,370 40.3,369.4 40.7,368.1 41.1,368 41.5,367.6 41.9,368.5 42.3,368.7 42.7,367.9 43.1,368.4 43.5,368.5 43.9,368.9 44.3,369.1 44.7,367.9 45.1,368.9 45.5,368.2 45.9,368.5 46.3,369.1 46.7,369.1 47.1,367.9 47.5,367.7 47.9,367 48.3,367.8 48.7,366.8 49.1,366.3 49.5,366.6 49.9,366.8 50.3,367 50.7,366.8 51.1,367.2 51.5,367.2 51.9,369 52.3,368.6 52.7,370 53.1,369.8 53.6,369.9 54,369.7 54.4,369.9 54.8,370.9 55.2,371.2 55.6,371.4 56,370.3 56.4,370 56.8,369.2 57.2,369.3 57.6,368.5 58,369.5 58.4,368.3 58.8,368.9 59.2,370.4 59.6,368.9 60,367.7 60.4,369.5 60.8,369 61.2,369.4 61.6,369.6 62,370.7 62.4,371.5 62.8,370.9 63.2,370.7 63.6,369.6 64,370.1 64.4,368.1 64.8,368.7 65.2,368.9 65.6,370.3 66,371.2 66.4,370.6 66.8,371 67.2,370.4 67.6,370.4 68,371.4 68.4,371.3 68.8,371.6 69.2,371.5 69.6,370.2 70,369.9 70.4,370.5 70.8,371.7 71.2,371.7 71.6,371.9 72,370.6 72.4,369.4 72.8,368.9 73.2,369.3 73.6,369.5 74,369.5 74.4,370.6 74.8,371.3 75.2,371.7 75.6,371.4 76,371.3 76.4,372 76.8,372.4 77.2,373.3 77.6,371.8 78,370.7 78.4,370.7 78.8,370.2 79.2,369.9 79.6,371 80,371 80.4,370 80.8,371.3 81.2,370.3 81.6,370.6 82,370 82.4,369.4 82.8,368.9 83.2,369.2 83.6,368.6 84,369 84.4,369.2 84.9,369.1 85.3,369.8 85.7,369 86.1,368 86.5,368.9 86.9,367.8 87.3,368.1 87.7,367.9 88.1,368.5 88.5,368.7 88.9,367.9 89.3,368.2 89.7,369.1 90.1,369.3 90.5,367.4 90.9,368.4 91.3,368.1 91.7,368.1 92.1,367.3 92.5,367.3 92.9,368.4 93.3,368.5 93.7,367 94.1,366.6 94.5,367.2 94.9,367.6 95.3,368 95.7,366.7 96.1,367.7 96.5,366.6 96.9,367 97.3,366.9 97.7,366.8 98.1,368.1 98.5,367.6 98.9,368.7 99.3,368.2 99.7,367.4 100.1,368.2 100.5,368.4 100.9,367.3 101.3,367.4 101.7,366.8 102.1,366.5 102.5,366.1 102.9,365.4 103.3,364.8 103.7,364.2 104.1,364.9 104.5,365.1 104.9,365.2 105.3,366.1 105.7,365.2 106.1,365.1 106.5,365.9 106.9,366.5 107.3,365.7 107.7,365.5 108.1,365.2 108.5,365.8 108.9,366 109.3,366.8 109.7,367.5 110.1,367.1 110.5,367.3 110.9,366.5 111.3,365.6 111.7,365 112.1,365.9 112.5,364.8 112.9,364.7 113.3,365 113.7,364.9 114.1,365 114.5,365.3 114.9,365.5 115.3,366.2 115.7,366.8 116.2,366.7 116.6,367.3 117,367.2 117.4,368.5 117.8,368.1 118.2,368.2 118.6,368.4 119,368.9 119.4,368.6 119.8,368.9 120.2,368.7 120.6,367.8 121,368.4 121.4,369.9 121.8,368.5 122.2,369 122.6,368.6 123,367.8 123.4,367.2 123.8,368.8 124.2,369.2 124.6,369.6 125,370.2 125.4,370.5 125.8,370.9 126.2,369.8 126.6,370.2 127,369.6 127.4,369.4 127.8,369.7 128.2,369.6 128.6,368.4 129,368.1 129.4,368.6 129.8,369 130.2,369.7 130.6,368.6 131,368.3 131.4,368.9 131.8,368.3 132.2,367.4 132.6,367.8 133,368 133.4,367.8 133.8,368.4 134.2,368.6 134.6,367.5 135,368.3 135.4,368.9 135.8,368.6 136.2,368.3 136.6,367.9 137,368.1 137.4,367.3 137.8,367 138.2,366.6 138.6,365.9 139,365.3 139.4,365.4 139.8,365.8 140.2,366.5 140.6,367.1 141,369.3 141.4,368.2 141.8,368 142.2,367.5 142.6,367.3 143,367.1 143.4,366.9 143.8,367.3 144.2,367.3 144.6,367.6 145,367.5 145.4,367.9 145.8,367.1 146.2,367.1 146.6,366.9 147.1,366.7 147.5,367 147.9,366.1 148.3,365.5 148.7,365.8 149.1,365.2 149.5,366.2 149.9,366.7 150.3,367.2 150.7,367.3 151.1,367.3 151.5,367.4 151.9,366.7 152.3,367.8 152.7,367.1 153.1,367.7 153.5,368.2 153.9,367.5 154.3,368.1 154.7,368 155.1,368 155.5,368.2 155.9,367.6 156.3,366.8 156.7,367.2 157.1,367.5 157.5,367 157.9,366.5 158.3,367.1 158.7,366.2 159.1,366.1 159.5,366.5 159.9,365.9 160.3,364.9 160.7,364.6 161.1,364.2 161.5,364.4 161.9,363.4 162.3,362.6 162.7,362.9 163.1,362.5 163.5,362.3 163.9,361.5 164.3,362.6 164.7,362.8 165.1,362.2 165.5,363.9 165.9,363 166.3,362.7 166.7,361.7 167.1,363 167.5,363.1 167.9,362.4 168.3,362.5 168.7,362.3 169.1,363.2 169.5,362.9 169.9,362.7 170.3,361.4 170.7,361.5 171.1,360.8 171.5,360.8 171.9,359.8 172.3,360 172.7,359.8 173.1,358.3 173.5,359 173.9,359.3 174.3,359.2 174.7,359.5 175.1,358.5 175.5,357.7 175.9,358.6 176.3,359.2 176.7,358.7 177.1,357.3 177.5,356.5 177.9,356.2 178.4,356.1 178.8,355.7 179.2,356.4 179.6,356.4 180,355.2 180.4,356.2 180.8,354.4 181.2,354.3 181.6,354.5 182,353.7 182.4,353.1 182.8,353.3 183.2,354.5 183.6,354.7 184,354 184.4,355 184.8,355.7 185.2,354.8 185.6,355 186,355.7 186.4,356.8 186.8,357.3 187.2,357.1 187.6,356.9 188,356.5 188.4,355.9 188.8,357.2 189.2,357.2 189.6,356.9 190,356.7 190.4,356.8 190.8,357 191.2,357.9 191.6,357.7 192,358.7 192.4,359.9 192.8,359.2 193.2,359.6 193.6,360 194,360.4 194.4,361 194.8,360.9 195.2,361 195.6,361.3 196,361.4 196.4,360.6 196.8,361.3 197.2,361.4 197.6,360.7 198,359.4 198.4,360 198.8,359.4 199.2,359.2 199.6,358.9 200,357.8 200.4,357.5 200.8,358.5 201.2,357.3 201.6,357.6 202,356.8 202.4,357.8 202.8,357.3 203.2,355.3 203.6,356 204,355.3 204.4,354.4 204.8,353.5 205.2,354.2 205.6,354.2 206,354.6 206.4,354 206.8,353.9 207.2,354.1 207.6,354.8 208,355.3 208.4,354.2 208.8,355 209.2,354.9 209.7,355.7 210.1,356.3 210.5,356.5 210.9,356.2 211.3,355.7 211.7,355.9 212.1,354.8 212.5,355 212.9,354.9 213.3,355.3 213.7,356.2 214.1,355.5 214.5,356.2 214.9,355.4 215.3,354.6 215.7,354.1 216.1,353.9 216.5,353.9 216.9,354.8 217.3,353.9 217.7,353.9 218.1,353.7 218.5,353.4 218.9,352.7 219.3,352.9 219.7,352.3 220.1,352.6 220.5,352.8 220.9,352.8 221.3,353.2 221.7,352.9 222.1,353.4 222.5,352 222.9,352 223.3,352.2 223.7,352.1 224.1,352.8 224.5,351.9 224.9,352.3 225.3,353.3 225.7,353.1 226.1,353.8 226.5,353.4 226.9,352.9 227.3,352.9 227.7,353.8 228.1,354.8 228.5,353.7 228.9,352.5 229.3,353.1 229.7,352.9 230.1,352.6 230.5,353.9 230.9,354 231.3,354.9 231.7,356.4 232.1,355.6 232.5,355.4 232.9,356.3 233.3,356.8 233.7,356 234.1,356.2 234.5,355.4 234.9,355 235.3,356 235.7,355.9 236.1,355.2 236.5,356.2 236.9,356.1 237.3,356 237.7,355.4 238.1,356.1 238.5,356.4 238.9,356.5 239.3,356.1 239.7,357.1 240.1,357.8 240.6,357.3 241,357.3 241.4,357.4 241.8,358.1 242.2,356.9 242.6,356.3 243,356 243.4,356.9 243.8,355.7 244.2,355.9 244.6,356.6 245,356.4 245.4,356.5 245.8,356.1 246.2,356.2 246.6,355.9 247,356.5 247.4,356.1 247.8,356.7 248.2,355.5 248.6,356.5 249,357.1 249.4,356.4 249.8,355.6 250.2,355.6 250.6,356.1 251,357.5 251.4,357.1 251.8,357.5 252.2,358.1 252.6,357.1 253,357.4 253.4,357.6 253.8,357.2 254.2,355.8 254.6,357.1 255,356.8 255.4,357.6 255.8,357.7 256.2,357.3 256.6,356.7 257,357.2 257.4,356.7 257.8,356.5 258.2,356.7 258.6,355.7 259,355.7 259.4,356.4 259.8,355.9 260.2,355.3 260.6,355.3 261,354.5 261.4,354.4 261.8,354.7 262.2,354.3 262.6,353.9 263,353.2 263.4,353.4 263.8,353.8 264.2,354 264.6,354.9 265,355.2 265.4,355.5 265.8,356.1 266.2,356.1 266.6,355.5 267,355.3 267.4,354.2 267.8,354 268.2,353.7 268.6,354.6 269,354.8 269.4,355.5 269.8,354.5 270.2,354.4 270.6,355 271,354.8 271.4,354.7 271.9,354.8 272.3,354 272.7,352.8 273.1,353.1 273.5,352.8 273.9,353.3 274.3,353.5 274.7,353.2 275.1,352.4 275.5,351.5 275.9,352.6 276.3,353.4 276.7,353.7 277.1,354.1 277.5,355 277.9,354.9 278.3,354 278.7,354.1 279.1,354.7 279.5,353.8 279.9,354.6 280.3,354.7 280.7,355.6 281.1,356.1 281.5,355.3 281.9,356.4 282.3,355.4 282.7,355.4 283.1,354.8 283.5,355.4 283.9,355.5 284.3,355 284.7,354.5 285.1,353.8 285.5,354.2 285.9,355 286.3,353.5 286.7,352.8 287.1,352.4 287.5,351.4 287.9,351.6 288.3,352.4 288.7,351.4 289.1,351.1 289.5,352.4 289.9,352.3 290.3,352.1 290.7,353 291.1,353.1 291.5,352.9 291.9,353.6 292.3,354.7 292.7,353.3 293.1,353.4 293.5,353.8 293.9,352.1 294.3,352.1 294.7,352.7 295.1,352.9 295.5,353.8 295.9,354.2 296.3,353.6 296.7,353.5 297.1,353.3 297.5,352 297.9,351.4 298.3,351 298.7,351.2 299.1,351.6 299.5,350.7 299.9,350.9 300.3,350 300.7,350.7 301.1,351.3 301.5,352.3 301.9,352.3 302.3,351.8 302.7,351.3 303.2,351.5 303.6,351.7 304,352.4 304.4,352.6 304.8,352.5 305.2,353 305.6,353.5 306,352.9 306.4,352.4 306.8,353.3 307.2,353 307.6,353.8 308,352.8 308.4,353.4 308.8,352.1 309.2,351.8 309.6,352 310,352.1 310.4,351.7 310.8,351 311.2,350.9 311.6,350.7 312,349.7 312.4,350.1 312.8,348.5 313.2,348.9 313.6,348.1 314,349.6 314.4,348.2 314.8,348.8 315.2,350.4 315.6,350.2 316,349.3 316.4,348.2 316.8,348.5 317.2,347.9 317.6,347.1 318,346.9 318.4,346.9" fill="none" stroke="#0000ff" stroke-width="1.45" stroke-linejoin="round" stroke-linecap="butt"/>
<polyline points="37.9,349.7 38.3,351.3 38.7,353.9 39.1,352.4 39.5,350.8 39.9,353.6 40.3,355.3 40.7,355.8 41.1,357.2 41.5,357.3 41.9,357.2 42.3,356.5 42.7,358.6 43.1,358.3 43.5,357.7 43.9,358.4 44.3,359.1 44.7,356.8 45.1,357.4 45.5,358.6 45.9,359.6 46.3,361.2 46.7,362.9 47.1,363.1 47.5,363.9 47.9,365 48.3,366.4 48.7,368.4 49.1,368.6 49.5,369.7 49.9,369.6 50.3,370.9 50.7,370.1 51.1,370.1 51.5,368.6 51.9,368.9 52.3,368.6 52.7,370.3 53.1,371.5 53.6,371.3 54,370.7 54.4,368.3 54.8,365.4 55.2,364.5 55.6,363.7 56,363.2 56.4,359.7 56.8,358.1 57.2,357 57.6,356.8 58,355.8 58.4,354.6 58.8,355.7 59.2,353.9 59.6,352.9 60,351.3 60.4,349.5 60.8,347.5 61.2,348.3 61.6,348.1 62,350.3 62.4,350.6 62.8,351.2 63.2,349.3 63.6,350.9 64,349.7 64.4,350.8 64.8,351.9 65.2,351.6 65.6,350.5 66,349.4 66.4,347.2 66.8,347.1 67.2,347.8 67.6,349.3 68,349.8 68.4,349.4 68.8,352.4 69.2,352.8 69.6,351.4 70,352.8 70.4,354.1 70.8,355.1 71.2,355.5 71.6,355.8 72,357.9 72.4,359.1 72.8,357.9 73.2,358.7 73.6,360.4 74,360.4 74.4,362.7 74.8,359.3 75.2,362 75.6,360 76,358.7 76.4,359.3 76.8,359.3 77.2,359.5 77.6,361 78,361.4 78.4,363 78.8,363.7 79.2,362.5 79.6,364.9 80,365 80.4,364.7 80.8,367.1 81.2,366 81.6,366.2 82,367 82.4,369.1 82.8,369.5 83.2,371 83.6,370.2 84,369.6 84.4,368.8 84.9,369.2 85.3,368.6 85.7,367 86.1,366 86.5,366.5 86.9,368.8 87.3,370.8 87.7,368.8 88.1,368.1 88.5,366.2 88.9,364.9 89.3,366.2 89.7,366 90.1,366 90.5,366.2 90.9,365.7 91.3,364.7 91.7,366.9 92.1,367.1 92.5,365.4 92.9,365.4 93.3,366.3 93.7,365.4 94.1,368.7 94.5,368.2 94.9,369.6 95.3,372.1 95.7,371.6 96.1,374.2 96.5,375 96.9,375 97.3,373.4 97.7,374.7 98.1,375.7 98.5,376.5 98.9,377.7 99.3,377.8 99.7,378.1 100.1,378.5 100.5,377.5 100.9,374.3 101.3,375.6 101.7,374 102.1,374.9 102.5,374.4 102.9,374.5 103.3,375 103.7,376.1 104.1,374.5 104.5,373.1 104.9,372.1 105.3,372.7 105.7,375 106.1,376.5 106.5,374.2 106.9,374.2 107.3,375.2 107.7,375.9 108.1,374.6 108.5,375.6 108.9,375.2 109.3,376.5 109.7,376.7 110.1,376.1 110.5,377.2 110.9,376.7 111.3,376.9 111.7,377.2 112.1,376.8 112.5,378.5 112.9,378.8 113.3,377.5 113.7,376.5 114.1,375.9 114.5,377.4 114.9,377.2 115.3,373.7 115.7,373.3 116.2,375.2 116.6,374.6 117,371.8 117.4,371.5 117.8,371 118.2,369.3 118.6,369.2 119,369 119.4,369.3 119.8,368.7 120.2,368.5 120.6,367.8 121,366.6 121.4,364.2 121.8,363.4 122.2,361.1 122.6,363.3 123,365 123.4,363.1 123.8,364.5 124.2,364.3 124.6,364.5 125,363.2 125.4,363.8 125.8,360.8 126.2,364 126.6,360.8 127,358.5 127.4,357.1 127.8,358.9 128.2,358.3 128.6,355.6 129,358.4 129.4,358.6 129.8,359.5 130.2,360.8 130.6,360 131,359.2 131.4,361.4 131.8,361.5 132.2,363.8 132.6,365.8 133,366.2 133.4,367.3 133.8,367.3 134.2,367.9 134.6,368.1 135,370.2 135.4,371.8 135.8,374.6 136.2,373.9 136.6,375.2 137,375.5 137.4,375.8 137.8,378.3 138.2,380.2 138.6,379.7 139,380.5 139.4,379.8 139.8,377.8 140.2,378 140.6,379.6 141,374.6 141.4,374 141.8,371.1 142.2,371.6 142.6,371.4 143,370.8 143.4,369.8 143.8,368.8 144.2,367.4 144.6,366.9 145,366.3 145.4,365.1 145.8,363.1 146.2,364.2 146.6,366.7 147.1,365.3 147.5,364.8 147.9,363.5 148.3,364.1 148.7,363.6 149.1,362.6 149.5,360 149.9,360.1 150.3,357.9 150.7,358.2 151.1,354 151.5,353.6 151.9,354.5 152.3,354.2 152.7,357.8 153.1,357.1 153.5,356.3 153.9,353.1 154.3,354.3 154.7,353 155.1,353.4 155.5,353.5 155.9,354.5 156.3,353.9 156.7,353.2 157.1,353.3 157.5,355.2 157.9,354.9 158.3,354.1 158.7,353.6 159.1,353.4 159.5,352.3 159.9,351.5 160.3,353.6 160.7,354.1 161.1,355.9 161.5,354.2 161.9,351.7 162.3,351.2 162.7,352.3 163.1,353.5 163.5,352.5 163.9,351.9 164.3,352.4 164.7,350.5 165.1,350.2 165.5,351.1 165.9,351.3 166.3,350.7 166.7,348.7 167.1,348.4 167.5,348.1 167.9,347.3 168.3,347.9 168.7,348.8 169.1,345.4 169.5,345.2 169.9,342.1 170.3,343.9 170.7,344.1 171.1,344.4 171.5,344.1 171.9,344.3 172.3,343.8 172.7,343.2 173.1,342.8 173.5,343.7 173.9,343.8 174.3,343.4 174.7,343.3 175.1,344.7 175.5,344.8 175.9,345.8 176.3,346.5 176.7,347.2 177.1,347.8 177.5,348.7 177.9,348.8 178.4,350 178.8,348.9 179.2,347.8 179.6,345.8 180,347.2 180.4,345.8 180.8,345.2 181.2,345.1 181.6,346.4 182,348.4 182.4,349 182.8,350 183.2,349 183.6,348.5 184,349.4 184.4,346.8 184.8,346.9 185.2,347.6 185.6,347.9 186,350 186.4,350.2 186.8,350.2 187.2,348.9 187.6,349 188,347.5 188.4,348.8 188.8,351.6 189.2,351.3 189.6,351.1 190,350.7 190.4,350.3 190.8,349.6 191.2,349.7 191.6,349.7 192,349.8 192.4,348.5 192.8,349.6 193.2,347.8 193.6,350.4 194,350.3 194.4,347.2 194.8,347.8 195.2,348.9 195.6,351.6 196,352.8 196.4,352.3 196.8,350.3 197.2,351.1 197.6,349.5 198,348.4 198.4,350.2 198.8,350.3 199.2,349 199.6,349.4 200,349.1 200.4,350.4 200.8,349.6 201.2,348.6 201.6,350.2 202,350.8 202.4,349.8 202.8,350.9 203.2,351.3 203.6,349.3 204,350.5 204.4,350.8 204.8,353.3 205.2,353.1 205.6,354.4 206,355.7 206.4,356.1 206.8,359.3 207.2,358.8 207.6,357.3 208,358.6 208.4,358.9 208.8,358.6 209.2,359.8 209.7,362.1 210.1,360.8 210.5,360.9 210.9,359.7 211.3,359.1 211.7,358.2 212.1,361.8 212.5,362.8 212.9,362.6 213.3,364.4 213.7,367.1 214.1,367.1 214.5,367.8 214.9,368.5 215.3,367.9 215.7,369.6 216.1,370.6 216.5,371.2 216.9,369 217.3,367.5 217.7,366.7 218.1,365.1 218.5,366 218.9,366.1 219.3,364.5 219.7,365.2 220.1,366 220.5,369 220.9,370.8 221.3,371.5 221.7,372.3 222.1,372.8 222.5,372.9 222.9,372.7 223.3,371.1 223.7,371.6 224.1,372.5 224.5,369.5 224.9,367.5 225.3,367.8 225.7,371 226.1,371.5 226.5,369.6 226.9,370 227.3,367.3 227.7,368.8 228.1,368 228.5,368.4 228.9,366.8 229.3,367.9 229.7,367 230.1,366 230.5,368.6 230.9,369.2 231.3,367.8 231.7,368.2 232.1,366.4 232.5,364.7 232.9,362.6 233.3,362.1 233.7,360.6 234.1,361.2 234.5,358.5 234.9,358.9 235.3,357.7 235.7,358.2 236.1,359.5 236.5,358.9 236.9,358.7 237.3,358.5 237.7,356.6 238.1,357.5 238.5,358 238.9,355.3 239.3,356.7 239.7,356.5 240.1,355.5 240.6,355.6 241,354.8 241.4,353.9 241.8,351.3 242.2,353.8 242.6,352.6 243,352.3 243.4,351.7 243.8,351 244.2,350.4 244.6,349.9 245,350.5 245.4,350.2 245.8,349.4 246.2,349.1 246.6,348.9 247,347.4 247.4,348 247.8,348.6 248.2,350 248.6,351.8 249,351.9 249.4,351.6 249.8,350.2 250.2,350.1 250.6,350.4 251,348.6 251.4,347.1 251.8,348.1 252.2,345.2 252.6,345.2 253,345.3 253.4,342.9 253.8,342 254.2,342.6 254.6,340 255,339.1 255.4,340.1 255.8,339.1 256.2,339.9 256.6,340.7 257,339.6 257.4,335.4 257.8,336.3 258.2,336.5 258.6,335.8 259,336.2 259.4,337 259.8,337.1 260.2,337.4 260.6,336.8 261,335 261.4,334.2 261.8,333.9 262.2,335.7 262.6,335.8 263,334.5 263.4,334.6 263.8,337 264.2,338.7 264.6,340 265,339.8 265.4,337.5 265.8,339.5 266.2,339.3 266.6,339.9 267,341.6 267.4,341.7 267.8,343.1 268.2,345.2 268.6,345.8 269,347.5 269.4,346.5 269.8,349.4 270.2,348.4 270.6,347.8 271,348.2 271.4,349.9 271.9,350.7 272.3,354.3 272.7,353.7 273.1,353.7 273.5,353 273.9,351.3 274.3,350.8 274.7,353.5 275.1,352.2 275.5,355.4 275.9,354.4 276.3,356.1 276.7,356.7 277.1,357 277.5,354.6 277.9,354.1 278.3,353.1 278.7,353.9 279.1,356.7 279.5,356.5 279.9,355.2 280.3,356.5 280.7,355 281.1,355 281.5,355.2 281.9,354.8 282.3,354.3 282.7,353.7 283.1,353.8 283.5,354.7 283.9,354.5 284.3,355.7 284.7,352.8 285.1,353.7 285.5,353.8 285.9,353.9 286.3,355.1 286.7,350.7 287.1,353.5 287.5,351.7 287.9,350.6 288.3,351.4 288.7,350.6 289.1,350.1 289.5,346.9 289.9,349 290.3,349 290.7,347.2 291.1,344.8 291.5,344.4 291.9,345.7 292.3,342 292.7,343.3 293.1,340.9 293.5,340.6 293.9,339.2 294.3,339.4 294.7,336.7 295.1,334.9 295.5,336.3 295.9,336.3 296.3,335.1 296.7,335.8 297.1,338.6 297.5,337.9 297.9,337.2 298.3,338 298.7,337.6 299.1,339.7 299.5,340.9 299.9,340.5 300.3,340.7 300.7,340.1 301.1,339.8 301.5,338.1 301.9,337.1 302.3,337.9 302.7,338.2 303.2,338.4 303.6,335.1 304,336.4 304.4,333.8 304.8,331 305.2,331.1 305.6,332.5 306,331.4 306.4,329.5 306.8,328.1 307.2,330 307.6,330.2 308,328.4 308.4,325.6 308.8,323.1 309.2,324.3 309.6,323.2 310,322.2 310.4,320.7 310.8,320.7 311.2,321.1 311.6,320.7 312,324.3 312.4,325.4 312.8,328.5 313.2,328.3 313.6,328.6 314,327.2 314.4,329.2 314.8,331.4 315.2,333.1 315.6,333.6 316,334 316.4,334 316.8,336.8 317.2,337.5 317.6,337.2 318,338.8 318.4,338.2" fill="none" stroke="#0063ff" stroke-width="1.45" stroke-linejoin="round" stroke-linecap="butt"/>
<polyline points="37.9,337.6 38.3,337.8 38.7,336.9 39.1,338 39.5,336.4 39.9,338.1 40.3,339 40.7,339.7 41.1,339.7 41.5,338.6 41.9,337.2 42.3,337 42.7,336.7 43.1,335.8 43.5,335.9 43.9,335.8 44.3,335.8 44.7,337.3 45.1,337.7 45.5,336.7 45.9,335.6 46.3,335.8 46.7,336.1 47.1,336.3 47.5,335 47.9,335.1 48.3,335.8 48.7,338.5 49.1,337.7 49.5,339.4 49.9,339.5 50.3,339.3 50.7,338.3 51.1,338.3 51.5,337.1 51.9,336.6 52.3,336.5 52.7,336.1 53.1,336.8 53.6,338.5 54,338.8 54.4,339.3 54.8,337.4 55.2,337.7 55.6,338.9 56,338.3 56.4,338.4 56.8,339.5 57.2,339.3 57.6,337.9 58,338.9 58.4,339.4 58.8,339.4 59.2,340.3 59.6,338.7 60,337.3 60.4,337 60.8,337.7 61.2,338.2 61.6,338.1 62,339.1 62.4,340.2 62.8,338.9 63.2,339.1 63.6,338.8 64,339.4 64.4,339.1 64.8,338.3 65.2,340.3 65.6,339.8 66,339.7 66.4,339.7 66.8,340.1 67.2,340.6 67.6,341.4 68,342.3 68.4,342.5 68.8,342.5 69.2,342.5 69.6,342.9 70,342.7 70.4,343.8 70.8,344.3 71.2,343.4 71.6,342.8 72,342.6 72.4,342.9 72.8,341.7 73.2,343 73.6,344.2 74,343.8 74.4,342.2 74.8,342.1 75.2,341.5 75.6,340.5 76,340.3 76.4,340.1 76.8,339.7 77.2,339.8 77.6,339.8 78,339.1 78.4,339.3 78.8,339.2 79.2,338.2 79.6,337.3 80,338.7 80.4,339.9 80.8,339.9 81.2,339.5 81.6,338.3 82,338.6 82.4,339 82.8,337.6 83.2,337.8 83.6,338.8 84,336.9 84.4,336.2 84.9,334.5 85.3,335.1 85.7,336.5 86.1,336.2 86.5,336.6 86.9,336.6 87.3,336.4 87.7,336.9 88.1,337.1 88.5,336.7 88.9,336.8 89.3,335.9 89.7,337.6 90.1,338.4 90.5,340.7 90.9,340.8 91.3,340.1 91.7,340.2 92.1,339.4 92.5,339.4 92.9,340.5 93.3,341.5 93.7,342 94.1,341.9 94.5,340.5 94.9,341 95.3,339.4 95.7,339.5 96.1,339.9 96.5,340.3 96.9,340.4 97.3,339.4 97.7,338.7 98.1,339.6 98.5,338.9 98.9,337.3 99.3,337.7 99.7,337.7 100.1,337.8 100.5,338.9 100.9,339.2 101.3,338.8 101.7,338.5 102.1,340.1 102.5,338.7 102.9,339.8 103.3,340.3 103.7,340 104.1,341.5 104.5,341.1 104.9,341.9 105.3,343.4 105.7,343.6 106.1,341.9 106.5,341.4 106.9,340 107.3,338.6 107.7,339.2 108.1,340.2 108.5,339.4 108.9,340.5 109.3,341.5 109.7,340.2 110.1,339.1 110.5,339.5 110.9,339.3 111.3,339.2 111.7,341.4 112.1,340.5 112.5,343.2 112.9,343 113.3,343 113.7,342.6 114.1,341.7 114.5,341.9 114.9,342.9 115.3,343.9 115.7,344.5 116.2,343.5 116.6,343.4 117,345 117.4,344.6 117.8,344.2 118.2,343.6 118.6,342.9 119,345.3 119.4,344.7 119.8,345.1 120.2,346.1 120.6,345 121,345 121.4,345.8 121.8,346.7 122.2,347.9 122.6,349.1 123,349 123.4,349.2 123.8,352 124.2,351.5 124.6,352.2 125,352 125.4,351.2 125.8,350.9 126.2,352 126.6,352.8 127,352.3 127.4,352.8 127.8,351.3 128.2,352.1 128.6,350.4 129,351.1 129.4,351.4 129.8,353.2 130.2,351 130.6,351.4 131,351.7 131.4,350.6 131.8,352 132.2,352.2 132.6,352.4 133,352.1 133.4,352.2 133.8,350 134.2,349.2 134.6,350.2 135,349.4 135.4,349.5 135.8,349.8 136.2,348.2 136.6,348.4 137,348.4 137.4,348.2 137.8,349.5 138.2,350 138.6,348.3 139,349.6 139.4,350 139.8,349.3 140.2,350.5 140.6,351.1 141,351 141.4,349.5 141.8,349.2 142.2,349.7 142.6,351.2 143,352.2 143.4,351.4 143.8,350.3 144.2,350.6 144.6,351.2 145,351.3 145.4,351.8 145.8,353.2 146.2,352.7 146.6,354.8 147.1,355.4 147.5,355.9 147.9,356.8 148.3,356.6 148.7,354.8 149.1,353.9 149.5,354.7 149.9,353.5 150.3,352.4 150.7,354.9 151.1,355 151.5,355.9 151.9,356.4 152.3,356.8 152.7,357.7 153.1,356.8 153.5,357 153.9,358.5 154.3,357.7 154.7,356.1 155.1,355.4 155.5,354.6 155.9,354.9 156.3,356.8 156.7,358.7 157.1,358 157.5,357 157.9,356.8 158.3,356.3 158.7,356.2 159.1,358.4 159.5,358.8 159.9,357 160.3,354.2 160.7,354.5 161.1,353.3 161.5,354.6 161.9,354.7 162.3,356.6 162.7,356.3 163.1,357 163.5,354.5 163.9,355.5 164.3,355.2 164.7,357.2 165.1,356.9 165.5,357.6 165.9,358.7 166.3,361.6 166.7,361.1 167.1,360.9 167.5,361.3 167.9,361.4 168.3,360.6 168.7,359.4 169.1,361.3 169.5,359 169.9,360.1 170.3,359.9 170.7,360.5 171.1,361.9 171.5,361.4 171.9,361.2 172.3,360.2 172.7,360.4 173.1,360.6 173.5,361 173.9,360.5 174.3,359.7 174.7,358.9 175.1,357.1 175.5,356.8 175.9,356.2 176.3,356.6 176.7,355.6 177.1,356.6 177.5,357.5 177.9,356.8 178.4,355.5 178.8,355.1 179.2,355.6 179.6,355.4 180,353.9 180.4,351.2 180.8,350.9 181.2,352.3 181.6,350.8 182,349.8 182.4,347.9 182.8,348.4 183.2,346.1 183.6,345.9 184,346.2 184.4,347.5 184.8,348 185.2,348.8 185.6,348.3 186,347.5 186.4,347.7 186.8,346.7 187.2,347.8 187.6,346.9 188,347.9 188.4,348.8 188.8,347.7 189.2,347.2 189.6,347.2 190,345.8 190.4,345.6 190.8,345 191.2,346.6 191.6,348 192,348.5 192.4,348.8 192.8,348.9 193.2,348.5 193.6,349.6 194,349.4 194.4,350 194.8,348.4 195.2,349.9 195.6,349.3 196,350.7 196.4,349.7 196.8,348.8 197.2,349.5 197.6,350.5 198,349.3 198.4,349.1 198.8,349.1 199.2,347.6 199.6,348.2 200,347.7 200.4,346.7 200.8,347.8 201.2,348.3 201.6,348.5 202,349.5 202.4,349.3 202.8,348.1 203.2,348.3 203.6,347.8 204,349.3 204.4,349 204.8,348.4 205.2,349.2 205.6,349.5 206,348 206.4,349.1 206.8,350.9 207.2,349.8 207.6,351.4 208,352.3 208.4,352.2 208.8,351.7 209.2,353.7 209.7,354.1 210.1,354.2 210.5,352.3 210.9,351.8 211.3,351.6 211.7,350.8 212.1,351.1 212.5,352 212.9,351.8 213.3,349.6 213.7,348 214.1,348.6 214.5,347.6 214.9,348.7 215.3,347.9 215.7,348.6 216.1,347.3 216.5,346.8 216.9,347.1 217.3,346.1 217.7,346.8 218.1,346.5 218.5,346.6 218.9,342.6 219.3,342.8 219.7,343.4 220.1,344.7 220.5,343 220.9,344.3 221.3,345.8 221.7,346.2 222.1,347 222.5,345.8 222.9,343.9 223.3,345.9 223.7,347.3 224.1,348.1 224.5,348.8 224.9,348 225.3,346.9 225.7,345.7 226.1,346.3 226.5,347.4 226.9,348.1 227.3,348.8 227.7,348.1 228.1,347.1 228.5,345.5 228.9,346.5 229.3,346.3 229.7,345.6 230.1,345.4 230.5,347.3 230.9,348.5 231.3,349 231.7,347.3 232.1,347.4 232.5,345.6 232.9,346.2 233.3,344.4 233.7,344.7 234.1,344 234.5,344.1 234.9,343.6 235.3,342.6 235.7,343.3 236.1,344.1 236.5,344.3 236.9,344.5 237.3,345.3 237.7,345.9 238.1,344.4 238.5,343.7 238.9,341.8 239.3,341.7 239.7,341.5 240.1,341 240.6,340.3 241,341.4 241.4,342.8 241.8,339.7 242.2,338 242.6,336.8 243,336.7 243.4,337.8 243.8,337.9 244.2,336.4 244.6,337 245,336.4 245.4,338.3 245.8,339.8 246.2,338.2 246.6,338.4 247,339.4 247.4,340.9 247.8,342.7 248.2,341.4 248.6,343.2 249,342.4 249.4,345.3 249.8,346.9 250.2,345.6 250.6,344.4 251,345.4 251.4,346.9 251.8,345.5 252.2,346.9 252.6,346.6 253,345.5 253.4,344.5 253.8,342.1 254.2,341.4 254.6,340.9 255,340.2 255.4,340.9 255.8,341.8 256.2,341.8 256.6,340.5 257,340.9 257.4,340.5 257.8,338.9 258.2,338.2 258.6,337.6 259,337.7 259.4,336.1 259.8,336.7 260.2,336.8 260.6,337.4 261,335.7 261.4,335.9 261.8,336.4 262.2,338.8 262.6,339.9 263,339.4 263.4,340.2 263.8,337.7 264.2,340.5 264.6,339.5 265,340 265.4,340.9 265.8,341 266.2,341.7 266.6,342.1 267,340.2 267.4,342.4 267.8,342.3 268.2,342.3 268.6,341.1 269,340.6 269.4,339.1 269.8,339.9 270.2,338.7 270.6,338.5 271,339.9 271.4,339.4 271.9,340.7 272.3,338.7 272.7,339.1 273.1,340.4 273.5,339.4 273.9,340 274.3,339.7 274.7,337.1 275.1,337.5 275.5,338.2 275.9,336.5 276.3,336.7 276.7,336.1 277.1,334.9 277.5,334.7 277.9,336.1 278.3,338.8 278.7,338.2 279.1,337.9 279.5,336.9 279.9,337.6 280.3,338.3 280.7,339.6 281.1,340.4 281.5,340 281.9,340.4 282.3,341.4 282.7,340.3 283.1,340.7 283.5,340.4 283.9,341.7 284.3,342.8 284.7,341.4 285.1,344.1 285.5,344.1 285.9,343.7 286.3,345.2 286.7,344.5 287.1,343.9 287.5,344.3 287.9,343.6 288.3,344.2 288.7,345.7 289.1,347.9 289.5,348.1 289.9,347.5 290.3,346.9 290.7,347.3 291.1,348 291.5,348 291.9,349.4 292.3,349.3 292.7,349.9 293.1,350.3 293.5,351.1 293.9,351.5 294.3,350.7 294.7,348.1 295.1,347.8 295.5,347.3 295.9,348.2 296.3,347 296.7,346.1 297.1,346.2 297.5,343.3 297.9,343 298.3,342.5 298.7,343 299.1,345.1 299.5,346.3 299.9,344.4 300.3,343.5 300.7,344.3 301.1,341.9 301.5,340 301.9,341 302.3,338.3 302.7,337.9 303.2,337.4 303.6,337.7 304,338.1 304.4,337.3 304.8,337.7 305.2,337.5 305.6,338.4 306,336.9 306.4,336.7 306.8,335.9 307.2,335.3 307.6,336.4 308,335.2 308.4,335.3 308.8,335.9 309.2,333.2 309.6,333.4 310,333.5 310.4,332.3 310.8,332.3 311.2,332.8 311.6,332.7 312,331.6 312.4,330.5 312.8,330.2 313.2,331.5 313.6,329.1 314,328 314.4,327.9 314.8,330.1 315.2,331 315.6,331.7 316,331.3 316.4,330.6 316.8,329.5 317.2,329.5 317.6,329.6 318,329.3 318.4,328.4" fill="none" stroke="#00d4ff" stroke-width="1.45" stroke-linejoin="round" stroke-linecap="butt"/>
<polyline points="37.9,336.3 38.3,337 38.7,335.7 39.1,338.4 39.5,338.1 39.9,338 40.3,337.3 40.7,336.8 41.1,338 41.5,336.5 41.9,336.1 42.3,337 42.7,336 43.1,338 43.5,338 43.9,339.4 44.3,341.7 44.7,342.7 45.1,343.3 45.5,343 45.9,343 46.3,345.2 46.7,346.7 47.1,345.6 47.5,347.8 47.9,348.4 48.3,349.9 48.7,349.5 49.1,350.1 49.5,351.6 49.9,352 50.3,352 50.7,353.8 51.1,355.8 51.5,358.6 51.9,359.8 52.3,362.9 52.7,361.7 53.1,362 53.6,359.6 54,357.1 54.4,355.9 54.8,356 55.2,355.5 55.6,354.5 56,354.3 56.4,356.9 56.8,355.3 57.2,355.2 57.6,353.4 58,351.6 58.4,349.1 58.8,349.8 59.2,350.7 59.6,351.4 60,352.7 60.4,350.6 60.8,348.8 61.2,348.1 61.6,350.6 62,350 62.4,349.6 62.8,348.8 63.2,349.2 63.6,349.9 64,349.3 64.4,350.7 64.8,349.3 65.2,349.4 65.6,350.1 66,351.2 66.4,350 66.8,350.9 67.2,350.6 67.6,352 68,353.2 68.4,354.8 68.8,356 69.2,357.4 69.6,356.4 70,357.3 70.4,355 70.8,359.5 71.2,361.4 71.6,361.3 72,363.3 72.4,365.2 72.8,363.3 73.2,362.9 73.6,361.4 74,360.1 74.4,355.5 74.8,355.6 75.2,356.2 75.6,353.3 76,351.4 76.4,351.4 76.8,350.6 77.2,349.7 77.6,348.1 78,349 78.4,351.6 78.8,350.2 79.2,350.3 79.6,351.4 80,352.9 80.4,352.9 80.8,354 81.2,354.9 81.6,354.8 82,355 82.4,357 82.8,355.4 83.2,355.8 83.6,354.4 84,352.5 84.4,350.6 84.9,349.8 85.3,348.5 85.7,348.3 86.1,346.6 86.5,345.4 86.9,343.6 87.3,341.9 87.7,340.7 88.1,342.1 88.5,341.3 88.9,341.8 89.3,342.7 89.7,342 90.1,340.8 90.5,340 90.9,341.3 91.3,341.4 91.7,341.2 92.1,341 92.5,340.5 92.9,341.3 93.3,341.4 93.7,339.8 94.1,339.5 94.5,337.5 94.9,337.2 95.3,335.1 95.7,334.3 96.1,333.8 96.5,335.9 96.9,335.1 97.3,334 97.7,334.9 98.1,335.9 98.5,336 98.9,337.3 99.3,338.2 99.7,336.7 100.1,337.2 100.5,337.3 100.9,336.2 101.3,335.2 101.7,335.8 102.1,335.5 102.5,336.8 102.9,339.5 103.3,341.1 103.7,337.8 104.1,338.3 104.5,336.3 104.9,335.3 105.3,334.6 105.7,332.2 106.1,330.5 106.5,329.5 106.9,326.7 107.3,325.7 107.7,328.4 108.1,327.7 108.5,328.8 108.9,330.5 109.3,330.9 109.7,327.9 110.1,329.7 110.5,329.7 110.9,330 111.3,330.6 111.7,329.5 112.1,329.8 112.5,330.6 112.9,331.5 113.3,331.1 113.7,331.6 114.1,330.3 114.5,328.6 114.9,328.5 115.3,329.5 115.7,331.6 116.2,332.8 116.6,333.5 117,336.4 117.4,337.3 117.8,336.3 118.2,337.3 118.6,336.8 119,337.1 119.4,339 119.8,338.6 120.2,340.4 120.6,339.7 121,338.6 121.4,338.6 121.8,340.7 122.2,340.3 122.6,339.9 123,342 123.4,341.5 123.8,343 124.2,342.3 124.6,344.5 125,343.6 125.4,345 125.8,344.1 126.2,344.1 126.6,344.1 127,344.9 127.4,345.6 127.8,347.2 128.2,348.3 128.6,343.9 129,344.5 129.4,343.8 129.8,342 130.2,341.7 130.6,341.2 131,341.8 131.4,342.1 131.8,341.7 132.2,340.4 132.6,341.5 133,341 133.4,340.7 133.8,344.6 134.2,343.9 134.6,344 135,344.8 135.4,347 135.8,345.5 136.2,346.7 136.6,346.2 137,346.7 137.4,349.8 137.8,349.1 138.2,350.6 138.6,351.1 139,350 139.4,349.6 139.8,348.4 140.2,347.4 140.6,345 141,345.9 141.4,347.4 141.8,346.7 142.2,347.3 142.6,347.6 143,347.5 143.4,347.4 143.8,345 144.2,344.4 144.6,345.4 145,345.4 145.4,345.4 145.8,343.5 146.2,344.3 146.6,342.4 147.1,346.4 147.5,344 147.9,341.6 148.3,338.8 148.7,339.2 149.1,342.3 149.5,341 149.9,342.2 150.3,343.7 150.7,344.9 151.1,343.6 151.5,341.4 151.9,339.3 152.3,341.1 152.7,337 153.1,337.3 153.5,339.5 153.9,341.2 154.3,340.1 154.7,339.3 155.1,338.3 155.5,337.9 155.9,337 156.3,336.3 156.7,338.4 157.1,337.2 157.5,336.1 157.9,336.4 158.3,335.8 158.7,335.5 159.1,333.4 159.5,334.1 159.9,333.2 160.3,332.3 160.7,334.1 161.1,335.5 161.5,333.5 161.9,333.7 162.3,335.1 162.7,332.8 163.1,330.8 163.5,329.7 163.9,327.8 164.3,327.2 164.7,327.1 165.1,327.9 165.5,329.5 165.9,326.7 166.3,326.8 166.7,326 167.1,325.6 167.5,323.1 167.9,324.1 168.3,325.8 168.7,323.7 169.1,322.7 169.5,322.7 169.9,324 170.3,322 170.7,321.7 171.1,320.5 171.5,322.2 171.9,322.3 172.3,321.6 172.7,320.2 173.1,319.2 173.5,319 173.9,318.3 174.3,318.4 174.7,320 175.1,319.6 175.5,321.8 175.9,321.9 176.3,321.5 176.7,322.4 177.1,324 177.5,323.4 177.9,321.1 178.4,322.6 178.8,323.8 179.2,323.8 179.6,324.3 180,324.7 180.4,323.6 180.8,323.2 181.2,323 181.6,323.1 182,321.2 182.4,321.1 182.8,320.7 183.2,318.3 183.6,316.7 184,312.7 184.4,312 184.8,309.6 185.2,313 185.6,313.4 186,314.5 186.4,314 186.8,315.8 187.2,314.5 187.6,313.9 188,314 188.4,315.1 188.8,315.3 189.2,316.6 189.6,316.2 190,315.3 190.4,319.1 190.8,319.8 191.2,320.6 191.6,321 192,319 192.4,317.1 192.8,315.4 193.2,313 193.6,313.3 194,313.5 194.4,311.4 194.8,310 195.2,311.2 195.6,311.1 196,309.3 196.4,312.9 196.8,312.9 197.2,312.6 197.6,312.7 198,314.3 198.4,315 198.8,314.1 199.2,313.9 199.6,315 200,313.9 200.4,316.1 200.8,317 201.2,317.8 201.6,316.3 202,318.2 202.4,317.8 202.8,319.8 203.2,320.7 203.6,321.2 204,321.2 204.4,324.3 204.8,324.7 205.2,325.3 205.6,324.6 206,329.1 206.4,329.8 206.8,332.8 207.2,334.6 207.6,334.8 208,338.8 208.4,335.8 208.8,337.4 209.2,337.3 209.7,338.5 210.1,338.8 210.5,339.3 210.9,339.1 211.3,339.2 211.7,339.3 212.1,338.2 212.5,337.7 212.9,337.8 213.3,338.6 213.7,340.6 214.1,340.9 214.5,340.3 214.9,341 215.3,340.5 215.7,340.2 216.1,339.2 216.5,339.4 216.9,339.2 217.3,341.9 217.7,342.1 218.1,344.9 218.5,342.5 218.9,344.3 219.3,346 219.7,346.6 220.1,344.9 220.5,345.1 220.9,345.6 221.3,345.1 221.7,344 222.1,345.4 222.5,345.4 222.9,345.6 223.3,342.4 223.7,346.4 224.1,345.9 224.5,346.7 224.9,346.2 225.3,346.7 225.7,346.2 226.1,347 226.5,346.9 226.9,348.6 227.3,349.6 227.7,350.5 228.1,349.4 228.5,350.6 228.9,348.8 229.3,349 229.7,349.8 230.1,351 230.5,351.6 230.9,351.7 231.3,349.3 231.7,349.4 232.1,349.1 232.5,349.3 232.9,347.8 233.3,345.2 233.7,349 234.1,347.3 234.5,347.2 234.9,350.6 235.3,353.5 235.7,354.9 236.1,353.2 236.5,354.4 236.9,355.8 237.3,356.1 237.7,356.8 238.1,356.5 238.5,356.3 238.9,357.2 239.3,358.9 239.7,357.9 240.1,359.5 240.6,360.5 241,360 241.4,361.4 241.8,364.6 242.2,363.3 242.6,365.2 243,366.2 243.4,366.1 243.8,367.6 244.2,367 244.6,368.2 245,367.1 245.4,367.3 245.8,368.3 246.2,370.5 246.6,370.5 247,370.4 247.4,370.5 247.8,369 248.2,368.4 248.6,367.4 249,366.5 249.4,367.6 249.8,367.7 250.2,365.2 250.6,364 251,363.8 251.4,365 251.8,364.1 252.2,364.2 252.6,365.1 253,365.2 253.4,362.9 253.8,361.5 254.2,363.2 254.6,359.7 255,357.6 255.4,357.4 255.8,355.2 256.2,354.1 256.6,355.3 257,350.9 257.4,351.2 257.8,351.8 258.2,353.8 258.6,351.2 259,352 259.4,351.9 259.8,351.4 260.2,351.1 260.6,350.6 261,349.2 261.4,348.5 261.8,347.6 262.2,347.9 262.6,348.5 263,348.8 263.4,348.7 263.8,348 264.2,348.7 264.6,349.1 265,347.9 265.4,347.6 265.8,347.6 266.2,348.7 266.6,349.8 267,349.1 267.4,347.2 267.8,347.5 268.2,347.8 268.6,347.6 269,348.2 269.4,350.7 269.8,350.5 270.2,351.4 270.6,350.6 271,350.4 271.4,348.5 271.9,348.9 272.3,348.5 272.7,348.7 273.1,348.5 273.5,350.5 273.9,348.8 274.3,348.3 274.7,345.8 275.1,342.9 275.5,342.2 275.9,340.2 276.3,340.1 276.7,339.3 277.1,338.9 277.5,339.4 277.9,335.2 278.3,337.5 278.7,336.4 279.1,336.3 279.5,335.6 279.9,335.9 280.3,335.4 280.7,335.4 281.1,335.4 281.5,333.4 281.9,333.2 282.3,332.6 282.7,330.7 283.1,328.5 283.5,326.2 283.9,326 284.3,324.3 284.7,324 285.1,322.6 285.5,322.3 285.9,322.4 286.3,323.3 286.7,322.7 287.1,320.4 287.5,318.4 287.9,320.2 288.3,318.9 288.7,318.9 289.1,321.4 289.5,320.9 289.9,321.3 290.3,320.4 290.7,321.6 291.1,319.8 291.5,318.7 291.9,316.8 292.3,313.4 292.7,312.8 293.1,311 293.5,308.7 293.9,307.1 294.3,305.5 294.7,307.1 295.1,306.8 295.5,307.4 295.9,308.9 296.3,307.8 296.7,312.2 297.1,314.4 297.5,314.8 297.9,314.5 298.3,314.3 298.7,314 299.1,312 299.5,311.4 299.9,310.4 300.3,307.7 300.7,309.2 301.1,308.7 301.5,310.5 301.9,311.2 302.3,312.4 302.7,312.8 303.2,314.4 303.6,313.4 304,314.3 304.4,311.6 304.8,308.9 305.2,307.9 305.6,308.3 306,308 306.4,307.8 306.8,309.2 307.2,310.1 307.6,312.2 308,312 308.4,314.9 308.8,315.1 309.2,317.6 309.6,319.4 310,321.1 310.4,324.2 310.8,325.7 311.2,325.5 311.6,325.8 312,325.8 312.4,329.8 312.8,328.8 313.2,330.1 313.6,332 314,333.5 314.4,334.1 314.8,335.1 315.2,336.2 315.6,336.1 316,337.5 316.4,337.5 316.8,337.9 317.2,338 317.6,337 318,338.2 318.4,341.2" fill="none" stroke="#4dffa9" stroke-width="1.45" stroke-linejoin="round" stroke-linecap="butt"/>
<polyline points="37.9,338.2 38.3,340.9 38.7,341.7 39.1,340.1 39.5,341.2 39.9,341.8 40.3,341.4 40.7,338.8 41.1,339 41.5,339.8 41.9,338.1 42.3,339.4 42.7,337.2 43.1,340.3 43.5,337.4 43.9,338.6 44.3,341.6 44.7,341.4 45.1,339.7 45.5,340 45.9,338.3 46.3,338.7 46.7,340.3 47.1,341.6 47.5,340.7 47.9,339.2 48.3,340.9 48.7,340.8 49.1,339 49.5,340 49.9,338.1 50.3,337.2 50.7,338.8 51.1,339.7 51.5,341.5 51.9,343.2 52.3,343.2 52.7,344.5 53.1,345.3 53.6,344.2 54,343.3 54.4,343.8 54.8,343.2 55.2,341.7 55.6,341.9 56,341.7 56.4,340.1 56.8,341.2 57.2,341.7 57.6,342.1 58,340.9 58.4,339.4 58.8,341.6 59.2,339.5 59.6,340.8 60,340.5 60.4,339.5 60.8,340.2 61.2,342.7 61.6,341.3 62,342.5 62.4,343.6 62.8,342.6 63.2,343.1 63.6,342.5 64,342.5 64.4,343.3 64.8,342.7 65.2,343.1 65.6,343.9 66,344.9 66.4,346.9 66.8,345 67.2,345.3 67.6,342.6 68,340.5 68.4,340.1 68.8,339.2 69.2,338.6 69.6,339.2 70,340.2 70.4,337.7 70.8,337.6 71.2,338.1 71.6,339.7 72,339.7 72.4,339.1 72.8,339.7 73.2,339 73.6,338.3 74,339.1 74.4,338.9 74.8,337.1 75.2,338.8 75.6,339.7 76,340.9 76.4,341.7 76.8,342.9 77.2,345.2 77.6,346.9 78,348.5 78.4,349.2 78.8,347.4 79.2,350.7 79.6,354.9 80,357.6 80.4,358.9 80.8,362.6 81.2,361.7 81.6,360.1 82,360.7 82.4,365.4 82.8,368.1 83.2,368.5 83.6,370.3 84,372.6 84.4,374.4 84.9,371.9 85.3,372.4 85.7,372 86.1,373.8 86.5,374 86.9,376.1 87.3,375.9 87.7,376.1 88.1,375.8 88.5,379.5 88.9,378.5 89.3,380.5 89.7,381.1 90.1,381.1 90.5,380.1 90.9,378.6 91.3,380.5 91.7,379.3 92.1,378.9 92.5,378.9 92.9,382 93.3,380 93.7,378.9 94.1,378.9 94.5,380 94.9,381.9 95.3,378.4 95.7,377.1 96.1,374.8 96.5,376.3 96.9,377.2 97.3,377.2 97.7,378.9 98.1,378.9 98.5,379.9 98.9,381.1 99.3,380.6 99.7,381.1 100.1,380.9 100.5,379.9 100.9,383.8 101.3,383.3 101.7,385.1 102.1,384.5 102.5,387 102.9,387 103.3,385.3 103.7,385.4 104.1,387 104.5,387 104.9,387 105.3,387 105.7,387 106.1,387 106.5,387 106.9,387 107.3,387 107.7,387 108.1,387 108.5,386.6 108.9,385.7 109.3,386.2 109.7,385.3 110.1,385.7 110.5,385.3 110.9,382.5 111.3,381.1 111.7,380.9 112.1,379.6 112.5,379.8 112.9,377.6 113.3,377.4 113.7,378.1 114.1,378.3 114.5,374.8 114.9,377 115.3,377.6 115.7,377.5 116.2,377 116.6,379.7 117,377.6 117.4,377.7 117.8,378.1 118.2,378.2 118.6,379.4 119,380 119.4,378.5 119.8,377.2 120.2,377.6 120.6,375.8 121,377.2 121.4,376 121.8,375.8 122.2,376.6 122.6,375.6 123,377.4 123.4,376.7 123.8,379.1 124.2,377 124.6,376.1 125,375.7 125.4,377 125.8,376.2 126.2,377.7 126.6,378.6 127,379.1 127.4,378.2 127.8,377.6 128.2,380 128.6,381.5 129,379.9 129.4,378.7 129.8,378.5 130.2,376.1 130.6,376.7 131,375.4 131.4,371.7 131.8,372.3 132.2,372.1 132.6,369.9 133,368.5 133.4,367.5 133.8,366.6 134.2,366 134.6,364 135,361.8 135.4,362.6 135.8,361.2 136.2,360.2 136.6,359.5 137,357.3 137.4,357.2 137.8,354.8 138.2,353.8 138.6,356.3 139,353.4 139.4,350.5 139.8,350.6 140.2,351.3 140.6,349 141,346.8 141.4,344.7 141.8,342.8 142.2,341.5 142.6,340.6 143,339.4 143.4,338.6 143.8,337.2 144.2,335.7 144.6,334.5 145,334.5 145.4,333.7 145.8,333.8 146.2,332.2 146.6,334.9 147.1,334.7 147.5,332.9 147.9,333.9 148.3,332.7 148.7,332.9 149.1,331.4 149.5,331.6 149.9,330.5 150.3,329.9 150.7,327.6 151.1,326.3 151.5,326 151.9,327.6 152.3,326.8 152.7,325.1 153.1,324.3 153.5,323.8 153.9,322.9 154.3,320.9 154.7,320.7 155.1,321.7 155.5,322.3 155.9,321.5 156.3,319.3 156.7,320 157.1,315.7 157.5,316.9 157.9,315.7 158.3,314.2 158.7,316.7 159.1,317.7 159.5,317.9 159.9,320.2 160.3,319.1 160.7,319.2 161.1,318.7 161.5,318.4 161.9,317.4 162.3,317.8 162.7,318 163.1,319.7 163.5,318.4 163.9,321.9 164.3,322.7 164.7,321.6 165.1,323.3 165.5,322.8 165.9,324.8 166.3,326.3 166.7,328.1 167.1,328.3 167.5,329.4 167.9,330.2 168.3,331.3 168.7,333.9 169.1,334.8 169.5,334.4 169.9,335.9 170.3,337.3 170.7,337.4 171.1,338.2 171.5,339.3 171.9,340.4 172.3,339.9 172.7,338.2 173.1,337.7 173.5,340.8 173.9,340.2 174.3,339.9 174.7,339 175.1,342.5 175.5,340.1 175.9,340.7 176.3,341.1 176.7,343.2 177.1,342.8 177.5,342.9 177.9,343 178.4,342.3 178.8,343.5 179.2,343.6 179.6,343.9 180,341.2 180.4,342.5 180.8,342.9 181.2,341.6 181.6,342.5 182,342.8 182.4,343.6 182.8,343.1 183.2,342.6 183.6,341.7 184,342.4 184.4,344.2 184.8,343 185.2,340.8 185.6,339.6 186,338.6 186.4,337.8 186.8,337.3 187.2,338.6 187.6,336.3 188,334.6 188.4,334.1 188.8,333.3 189.2,332.4 189.6,331.9 190,331.3 190.4,332.2 190.8,333.1 191.2,333.5 191.6,334.5 192,334.9 192.4,335.5 192.8,338.9 193.2,339.5 193.6,342.2 194,338.3 194.4,338 194.8,337.7 195.2,339.9 195.6,341.2 196,340.4 196.4,341.2 196.8,342.1 197.2,341.9 197.6,341.7 198,341 198.4,343.1 198.8,345.8 199.2,346.4 199.6,344.8 200,344.4 200.4,342.8 200.8,340.3 201.2,341 201.6,340.1 202,339.2 202.4,339.3 202.8,339.4 203.2,338.3 203.6,338.8 204,340 204.4,340.9 204.8,341.1 205.2,342.3 205.6,340.9 206,341.3 206.4,340.4 206.8,340.7 207.2,342 207.6,342.2 208,342.6 208.4,341.5 208.8,342 209.2,343 209.7,343 210.1,342.3 210.5,342.4 210.9,342.1 211.3,341.4 211.7,340.8 212.1,341.2 212.5,341.6 212.9,343.1 213.3,339.2 213.7,339.2 214.1,338.7 214.5,339 214.9,335 215.3,336.5 215.7,335.9 216.1,337.2 216.5,335.7 216.9,336.8 217.3,336.7 217.7,338.7 218.1,340.1 218.5,339.1 218.9,339.3 219.3,339.7 219.7,339.3 220.1,339.6 220.5,340.7 220.9,342.1 221.3,340.5 221.7,342.2 222.1,341.3 222.5,340.2 222.9,341.2 223.3,341.4 223.7,340 224.1,339.5 224.5,340 224.9,338.4 225.3,338.1 225.7,338.1 226.1,341.3 226.5,343 226.9,345.9 227.3,345.9 227.7,345.8 228.1,346.1 228.5,345.6 228.9,346.5 229.3,347.9 229.7,348.8 230.1,346.8 230.5,349.1 230.9,348.9 231.3,348.4 231.7,348.5 232.1,348.4 232.5,348.1 232.9,348 233.3,350 233.7,349.2 234.1,349.9 234.5,351 234.9,351.4 235.3,351.7 235.7,352.3 236.1,351.5 236.5,350.5 236.9,351.1 237.3,353.1 237.7,352.8 238.1,352.2 238.5,353.9 238.9,355.7 239.3,355.3 239.7,358.2 240.1,356.5 240.6,356.9 241,358.2 241.4,358.5 241.8,359.3 242.2,359.7 242.6,358.6 243,358.9 243.4,358.3 243.8,359 244.2,358.9 244.6,359.1 245,359.8 245.4,360.2 245.8,361 246.2,362.6 246.6,362.6 247,359.6 247.4,358.8 247.8,359.8 248.2,358.9 248.6,357.7 249,356.9 249.4,355 249.8,353.9 250.2,355 250.6,354.5 251,353.5 251.4,353.1 251.8,354.3 252.2,353 252.6,354 253,352.7 253.4,350.9 253.8,348.8 254.2,347.2 254.6,347.4 255,346.5 255.4,345.2 255.8,343.1 256.2,341.9 256.6,342.6 257,343.2 257.4,342.1 257.8,342.9 258.2,340.7 258.6,339.3 259,341 259.4,339.7 259.8,339.3 260.2,338.9 260.6,339.3 261,340.2 261.4,342.6 261.8,343.1 262.2,343.4 262.6,343.7 263,347 263.4,347.9 263.8,347.6 264.2,346.9 264.6,346.8 265,345.7 265.4,344.5 265.8,346.3 266.2,344.8 266.6,344.1 267,341.9 267.4,340.9 267.8,340.2 268.2,339.3 268.6,340.6 269,340.1 269.4,339.6 269.8,337.7 270.2,336.5 270.6,333.6 271,334.1 271.4,334.3 271.9,333.8 272.3,334.2 272.7,336.4 273.1,337.1 273.5,335.3 273.9,334.9 274.3,337.1 274.7,336.1 275.1,335.2 275.5,334.7 275.9,334.8 276.3,335.5 276.7,334.6 277.1,332.3 277.5,332.3 277.9,331 278.3,331.2 278.7,332.8 279.1,331.2 279.5,330.4 279.9,332.7 280.3,331.3 280.7,332.1 281.1,330.9 281.5,332 281.9,333.7 282.3,333 282.7,333 283.1,333.4 283.5,333.4 283.9,335.3 284.3,336.9 284.7,334.9 285.1,333.9 285.5,335.8 285.9,334.9 286.3,336.4 286.7,337.6 287.1,339.7 287.5,340.5 287.9,340 288.3,340.7 288.7,342.7 289.1,341.3 289.5,341.4 289.9,343.3 290.3,346.9 290.7,348 291.1,348.7 291.5,349.2 291.9,350.8 292.3,351.6 292.7,352.4 293.1,351.6 293.5,352.8 293.9,350.8 294.3,352.1 294.7,351.2 295.1,351.9 295.5,354.1 295.9,353.7 296.3,354.5 296.7,355.8 297.1,356.7 297.5,355.1 297.9,357.2 298.3,356.1 298.7,353.6 299.1,353.1 299.5,350.4 299.9,348.9 300.3,346 300.7,344.8 301.1,343.2 301.5,342.4 301.9,344.4 302.3,346.2 302.7,345.7 303.2,347.7 303.6,349.3 304,347.7 304.4,349.2 304.8,349.5 305.2,349.1 305.6,349.1 306,350 306.4,350.8 306.8,350.3 307.2,350.3 307.6,350.8 308,350.2 308.4,349.5 308.8,349.1 309.2,349.1 309.6,352.3 310,353.2 310.4,354.7 310.8,353 311.2,352.4 311.6,351.6 312,350.2 312.4,350.4 312.8,350.4 313.2,350.3 313.6,351.7 314,352.6 314.4,353.4 314.8,354.4 315.2,354.8 315.6,357.9 316,355.3 316.4,357.3 316.8,357.8 317.2,360.1 317.6,363 318,362.9 318.4,366.1" fill="none" stroke="#a8ff4d" stroke-width="1.45" stroke-linejoin="round" stroke-linecap="butt"/>
<polyline points="37.9,498.8 38.1,494.4 38.3,489.2 38.5,480.5 38.8,485.7 39,492.3 39.2,496.5 39.4,487.6 39.6,474.3 39.8,482.1 40.1,495.7 40.3,498.5 40.5,481.8 40.7,485.4 40.9,499.1 41.1,494.9 41.4,462.9 41.6,498.2 41.8,497.1 42,497.8 42.2,489.8 42.4,490.6 42.7,494.3 42.9,489.3 43.1,483.3 43.3,498.3 43.5,495.6 43.7,498.5 43.9,495.1 44.2,500.1 44.4,494.6 44.6,492.4 44.8,493.2 45,498.2 45.2,496.5 45.5,499.1 45.7,502.9 45.9,494.3 46.1,498.7 46.3,485.8 46.5,482.6 46.8,500.1 47,492.9 47.2,498.3 47.4,493.7 47.6,491.5 47.8,503.5 48,497.6 48.3,495.1 48.5,459.3 48.7,496.4 48.9,487.7 49.1,496.7 49.3,495.2 49.6,497.8 49.8,482.6 50,482.5 50.2,464.9 50.4,473.8 50.6,476.3 50.9,477.2 51.1,490.1 51.3,490.7 51.5,479.2 51.7,489.2 51.9,488.5 52.2,489.7 52.4,485.4 52.6,491 52.8,491.6 53,489.2 53.2,489.2 53.4,495.6 53.7,486.1 53.9,497.4 54.1,500.5 54.3,502.9 54.5,489.4 54.7,492.4 55,497.6 55.2,500.1 55.4,492 55.6,497.9 55.8,501.3 56,491.2 56.3,498.3 56.5,496 56.7,492.7 56.9,494.3 57.1,492.4 57.3,480.5 57.6,490.4 57.8,498.3 58,505.4 58.2,498 58.4,496.1 58.6,491 58.8,493.7 59.1,494.9 59.3,497.1 59.5,496.7 59.7,491.9 59.9,493.5 60.1,491 60.4,473.5 60.6,479.9 60.8,497.3 61,479.5 61.2,483.3 61.4,494.1 61.7,485.3 61.9,488.2 62.1,493.6 62.3,496 62.5,498.7 62.7,493.8 62.9,483.7 63.2,490.1 63.4,487.1 63.6,471.6 63.8,492.7 64,489.6 64.2,492.1 64.5,497.9 64.7,499.4 64.9,494.6 65.1,489.2 65.3,493.4 65.5,491.3 65.8,485.3 66,486 66.2,481.3 66.4,483 66.6,483.4 66.8,470.3 67.1,476.9 67.3,484.4 67.5,482 67.7,493.5 67.9,493.9 68.1,486.1 68.3,483.5 68.6,473 68.8,484.1 69,497.7 69.2,477.6 69.4,475.1 69.6,492.6 69.9,480.3 70.1,486.2 70.3,500 70.5,497.5 70.7,496.8 70.9,480.7 71.2,492.3 71.4,492.8 71.6,493.2 71.8,494.1 72,497.8 72.2,492.1 72.4,482.6 72.7,482 72.9,493.6 73.1,498.7 73.3,493.3 73.5,496.4 73.7,497.1 74,503.8 74.2,481.7 74.4,478.8 74.6,493 74.8,484.8 75,475.8 75.3,500.8 75.5,498.3 75.7,496.5 75.9,488.5 76.1,490.4 76.3,491.9 76.6,491.4 76.8,474.3 77,464.5 77.2,462.9 77.4,494.5 77.6,467.6 77.8,490.1 78.1,494 78.3,491.7 78.5,487.4 78.7,480.6 78.9,483.3 79.1,493.6 79.4,488.2 79.6,487.6 79.8,471.8 80,483.8 80.2,497 80.4,499.1 80.7,483.8 80.9,491.6 81.1,504.4 81.3,499.3 81.5,494.5 81.7,483 82,494.5 82.2,487.3 82.4,482.6 82.6,492.3 82.8,492.4 83,476 83.2,467.7 83.5,473.4 83.7,481.3 83.9,476.3 84.1,486.3 84.3,489.4 84.5,495.7 84.8,492.5 85,491.8 85.2,465.9 85.4,482.9 85.6,475.7 85.8,472 86.1,485.3 86.3,477.9 86.5,499.9 86.7,494.1 86.9,485.6 87.1,504.1 87.3,503.4 87.6,489 87.8,491.5 88,497.9 88.2,496.2 88.4,496.4 88.6,487.8 88.9,485.8 89.1,490.6 89.3,494.8 89.5,492.6 89.7,480.7 89.9,483.8 90.2,482.4 90.4,488.4 90.6,498 90.8,498.1 91,489.3 91.2,489.2 91.5,495.9 91.7,502.9 91.9,495.1 92.1,494.6 92.3,494.4 92.5,494.2 92.7,490.1 93,488.1 93.2,481.5 93.4,478.5 93.6,473 93.8,476.3 94,487.8 94.3,489.7 94.5,486.3 94.7,490.9 94.9,486.5 95.1,478.7 95.3,457.9 95.6,502.2 95.8,487.3 96,489 96.2,484.3 96.4,497.1 96.6,479.3 96.9,479.6 97.1,487.3 97.3,491.5 97.5,490.1 97.7,491.4 97.9,492.6 98.1,498.3 98.4,484.8 98.6,488.4 98.8,489 99,489.2 99.2,505 99.4,493.2 99.7,493.7 99.9,493.7 100.1,491.3 100.3,497.2 100.5,487.3 100.7,493.8 101,497.7 101.2,498.6 101.4,493 101.6,486 101.8,492.7 102,500.6 102.2,487.6 102.5,496.5 102.7,484.1 102.9,488.3 103.1,494.2 103.3,496.3 103.5,489.7 103.8,483 104,489 104.2,482 104.4,466.9 104.6,483.7 104.8,495.6 105.1,498.8 105.3,502.9 105.5,499.1 105.7,498.6 105.9,502.3 106.1,492.1 106.4,508.1 106.6,506.4 106.8,482.5 107,477.9 107.2,481.1 107.4,482.9 107.6,470.6 107.9,477.9 108.1,485.2 108.3,496.7 108.5,493.5 108.7,496.6 108.9,497.6 109.2,497.9 109.4,493.9 109.6,494 109.8,485.5 110,497.4 110.2,494.4 110.5,476.4 110.7,485 110.9,477.4 111.1,474.5 111.3,471.6 111.5,476.4 111.7,495 112,494.1 112.2,494.4 112.4,501.7 112.6,498.2 112.8,501.3 113,505.8 113.3,495.7 113.5,492.8 113.7,496 113.9,498.5 114.1,497.5 114.3,496.1 114.6,495.4 114.8,492.8 115,494.3 115.2,489.4 115.4,485.9 115.6,485.8 115.9,493 116.1,495.6 116.3,489.6 116.5,458.6 116.7,491.1 116.9,507.1 117.1,509.5 117.4,498.2 117.6,491.6 117.8,479.3 118,479.8 118.2,484.6 118.4,487.9 118.7,498.4 118.9,487.8 119.1,493.4 119.3,488.1 119.5,487.9 119.7,487.3 120,481.7 120.2,490.6 120.4,493 120.6,497.2 120.8,495.7 121,479.2 121.3,489 121.5,479.9 121.7,478.8 121.9,479.5 122.1,478.9 122.3,493.3 122.5,489.1 122.8,475.7 123,490.3 123.2,490.7 123.4,495 123.6,490.2 123.8,497.4 124.1,480.9 124.3,489.6 124.5,499.3 124.7,480.9 124.9,477.8 125.1,481.1 125.4,482.2 125.6,489.9 125.8,491.7 126,485.5 126.2,480.7 126.4,478.1 126.6,484.1 126.9,491.2 127.1,492 127.3,482.2 127.5,473.5 127.7,487.1 127.9,492.3 128.2,481.2 128.4,480.6 128.6,480.6 128.8,495.7 129,495 129.2,495.8 129.5,491.3 129.7,501.2 129.9,486.3 130.1,486.4 130.3,485.4 130.5,496.5 130.8,493 131,480.9 131.2,497.5 131.4,491.4 131.6,485.5 131.8,493.1 132,485.5 132.3,490.8 132.5,480.5 132.7,482 132.9,485.4 133.1,469.3 133.3,474.2 133.6,471.6 133.8,492.5 134,495.6 134.2,486.5 134.4,481.2 134.6,487.3 134.9,482.7 135.1,494.7 135.3,490.8 135.5,497.9 135.7,491.4 135.9,494 136.2,496.2 136.4,492.4 136.6,475.4 136.8,492.4 137,495.2 137.2,484.6 137.4,491.1 137.7,475 137.9,482.8 138.1,486.7 138.3,486.1 138.5,472.4 138.7,477.5 139,481.1 139.2,484.8 139.4,498.3 139.6,498.9 139.8,483.3 140,480.6 140.3,482.2 140.5,481.7 140.7,491 140.9,488.2 141.1,495.5 141.3,489.9 141.5,494.9 141.8,493.7 142,488.6 142.2,491.9 142.4,486.2 142.6,485.1 142.8,485.4 143.1,476.4 143.3,495.7 143.5,502.6 143.7,491.7 143.9,483.6 144.1,468.1 144.4,474.7 144.6,476.7 144.8,491.9 145,485.4 145.2,482.8 145.4,494.7 145.7,497.9 145.9,494.3 146.1,490.1 146.3,508.7 146.5,497.9 146.7,492.1 146.9,492.2 147.2,489.3 147.4,508.1 147.6,495.6 147.8,489.8 148,491.8 148.2,497.3 148.5,491.9 148.7,478.5 148.9,496.2 149.1,503.2 149.3,506.7 149.5,483 149.8,489.4 150,490.4 150.2,495.6 150.4,498.4 150.6,507.3 150.8,496.4 151.1,491.2 151.3,503.2 151.5,502.4 151.7,499.6 151.9,494.8 152.1,490.6 152.3,481.3 152.6,473.8 152.8,473.7 153,471 153.2,492.2 153.4,494.8 153.6,483.6 153.9,485.4 154.1,488.2 154.3,502.1 154.5,507.7 154.7,492.8 154.9,489.1 155.2,491.8 155.4,493.7 155.6,502.7 155.8,493.3 156,483.7 156.2,472.2 156.4,483.3 156.7,489.2 156.9,497.2 157.1,484.3 157.3,471.8 157.5,488.6 157.7,487.4 158,488.5 158.2,493.4 158.4,508 158.6,499.3 158.8,490.5 159,499 159.3,499 159.5,509.5 159.7,492.7 159.9,487.7 160.1,489 160.3,491.6 160.6,495.1 160.8,492.8 161,493.5 161.2,493.3 161.4,491.8 161.6,490.1 161.8,476.7 162.1,495.6 162.3,490.8 162.5,494.7 162.7,498.9 162.9,508.8 163.1,494.6 163.4,498.3 163.6,498.4 163.8,490.9 164,497.7 164.2,493.4 164.4,492.2 164.7,485.2 164.9,479.7 165.1,492.6 165.3,484.6 165.5,488.9 165.7,488.9 165.9,491.3 166.2,485 166.4,496.6 166.6,491.3 166.8,481.3 167,489.2 167.2,471.3 167.5,489.4 167.7,488.5 167.9,492.9 168.1,495.6 168.3,499.1 168.5,497.9 168.8,494 169,497.3 169.2,487.1 169.4,475.3 169.6,495.9 169.8,486.8 170.1,487.5 170.3,487.4 170.5,466.3 170.7,469.2 170.9,479.6 171.1,484.9 171.3,502.2 171.6,490.4 171.8,495.3 172,491.3 172.2,490.1 172.4,482.5 172.6,467.5 172.9,472.1 173.1,471 173.3,485.4 173.5,484.8 173.7,481.6 173.9,497 174.2,476.2 174.4,490.6 174.6,498.4 174.8,481.5 175,466.5 175.2,487.5 175.5,493.3 175.7,464.5 175.9,479 176.1,498.9 176.3,498.1 176.5,477.4 176.7,479.6 177,479.6 177.2,474.5 177.4,478.2 177.6,488.5 177.8,499.2 178,491.5 178.3,498 178.5,494 178.7,477.1 178.9,480.7 179.1,486.1 179.3,488.2 179.6,483.7 179.8,479.7 180,495.5 180.2,491.3 180.4,475.8 180.6,477.9 180.8,491.4 181.1,495.3 181.3,505.4 181.5,501.6 181.7,483.7 181.9,488.3 182.1,495.2 182.4,496.3 182.6,493.5 182.8,492.4 183,493.5 183.2,496.9 183.4,488.8 183.7,476.1 183.9,489.5 184.1,493.6 184.3,482.5 184.5,497.3 184.7,497.2 185,495.8 185.2,491.5 185.4,492.6 185.6,497.2 185.8,491.2 186,498.2 186.2,504.8 186.5,508.8 186.7,493.7 186.9,502.7 187.1,492.8 187.3,486.5 187.5,482.1 187.8,488.5 188,493.3 188.2,491 188.4,494.5 188.6,499.8 188.8,485.8 189.1,494.6 189.3,477.1 189.5,480.9 189.7,490.1 189.9,487 190.1,478.2 190.4,495.6 190.6,498.3 190.8,499.9 191,493.6 191.2,489 191.4,489.6 191.6,494.8 191.9,495.8 192.1,483.8 192.3,477.6 192.5,484.7 192.7,497 192.9,488.9 193.2,487.6 193.4,487.3 193.6,473.1 193.8,476.2 194,492.3 194.2,497.5 194.5,483 194.7,485.8 194.9,481.1 195.1,487.6 195.3,495.6 195.5,490.4 195.7,476.3 196,481.6 196.2,494.4 196.4,493.7 196.6,494.6 196.8,490.5 197,481.5 197.3,466.9 197.5,478.7 197.7,488.7 197.9,488.4 198.1,488.8 198.3,491.9 198.6,490.2 198.8,489.6 199,497.3 199.2,488.9 199.4,491.6 199.6,496.8 199.9,489.1 200.1,492.4 200.3,475.2 200.5,479.6 200.7,485 200.9,492.8 201.1,493.5 201.4,484.8 201.6,492.3 201.8,484.9 202,501 202.2,493.3 202.4,485 202.7,484.9 202.9,487.6 203.1,480.1 203.3,492.1 203.5,497.1 203.7,492 204,480.8 204.2,482.3 204.4,488.2 204.6,486.6 204.8,484.8 205,496.2 205.2,509 205.5,504.8 205.7,505.4 205.9,499.3 206.1,501.3 206.3,499.5 206.5,491.3 206.8,489.5 207,489.6 207.2,474.3 207.4,487.6 207.6,491.3 207.8,479.6 208.1,493.5 208.3,501.2 208.5,485.3 208.7,485 208.9,482.4 209.1,481 209.4,477.5 209.6,488.6 209.8,489.4 210,496.8 210.2,491.4 210.4,488.4 210.6,491.9 210.9,485.2 211.1,476.7 211.3,487.6 211.5,481.4 211.7,477.1 211.9,473.9 212.2,489.8 212.4,478.8 212.6,478.9 212.8,486 213,490.1 213.2,487.4 213.5,480.2 213.7,476.9 213.9,466.3 214.1,481.5 214.3,480.3 214.5,488.7 214.8,482 215,484.9 215.2,491.3 215.4,498.2 215.6,497.7 215.8,490.9 216,476.5 216.3,476.4 216.5,492.8 216.7,493.6 216.9,490.5 217.1,490.3 217.3,489 217.6,482.6 217.8,484.9 218,492.3 218.2,502.9 218.4,497.5 218.6,503.6 218.9,496.9 219.1,490.7 219.3,498.6 219.5,494.8 219.7,494.4 219.9,475.9 220.1,481 220.4,498.9 220.6,491.5 220.8,488.1 221,491.1 221.2,493.4 221.4,487.7 221.7,484.6 221.9,485 222.1,495.4 222.3,494.5 222.5,502.3 222.7,505.3 223,500.3 223.2,501.8 223.4,498.3 223.6,473.5 223.8,480.7 224,493.5 224.3,506.4 224.5,502.9 224.7,505.4 224.9,509.3 225.1,495.6 225.3,496.6 225.5,490.9 225.8,464.4 226,478.6 226.2,486 226.4,486.9 226.6,491.7 226.8,497.2 227.1,495.5 227.3,485.1 227.5,491 227.7,499.6 227.9,503.2 228.1,503 228.4,496.7 228.6,490.6 228.8,487.7 229,480.3 229.2,488.9 229.4,483.9 229.7,485.9 229.9,483.5 230.1,499.7 230.3,486.4 230.5,498.8 230.7,501.3 230.9,490.4 231.2,493.2 231.4,507.8 231.6,484.5 231.8,495.2 232,491.6 232.2,493.7 232.5,479.3 232.7,470.6 232.9,476.1 233.1,488.5 233.3,489.1 233.5,481.3 233.8,492.6 234,496.7 234.2,487.1 234.4,483.1 234.6,489.4 234.8,491.8 235,503.4 235.3,488.1 235.5,490.3 235.7,499 235.9,501.1 236.1,500.4 236.3,482.2 236.6,481.3 236.8,496.2 237,477.5 237.2,472.5 237.4,491.9 237.6,508.2 237.9,491.7 238.1,494.9 238.3,493.1 238.5,495 238.7,482.6 238.9,473.3 239.2,476.4 239.4,486.4 239.6,486.7 239.8,484 240,498.2 240.2,484.8 240.4,490.4 240.7,488.5 240.9,488.6 241.1,482.2 241.3,477.4 241.5,464.9 241.7,483.8 242,493.9 242.2,490.9 242.4,494.8 242.6,485.9 242.8,493.9 243,490.9 243.3,483 243.5,478.2 243.7,484 243.9,474.4 244.1,471.6 244.3,495.8 244.6,490 244.8,488.8 245,491.5 245.2,494.8 245.4,491.8 245.6,487.9 245.8,487 246.1,476.5 246.3,475.3 246.5,489.2 246.7,494.7 246.9,485.7 247.1,493 247.4,490.1 247.6,486.4 247.8,479.6 248,481.4 248.2,472.7 248.4,487.4 248.7,483.5 248.9,492 249.1,489.5 249.3,488.8 249.5,495.7 249.7,508.6 249.9,491.8 250.2,488.1 250.4,488.1 250.6,493.8 250.8,493.7 251,488.3 251.2,489.1 251.5,479.8 251.7,485.1 251.9,493.6 252.1,487 252.3,493 252.5,489.8 252.8,501.1 253,497.3 253.2,489.3 253.4,494 253.6,491.9 253.8,486.4 254.1,488 254.3,472.6 254.5,485.9 254.7,489.7 254.9,491 255.1,503 255.3,505.2 255.6,493.1 255.8,493.5 256,480.5 256.2,486.9 256.4,490 256.6,481.6 256.9,484.6 257.1,472.6 257.3,491.8 257.5,487.5 257.7,483.6 257.9,482.8 258.2,476.6 258.4,475 258.6,484.3 258.8,491.6 259,482.8 259.2,486.7 259.4,480.5 259.7,473 259.9,481.7 260.1,492.9 260.3,492.7 260.5,485 260.7,489.4 261,479.3 261.2,485.2 261.4,486.6 261.6,492.5 261.8,491.3 262,481.2 262.3,488.8 262.5,491.4 262.7,495.3 262.9,486.2 263.1,498.1 263.3,497.5 263.6,486.3 263.8,475 264,486 264.2,479.8 264.4,498.8 264.6,488.6 264.8,486.9 265.1,496.8 265.3,503.9 265.5,498.6 265.7,492 265.9,488 266.1,488.1 266.4,482.7 266.6,480.9 266.8,496 267,494.8 267.2,495.2 267.4,484.5 267.7,491.1 267.9,482.2 268.1,486 268.3,466.1 268.5,481.3 268.7,486.4 269,489.2 269.2,488.4 269.4,466.4 269.6,485.5 269.8,494 270,492.8 270.2,486.1 270.5,494.9 270.7,486.2 270.9,481.9 271.1,488 271.3,490.8 271.5,495.5 271.8,494 272,497 272.2,483.5 272.4,471.8 272.6,485.7 272.8,488.5 273.1,501.2 273.3,498.2 273.5,491.3 273.7,488.6 273.9,488.5 274.1,482.4 274.3,486.2 274.6,491.2 274.8,476.6 275,498.1 275.2,500.4 275.4,498.8 275.6,498.4 275.9,498.4 276.1,495.2 276.3,465.8 276.5,493.3 276.7,487.2 276.9,488.8 277.2,488.6 277.4,495.8 277.6,499.1 277.8,496.3 278,486.1 278.2,485.6 278.5,478.9 278.7,476.7 278.9,474.3 279.1,490.6 279.3,480.3 279.5,479.7 279.7,466.3 280,475.3 280.2,481.9 280.4,488 280.6,488.1 280.8,499.3 281,496.2 281.3,492.9 281.5,483.9 281.7,492.3 281.9,490.2 282.1,473.8 282.3,488.5 282.6,482.7 282.8,491.1 283,491.3 283.2,487.3 283.4,509.2 283.6,490.6 283.9,497.1 284.1,481.5 284.3,485.4 284.5,481.6 284.7,478.7 284.9,479 285.1,488 285.4,490.3 285.6,499.5 285.8,493.3 286,494.6 286.2,492.2 286.4,474.7 286.7,478.1 286.9,485.3 287.1,497.3 287.3,488.2 287.5,476 287.7,491.1 288,487.5 288.2,492.6 288.4,492.2 288.6,493.4 288.8,501.4 289,498.2 289.2,503.8 289.5,486.6 289.7,480.1 289.9,486 290.1,486.4 290.3,488.2 290.5,487.9 290.8,487.8 291,490.9 291.2,491.6 291.4,498.8 291.6,499.8 291.8,498.2 292.1,492.4 292.3,493.5 292.5,475.4 292.7,486.3 292.9,491.1 293.1,487.5 293.4,480.7 293.6,468.6 293.8,472.6 294,488.5 294.2,490.7 294.4,482 294.6,485 294.9,481.4 295.1,487.3 295.3,474.6 295.5,470.5 295.7,471.8 295.9,482 296.2,497.7 296.4,501.4 296.6,493 296.8,486.6 297,507.6 297.2,499.6 297.5,486.5 297.7,480.8 297.9,490.1 298.1,485.3 298.3,487.9 298.5,490.7 298.7,508.1 299,476.3 299.2,489 299.4,495.8 299.6,500 299.8,503.2 300,486.7 300.3,471.5 300.5,481.3 300.7,477.1 300.9,490.3 301.1,490.5 301.3,483 301.6,461.5 301.8,488.1 302,499.1 302.2,503 302.4,498.1 302.6,497.1 302.9,493.4 303.1,495.5 303.3,493.7 303.5,491.1 303.7,486.6 303.9,488.1 304.1,492.8 304.4,492.9 304.6,484.6 304.8,489.3 305,496 305.2,498.5 305.4,491.9 305.7,486.7 305.9,478.1 306.1,488 306.3,477.3 306.5,488 306.7,490.7 307,494 307.2,488.1 307.4,480.7 307.6,486.6 307.8,492 308,500 308.3,493.6 308.5,493.7 308.7,492.9 308.9,495.3 309.1,497.8 309.3,496.2 309.5,489.7 309.8,482.4 310,487.1 310.2,486.5 310.4,490 310.6,490.9 310.8,498.6 311.1,488.1 311.3,484.8 311.5,474.8 311.7,489.3 311.9,488.9 312.1,495.6 312.4,490.9 312.6,491.2 312.8,461.5 313,489.4 313.2,485 313.4,491.4 313.6,486.3 313.9,490.7 314.1,493.1 314.3,490.8 314.5,487.8 314.7,498 314.9,502.8 315.2,494.4 315.4,492.3 315.6,503.5 315.8,506.7 316,501.4 316.2,493 316.5,490 316.7,482.1 316.9,476.5 317.1,469.7 317.3,491.2 317.5,490.8 317.8,482 318,495.4 318.2,500.6 318.4,505.3" fill="none" stroke="#ffe600" stroke-width="1.55" stroke-linejoin="round" stroke-linecap="butt"/>
<polyline points="37.9,357.4 38.3,358.4 38.7,358.9 39.1,358.5 39.5,359 39.9,358.6 40.3,359.1 40.7,360 41.1,359.5 41.5,360.5 41.9,360.6 42.3,360.9 42.7,362 43.1,362.3 43.5,362.2 43.9,362.9 44.3,363.3 44.7,363.1 45.1,363.6 45.5,362.5 45.9,361.7 46.3,362 46.7,361.9 47.1,362.7 47.5,363.6 47.9,363.9 48.3,364.5 48.7,364.9 49.1,365 49.5,364.7 49.9,364.2 50.3,364.2 50.7,364.2 51.1,365 51.5,364.6 51.9,365.2 52.3,365.2 52.7,365.1 53.1,364.3 53.6,363.1 54,363.2 54.4,362.4 54.8,362.1 55.2,360.9 55.6,361 56,360.8 56.4,360.8 56.8,360.4 57.2,359.9 57.6,359.3 58,357.9 58.4,357.7 58.8,358.2 59.2,357.9 59.6,358.3 60,357.9 60.4,357.8 60.8,357.2 61.2,356.6 61.6,357.4 62,356.3 62.4,355.5 62.8,355.5 63.2,354.9 63.6,354.3 64,354.1 64.4,353 64.8,352.9 65.2,352.5 65.6,351.9 66,351.4 66.4,351.2 66.8,350.6 67.2,350.7 67.6,350.6 68,350.4 68.4,350.2 68.8,350.3 69.2,350.3 69.6,350.6 70,350.1 70.4,349.8 70.8,349.3 71.2,348.1 71.6,347.8 72,348 72.4,348.4 72.8,348.2 73.2,348.1 73.6,347.9 74,348.2 74.4,348.8 74.8,349.4 75.2,349.5 75.6,348.6 76,348.6 76.4,348.8 76.8,349.4 77.2,349 77.6,349.3 78,349.2 78.4,349.1 78.8,350.5 79.2,350.2 79.6,349.9 80,351.2 80.4,350.8 80.8,351 81.2,350.4 81.6,349.7 82,350.5 82.4,350.7 82.8,350.7 83.2,351.1 83.6,350.2 84,349.7 84.4,350.2 84.9,350.3 85.3,350 85.7,350.1 86.1,350.5 86.5,351.3 86.9,351.1 87.3,350.4 87.7,351.3 88.1,352.8 88.5,352.9 88.9,353 89.3,353.1 89.7,353.1 90.1,355 90.5,355.4 90.9,354.8 91.3,355.1 91.7,355.9 92.1,355.4 92.5,355.8 92.9,357.2 93.3,357.6 93.7,358.1 94.1,357.4 94.5,358.4 94.9,359.1 95.3,359.4 95.7,359.6 96.1,360.8 96.5,361.2 96.9,360.2 97.3,360.3 97.7,360.3 98.1,360.8 98.5,360.8 98.9,361.9 99.3,362.2 99.7,362.8 100.1,362.6 100.5,361.9 100.9,361.9 101.3,361.3 101.7,360.6 102.1,360 102.5,361 102.9,361.4 103.3,359.8 103.7,359 104.1,359.2 104.5,358.9 104.9,358.7 105.3,359.3 105.7,358 106.1,358.6 106.5,359.1 106.9,358.4 107.3,359.2 107.7,359.5 108.1,361.1 108.5,361.5 108.9,361.7 109.3,362.1 109.7,361.9 110.1,362.2 110.5,362.3 110.9,363 111.3,362.8 111.7,363.9 112.1,363 112.5,363.5 112.9,363.1 113.3,364 113.7,363.3 114.1,363.3 114.5,363.4 114.9,363.9 115.3,363.8 115.7,365.1 116.2,365.4 116.6,365.2 117,365.5 117.4,365 117.8,365.1 118.2,364.1 118.6,364.2 119,363.6 119.4,363.3 119.8,363.1 120.2,364.1 120.6,363.3 121,363.7 121.4,363.5 121.8,364.2 122.2,364.7 122.6,364.8 123,365.3 123.4,365.8 123.8,366 124.2,364.9 124.6,364.2 125,363.9 125.4,363.9 125.8,364.1 126.2,363.5 126.6,363.3 127,363.8 127.4,363.5 127.8,363 128.2,361.7 128.6,362.6 129,363.8 129.4,363.2 129.8,364.1 130.2,364 130.6,363.7 131,364.2 131.4,365 131.8,366.4 132.2,366.3 132.6,367.2 133,367.4 133.4,367.3 133.8,367.8 134.2,369 134.6,368.5 135,368.8 135.4,369.4 135.8,368.1 136.2,367.7 136.6,368 137,366.6 137.4,366.9 137.8,366.7 138.2,367.1 138.6,366.5 139,365.8 139.4,365.9 139.8,366 140.2,367.5 140.6,367.9 141,368.3 141.4,368 141.8,368.3 142.2,368 142.6,368.3 143,367.8 143.4,369.1 143.8,368.5 144.2,367.3 144.6,368 145,368.2 145.4,367.7 145.8,367.5 146.2,368.2 146.6,369.4 147.1,369.2 147.5,368.9 147.9,368.2 148.3,368.3 148.7,368.9 149.1,368.6 149.5,368.2 149.9,369.4 150.3,369.8 150.7,369.3 151.1,369.5 151.5,368.8 151.9,367.7 152.3,366.9 152.7,367.8 153.1,368.2 153.5,367.1 153.9,366.8 154.3,366.9 154.7,366.1 155.1,366.7 155.5,366.9 155.9,366.9 156.3,367.9 156.7,367.8 157.1,368.3 157.5,367.4 157.9,367.7 158.3,367.6 158.7,368 159.1,367.9 159.5,367.2 159.9,366.4 160.3,365.6 160.7,365.8 161.1,365.8 161.5,365.9 161.9,365.4 162.3,365.9 162.7,364.9 163.1,365.1 163.5,364.7 163.9,365 164.3,364.9 164.7,365.3 165.1,365.5 165.5,366.4 165.9,366.8 166.3,366.7 166.7,366.2 167.1,366.7 167.5,365 167.9,365.6 168.3,365.9 168.7,365.5 169.1,367.4 169.5,367.7 169.9,366.5 170.3,367.6 170.7,367.6 171.1,368.2 171.5,368.4 171.9,368.8 172.3,369.2 172.7,369.1 173.1,368.7 173.5,369.6 173.9,368.8 174.3,367.6 174.7,367.3 175.1,367.7 175.5,367.5 175.9,368.1 176.3,368.2 176.7,367.4 177.1,367.1 177.5,366.7 177.9,366.5 178.4,365.4 178.8,367.4 179.2,367.1 179.6,367.3 180,367 180.4,367.2 180.8,368.1 181.2,368.5 181.6,368.3 182,369 182.4,369 182.8,368.9 183.2,368.5 183.6,368.6 184,369.6 184.4,370.1 184.8,369.4 185.2,369.2 185.6,369.2 186,368.7 186.4,368.3 186.8,368.5 187.2,369.9 187.6,370.5 188,370.7 188.4,370.5 188.8,371.9 189.2,371.9 189.6,371.9 190,371.9 190.4,371.8 190.8,371.9 191.2,371.9 191.6,371.9 192,371.9 192.4,371.6 192.8,371.7 193.2,371.9 193.6,371.9 194,371.9 194.4,371.9 194.8,371.9 195.2,371.9 195.6,371.9 196,371.6 196.4,371.3 196.8,371.1 197.2,371 197.6,370.9 198,370.8 198.4,370.8 198.8,371.2 199.2,370 199.6,369.7 200,369.6 200.4,369 200.8,368.9 201.2,369.3 201.6,370.2 202,370.5 202.4,370.8 202.8,370.2 203.2,369.5 203.6,369.6 204,369 204.4,369.3 204.8,368.5 205.2,368.2 205.6,367.8 206,366.9 206.4,367.4 206.8,367.6 207.2,368.2 207.6,367.5 208,366.5 208.4,366.7 208.8,367.1 209.2,367.7 209.7,368 210.1,368 210.5,367.8 210.9,368.3 211.3,367.8 211.7,367.7 212.1,367.6 212.5,368.5 212.9,367.9 213.3,367.3 213.7,367.7 214.1,368.4 214.5,368.8 214.9,367.8 215.3,369.2 215.7,369.2 216.1,369.4 216.5,369.6 216.9,369.3 217.3,369.9 217.7,370.1 218.1,369.9 218.5,369 218.9,369.4 219.3,368.3 219.7,367.7 220.1,368.1 220.5,367.6 220.9,367.2 221.3,366.8 221.7,367.1 222.1,368.1 222.5,368.9 222.9,368.7 223.3,367.6 223.7,366.2 224.1,365.3 224.5,365 224.9,364.4 225.3,364.1 225.7,363.3 226.1,363 226.5,362.3 226.9,362.3 227.3,361.7 227.7,361.1 228.1,361.8 228.5,361.7 228.9,361.1 229.3,360.2 229.7,360.4 230.1,360.4 230.5,359.8 230.9,359.8 231.3,359.7 231.7,359.1 232.1,358.3 232.5,357.2 232.9,356.2 233.3,357.1 233.7,357.3 234.1,358 234.5,357.1 234.9,357.8 235.3,357.8 235.7,357.3 236.1,359 236.5,360.1 236.9,360.9 237.3,360.9 237.7,361.3 238.1,362.4 238.5,362.3 238.9,361.9 239.3,361.8 239.7,361.7 240.1,362.7 240.6,362.4 241,362.4 241.4,363.3 241.8,362.7 242.2,363.1 242.6,363.9 243,364.5 243.4,365.1 243.8,365.3 244.2,364.5 244.6,364.8 245,364.2 245.4,363.6 245.8,363.9 246.2,363.5 246.6,364.5 247,363.8 247.4,363.9 247.8,364 248.2,363.9 248.6,363.8 249,364 249.4,364.9 249.8,364 250.2,364.4 250.6,363.6 251,363.2 251.4,363.9 251.8,364.5 252.2,363.4 252.6,362.7 253,362.8 253.4,362.3 253.8,361 254.2,360.2 254.6,359.5 255,359.4 255.4,358.8 255.8,359.7 256.2,359.6 256.6,360.1 257,359.1 257.4,357.6 257.8,357.6 258.2,357.8 258.6,357.7 259,357.4 259.4,357 259.8,356.2 260.2,355.7 260.6,356.9 261,356.3 261.4,356.3 261.8,357 262.2,356.4 262.6,356.4 263,357.2 263.4,357.7 263.8,358 264.2,357 264.6,356.7 265,356.7 265.4,357.1 265.8,356.2 266.2,356.8 266.6,356.6 267,357.1 267.4,357 267.8,357.5 268.2,357.1 268.6,357 269,358.4 269.4,358.7 269.8,358.7 270.2,358.1 270.6,358.2 271,358.4 271.4,358.6 271.9,358.7 272.3,357.6 272.7,357.9 273.1,358.8 273.5,358.9 273.9,358.4 274.3,358.7 274.7,358.6 275.1,358.8 275.5,358.7 275.9,358 276.3,357.9 276.7,359 277.1,359.6 277.5,360.6 277.9,359.3 278.3,358.9 278.7,358.1 279.1,358.3 279.5,358.8 279.9,358.7 280.3,359.2 280.7,360.3 281.1,360.8 281.5,360.2 281.9,360.4 282.3,359.7 282.7,359.5 283.1,359.4 283.5,360.1 283.9,360.6 284.3,361.5 284.7,361.8 285.1,362.2 285.5,362.5 285.9,362.6 286.3,362.1 286.7,362.9 287.1,361.8 287.5,361.1 287.9,360.2 288.3,360.2 288.7,359.5 289.1,358.1 289.5,358.1 289.9,358.4 290.3,357.7 290.7,358 291.1,357.8 291.5,357.4 291.9,357.4 292.3,357.9 292.7,357 293.1,356.9 293.5,357.4 293.9,358.1 294.3,357.7 294.7,357.3 295.1,357.6 295.5,358.7 295.9,358.9 296.3,359.6 296.7,360.3 297.1,360 297.5,360.2 297.9,360.4 298.3,361.1 298.7,361.3 299.1,361.6 299.5,360 299.9,361 300.3,361.3 300.7,361.4 301.1,360.9 301.5,361.7 301.9,361 302.3,360.8 302.7,360.8 303.2,360.9 303.6,360.9 304,360.8 304.4,360.6 304.8,361 305.2,362.2 305.6,360.8 306,361.7 306.4,362 306.8,362 307.2,362.3 307.6,361.2 308,361.6 308.4,362 308.8,363 309.2,363.2 309.6,363.6 310,364.1 310.4,363.2 310.8,364.7 311.2,365 311.6,365.4 312,365.7 312.4,365.2 312.8,365.5 313.2,366.2 313.6,366.1 314,366.9 314.4,367.2 314.8,367.1 315.2,367.4 315.6,366.9 316,366.7 316.4,367.4 316.8,368.1 317.2,367 317.6,367.3 318,366.5 318.4,366.4" fill="none" stroke="#ff7d00" stroke-width="1.45" stroke-linejoin="round" stroke-linecap="butt"/>
<polyline points="37.9,341.6 38.3,341.3 38.7,342.6 39.1,342.7 39.5,343.3 39.9,343.6 40.3,346.3 40.7,345.5 41.1,346.7 41.5,346.9 41.9,344.5 42.3,344.8 42.7,345.1 43.1,346.1 43.5,345.2 43.9,345.8 44.3,345.8 44.7,344.5 45.1,346.7 45.5,345.6 45.9,344.3 46.3,343.5 46.7,342.7 47.1,342.1 47.5,341.7 47.9,341 48.3,341.1 48.7,340.7 49.1,344.3 49.5,346.1 49.9,343.9 50.3,344.2 50.7,345.9 51.1,342 51.5,341.9 51.9,342.5 52.3,344.5 52.7,345.2 53.1,344.2 53.6,344.6 54,345.5 54.4,345.6 54.8,345.4 55.2,342.9 55.6,343.8 56,344.7 56.4,344.1 56.8,343.1 57.2,344 57.6,345.6 58,346.4 58.4,346.7 58.8,346.5 59.2,344.7 59.6,346.3 60,348.1 60.4,347 60.8,346 61.2,347.3 61.6,346.9 62,348.5 62.4,349 62.8,352.7 63.2,351.2 63.6,352 64,349.5 64.4,348.2 64.8,348 65.2,346.8 65.6,346.7 66,347.2 66.4,347 66.8,347.3 67.2,344.3 67.6,345.1 68,346.6 68.4,346.7 68.8,345.3 69.2,346.3 69.6,342 70,343.5 70.4,343.5 70.8,344.5 71.2,344.7 71.6,346.2 72,346.9 72.4,350.1 72.8,346.8 73.2,347.5 73.6,347.6 74,345.8 74.4,346.2 74.8,345.2 75.2,346.4 75.6,345.4 76,345.4 76.4,346.7 76.8,346.4 77.2,347.4 77.6,348.3 78,347.2 78.4,346.3 78.8,343.2 79.2,342.7 79.6,341.6 80,340.3 80.4,339.5 80.8,340.2 81.2,340.4 81.6,340.4 82,339.5 82.4,338.2 82.8,340.2 83.2,339.2 83.6,339.8 84,338.8 84.4,335.5 84.9,337.5 85.3,340.4 85.7,341.5 86.1,340.9 86.5,342.4 86.9,342.2 87.3,343.8 87.7,345.7 88.1,344.7 88.5,344.8 88.9,343.2 89.3,345.1 89.7,346.6 90.1,346.6 90.5,347.1 90.9,346.2 91.3,343.9 91.7,344.2 92.1,346 92.5,343.9 92.9,342.6 93.3,344.4 93.7,345.3 94.1,348.1 94.5,347.1 94.9,350.2 95.3,350.3 95.7,347.8 96.1,346.6 96.5,347.5 96.9,347.4 97.3,346.7 97.7,346.8 98.1,346.2 98.5,347 98.9,348.8 99.3,346 99.7,349.2 100.1,347.9 100.5,348.7 100.9,348.5 101.3,348.7 101.7,346.5 102.1,344.3 102.5,342.9 102.9,341.1 103.3,341.2 103.7,341.2 104.1,341.3 104.5,343.1 104.9,343.3 105.3,342.1 105.7,342.3 106.1,340.6 106.5,339.9 106.9,338.6 107.3,337.7 107.7,337.1 108.1,338.8 108.5,336.1 108.9,334.3 109.3,335.4 109.7,337.9 110.1,337.1 110.5,335 110.9,335.6 111.3,336.4 111.7,334.9 112.1,336.6 112.5,338.1 112.9,338.8 113.3,340 113.7,337.7 114.1,336.5 114.5,336.2 114.9,338.7 115.3,339.1 115.7,339.2 116.2,339.3 116.6,340.2 117,341.9 117.4,341.8 117.8,341 118.2,340.5 118.6,341 119,340.7 119.4,341.3 119.8,341.7 120.2,341.1 120.6,341.3 121,341.4 121.4,341.9 121.8,341.3 122.2,341.2 122.6,342 123,343.5 123.4,343 123.8,341.5 124.2,340.6 124.6,342.5 125,342.3 125.4,343 125.8,343 126.2,343 126.6,341.6 127,343.2 127.4,342.2 127.8,340.4 128.2,339.8 128.6,341.4 129,340.9 129.4,340.2 129.8,341 130.2,341.8 130.6,341 131,341.3 131.4,342.7 131.8,342.4 132.2,341.5 132.6,340.5 133,341.6 133.4,342.5 133.8,341.1 134.2,342.5 134.6,341.3 135,339.4 135.4,338.2 135.8,338 136.2,338.5 136.6,336.5 137,336.1 137.4,334.9 137.8,333.3 138.2,331.8 138.6,332.5 139,333.2 139.4,333.6 139.8,334.9 140.2,336.7 140.6,334.5 141,332.3 141.4,332.8 141.8,332.7 142.2,331.8 142.6,329.8 143,330.4 143.4,329.9 143.8,329.2 144.2,328.8 144.6,327.4 145,329 145.4,329.4 145.8,326.4 146.2,327.9 146.6,326.7 147.1,326.5 147.5,325.7 147.9,326.1 148.3,326.9 148.7,328.4 149.1,328.5 149.5,327.3 149.9,326.7 150.3,328.2 150.7,326.2 151.1,325.3 151.5,326.5 151.9,324.9 152.3,325.7 152.7,325.1 153.1,326.5 153.5,327.1 153.9,327.2 154.3,328.9 154.7,328.6 155.1,327.9 155.5,327.4 155.9,327.4 156.3,327.8 156.7,327 157.1,326.2 157.5,327.6 157.9,330.8 158.3,330.4 158.7,334.1 159.1,334.2 159.5,333.6 159.9,335.2 160.3,333.9 160.7,333.4 161.1,334.5 161.5,336.4 161.9,337 162.3,339 162.7,340.9 163.1,339.8 163.5,340.2 163.9,340.2 164.3,341.2 164.7,344.5 165.1,345.9 165.5,342.9 165.9,342.7 166.3,342.9 166.7,342 167.1,343.1 167.5,344.5 167.9,346.8 168.3,346.4 168.7,345.8 169.1,345.7 169.5,347 169.9,348.1 170.3,350.1 170.7,351.4 171.1,353.5 171.5,353.1 171.9,354.1 172.3,352.8 172.7,351.4 173.1,351 173.5,351.1 173.9,349.5 174.3,349.4 174.7,348.9 175.1,348 175.5,348 175.9,348 176.3,346.1 176.7,347.3 177.1,345.7 177.5,346.9 177.9,345.7 178.4,346.3 178.8,344.2 179.2,342.5 179.6,343 180,342.8 180.4,342.8 180.8,343.4 181.2,341.3 181.6,339.1 182,340 182.4,338.6 182.8,339.9 183.2,341.3 183.6,339.1 184,339.8 184.4,340.3 184.8,340 185.2,340.7 185.6,339.9 186,338.7 186.4,340.9 186.8,341.5 187.2,342.3 187.6,344 188,343.8 188.4,341.8 188.8,339.3 189.2,337.4 189.6,339.5 190,338.2 190.4,338.8 190.8,339.7 191.2,338.3 191.6,336.9 192,336.6 192.4,338.3 192.8,341.2 193.2,342.3 193.6,341.1 194,341.7 194.4,340.3 194.8,341.4 195.2,341.3 195.6,340.7 196,339.6 196.4,340.2 196.8,339.8 197.2,339.3 197.6,339.3 198,338.3 198.4,340.1 198.8,340.4 199.2,341.5 199.6,344.3 200,343.3 200.4,342.7 200.8,341.6 201.2,340.3 201.6,340.4 202,339.6 202.4,339.9 202.8,338.6 203.2,339.4 203.6,339.3 204,340 204.4,340.6 204.8,339.6 205.2,341.2 205.6,339.9 206,340.8 206.4,340.9 206.8,340.3 207.2,340.9 207.6,341.1 208,343.4 208.4,342.8 208.8,343.2 209.2,341.3 209.7,342.4 210.1,340.5 210.5,341 210.9,341 211.3,340.9 211.7,340.7 212.1,341.9 212.5,340.5 212.9,342.3 213.3,342 213.7,341.6 214.1,341.1 214.5,340.3 214.9,343.3 215.3,342.3 215.7,342.7 216.1,343.2 216.5,343.1 216.9,344.7 217.3,344.8 217.7,345.1 218.1,345.7 218.5,344.8 218.9,346.2 219.3,345.6 219.7,345.9 220.1,344.2 220.5,342.5 220.9,341.2 221.3,343.1 221.7,343.7 222.1,344.3 222.5,343.5 222.9,343.7 223.3,344.8 223.7,344.5 224.1,345.8 224.5,345.2 224.9,344.6 225.3,344.8 225.7,344.7 226.1,345.4 226.5,347.1 226.9,346.9 227.3,347.1 227.7,345.8 228.1,345.1 228.5,344.5 228.9,344.9 229.3,345.4 229.7,345.4 230.1,345.1 230.5,346.7 230.9,346.5 231.3,346.4 231.7,346.5 232.1,347.3 232.5,349 232.9,348.4 233.3,350.5 233.7,348.1 234.1,348.7 234.5,348.6 234.9,348.7 235.3,349.7 235.7,349.6 236.1,349.1 236.5,351.9 236.9,352.4 237.3,352.6 237.7,352.4 238.1,353.4 238.5,353 238.9,353.9 239.3,353.4 239.7,350.3 240.1,353 240.6,353.6 241,355.3 241.4,356.1 241.8,356.3 242.2,356.3 242.6,355.3 243,357 243.4,357.1 243.8,355.8 244.2,356.2 244.6,355.3 245,357.7 245.4,359.3 245.8,361.3 246.2,361.1 246.6,359.6 247,361.7 247.4,361.6 247.8,360.4 248.2,359.9 248.6,358.9 249,360.4 249.4,360.1 249.8,361.5 250.2,361.4 250.6,361.2 251,361.9 251.4,360.6 251.8,361.5 252.2,357.9 252.6,356.4 253,356.6 253.4,358.1 253.8,361.5 254.2,361.7 254.6,359.4 255,355.4 255.4,353.5 255.8,354.1 256.2,352.4 256.6,351 257,352.4 257.4,351.2 257.8,349.6 258.2,349.5 258.6,350.7 259,350.9 259.4,349.7 259.8,351 260.2,352.4 260.6,351.9 261,353.1 261.4,350.1 261.8,349.6 262.2,346.8 262.6,344.3 263,346.3 263.4,346.3 263.8,344.5 264.2,343.3 264.6,342.9 265,342.5 265.4,340.9 265.8,338.9 266.2,339.9 266.6,341.2 267,339.7 267.4,340 267.8,338 268.2,339.2 268.6,337.4 269,339.2 269.4,338.4 269.8,337.2 270.2,336.3 270.6,334.6 271,335.5 271.4,337.5 271.9,336.8 272.3,336.1 272.7,336.2 273.1,337.2 273.5,337.3 273.9,335.9 274.3,334.9 274.7,336.9 275.1,336.3 275.5,336.7 275.9,338 276.3,333.4 276.7,333.4 277.1,334.5 277.5,335.1 277.9,336.7 278.3,337.5 278.7,336.6 279.1,334.8 279.5,331 279.9,332.5 280.3,330 280.7,329.5 281.1,331 281.5,329.6 281.9,328.7 282.3,327.9 282.7,325 283.1,326.7 283.5,326.7 283.9,327.7 284.3,328.3 284.7,329.9 285.1,329.7 285.5,329.3 285.9,328.5 286.3,328.2 286.7,331.9 287.1,330.4 287.5,328.8 287.9,327.6 288.3,324.6 288.7,323.6 289.1,321.8 289.5,322.1 289.9,322.9 290.3,321.5 290.7,321.6 291.1,321.1 291.5,321.5 291.9,322 292.3,321.4 292.7,321.4 293.1,319.2 293.5,316.5 293.9,313.1 294.3,312.6 294.7,313.8 295.1,312 295.5,311.8 295.9,308.8 296.3,307.2 296.7,305.9 297.1,305.1 297.5,306.4 297.9,307.9 298.3,306.7 298.7,306.8 299.1,308 299.5,308.7 299.9,308.5 300.3,308.5 300.7,307.1 301.1,306 301.5,306 301.9,304.7 302.3,303.5 302.7,303.9 303.2,302.4 303.6,301.7 304,301.7 304.4,301.7 304.8,301.7 305.2,301.7 305.6,301.7 306,301.7 306.4,301.7 306.8,301.7 307.2,301.7 307.6,301.7 308,302.1 308.4,305.5 308.8,304.4 309.2,307.1 309.6,310.5 310,310 310.4,313.6 310.8,314.1 311.2,315.5 311.6,315.8 312,317.3 312.4,314.7 312.8,315.2 313.2,313.3 313.6,312.3 314,312.3 314.4,314.3 314.8,316.4 315.2,314.1 315.6,313.3 316,313.7 316.4,314 316.8,315.8 317.2,315.9 317.6,318 318,317.9 318.4,319.1" fill="none" stroke="#ff1400" stroke-width="1.45" stroke-linejoin="round" stroke-linecap="butt"/>
<polyline points="37.9,342.9 38.3,343.5 38.7,343.7 39.1,343.6 39.5,343.3 39.9,343.8 40.3,344.1 40.7,343.9 41.1,343.9 41.5,343.8 41.9,343.2 42.3,343.7 42.7,342.3 43.1,343.4 43.5,342.6 43.9,342.4 44.3,341.2 44.7,341.2 45.1,341.3 45.5,341.5 45.9,341 46.3,341.3 46.7,341.1 47.1,340.3 47.5,339.8 47.9,339.9 48.3,338.7 48.7,338.4 49.1,338.6 49.5,338.8 49.9,339.1 50.3,339.1 50.7,340 51.1,339.3 51.5,340 51.9,340.1 52.3,340.4 52.7,341.1 53.1,342.1 53.6,341.4 54,341.4 54.4,342.1 54.8,342 55.2,342.9 55.6,343.9 56,344.4 56.4,344.8 56.8,344.9 57.2,344.9 57.6,344.2 58,345.3 58.4,344.6 58.8,345 59.2,345.5 59.6,346.8 60,346.2 60.4,346.7 60.8,346.6 61.2,346.5 61.6,346.1 62,346.7 62.4,346.4 62.8,345.7 63.2,345.6 63.6,346.8 64,347 64.4,346.9 64.8,347.6 65.2,347 65.6,347.1 66,347.2 66.4,347.3 66.8,347.7 67.2,348 67.6,347 68,347.3 68.4,346.5 68.8,346.3 69.2,346.6 69.6,346.7 70,346.1 70.4,345.4 70.8,345.9 71.2,346.5 71.6,346.8 72,346.6 72.4,347.6 72.8,346.4 73.2,347.5 73.6,347 74,346.3 74.4,346.7 74.8,347.1 75.2,347.4 75.6,347.5 76,347 76.4,347 76.8,347.2 77.2,347.5 77.6,347.1 78,347.2 78.4,347.7 78.8,348.2 79.2,348.2 79.6,347.8 80,347.3 80.4,346 80.8,344.9 81.2,344.7 81.6,344.2 82,344.5 82.4,344.9 82.8,343.8 83.2,344.4 83.6,345 84,345 84.4,344.4 84.9,344.7 85.3,344.5 85.7,344.5 86.1,345.3 86.5,345.2 86.9,345.4 87.3,346.2 87.7,346.8 88.1,347 88.5,346.3 88.9,345.8 89.3,345.9 89.7,346 90.1,346.4 90.5,345.8 90.9,346.2 91.3,347 91.7,347 92.1,347.3 92.5,347.1 92.9,346.6 93.3,347.3 93.7,347.6 94.1,347 94.5,346.9 94.9,347.2 95.3,347 95.7,347.1 96.1,345.8 96.5,346.7 96.9,346.4 97.3,346.3 97.7,345.9 98.1,346.3 98.5,346.4 98.9,346 99.3,346.5 99.7,347.5 100.1,346 100.5,345.1 100.9,344.8 101.3,344.8 101.7,345.6 102.1,345.5 102.5,345.5 102.9,345.1 103.3,345.2 103.7,344.8 104.1,344.4 104.5,344.3 104.9,343.2 105.3,344.1 105.7,343.5 106.1,342.4 106.5,342.7 106.9,342.3 107.3,341.7 107.7,341.6 108.1,341.4 108.5,341 108.9,341.3 109.3,340.6 109.7,341.5 110.1,342.3 110.5,341.6 110.9,341.7 111.3,341.6 111.7,342.3 112.1,342.5 112.5,342.5 112.9,342.2 113.3,342.2 113.7,342.6 114.1,342.6 114.5,343.2 114.9,342.8 115.3,343 115.7,342.9 116.2,343.7 116.6,343.4 117,343.5 117.4,343.7 117.8,344 118.2,344 118.6,343.7 119,344.3 119.4,344.8 119.8,344.7 120.2,345.2 120.6,345 121,345.8 121.4,345 121.8,343.9 122.2,343.9 122.6,344.3 123,344.4 123.4,344.7 123.8,344.6 124.2,344.1 124.6,343.9 125,343.8 125.4,344.4 125.8,344 126.2,344.4 126.6,344.4 127,344.6 127.4,344.5 127.8,343.6 128.2,343.8 128.6,343.8 129,343.4 129.4,344.3 129.8,345 130.2,344 130.6,344 131,343.2 131.4,343.3 131.8,343.8 132.2,343.3 132.6,343.3 133,342.8 133.4,343.1 133.8,342.4 134.2,342.3 134.6,342 135,341.4 135.4,342 135.8,341.9 136.2,342.4 136.6,342.4 137,341.1 137.4,340.8 137.8,340.2 138.2,340.9 138.6,341.1 139,340.9 139.4,341.2 139.8,340.9 140.2,341.6 140.6,341.3 141,341.6 141.4,341.5 141.8,341.1 142.2,340.7 142.6,340.8 143,340.7 143.4,340.3 143.8,339.6 144.2,339.4 144.6,339.5 145,340.4 145.4,340.5 145.8,339.9 146.2,340 146.6,340 147.1,339.9 147.5,339.3 147.9,338.9 148.3,339 148.7,339 149.1,338.2 149.5,338.9 149.9,337.7 150.3,337.5 150.7,337.5 151.1,338.2 151.5,337.5 151.9,337.9 152.3,337.8 152.7,337.4 153.1,337.5 153.5,337.4 153.9,337.1 154.3,337.9 154.7,337.8 155.1,338 155.5,338.3 155.9,338.4 156.3,338.2 156.7,338.4 157.1,338 157.5,337.8 157.9,337.1 158.3,336.5 158.7,336.3 159.1,336.7 159.5,336.1 159.9,335.6 160.3,335.8 160.7,336.4 161.1,336.4 161.5,336.1 161.9,336 162.3,335.5 162.7,334.7 163.1,334.1 163.5,333.8 163.9,333.6 164.3,333.2 164.7,332.4 165.1,332.2 165.5,332 165.9,332.2 166.3,332.7 166.7,332.7 167.1,332.7 167.5,333.4 167.9,334.2 168.3,333.9 168.7,333.9 169.1,334.2 169.5,334.6 169.9,335.6 170.3,335.9 170.7,336.1 171.1,337.1 171.5,337 171.9,337 172.3,337.3 172.7,338 173.1,337 173.5,336.6 173.9,336.7 174.3,336.8 174.7,337 175.1,336.1 175.5,336.1 175.9,335.8 176.3,336.5 176.7,336.3 177.1,337 177.5,336 177.9,335.7 178.4,337 178.8,337.1 179.2,337.2 179.6,336.9 180,336.3 180.4,336.4 180.8,335.2 181.2,334.9 181.6,335.9 182,336.6 182.4,336.5 182.8,336.8 183.2,336.7 183.6,336.2 184,336.9 184.4,336.4 184.8,336.9 185.2,336.3 185.6,336.6 186,336.3 186.4,336.5 186.8,336.2 187.2,336.1 187.6,336.2 188,336.4 188.4,336 188.8,337 189.2,336.5 189.6,336.8 190,336.6 190.4,336.6 190.8,336.7 191.2,336.5 191.6,337.1 192,337.2 192.4,338.3 192.8,338.2 193.2,338.6 193.6,337.7 194,338.4 194.4,338.7 194.8,338.6 195.2,337.7 195.6,338.7 196,338.8 196.4,338.4 196.8,337.7 197.2,338.5 197.6,339.2 198,339.3 198.4,338.8 198.8,338.7 199.2,338.5 199.6,338.6 200,338.5 200.4,338 200.8,338.2 201.2,338.1 201.6,338.2 202,338 202.4,337.7 202.8,337.5 203.2,337.5 203.6,337.1 204,337.1 204.4,337.2 204.8,337.9 205.2,337.4 205.6,336 206,336.7 206.4,336.8 206.8,336.7 207.2,337.4 207.6,337.6 208,338.4 208.4,338 208.8,337.4 209.2,336.5 209.7,336.1 210.1,336.5 210.5,335.3 210.9,335.7 211.3,335.9 211.7,336.3 212.1,335.7 212.5,335.5 212.9,335.8 213.3,336.4 213.7,335.6 214.1,335.8 214.5,335.8 214.9,335.8 215.3,335.8 215.7,335.6 216.1,335.9 216.5,336.5 216.9,335.6 217.3,335.4 217.7,335.4 218.1,335.7 218.5,335.2 218.9,335.4 219.3,336.4 219.7,337 220.1,337.8 220.5,338.1 220.9,339 221.3,339.5 221.7,338.9 222.1,339 222.5,339.2 222.9,339.5 223.3,339.3 223.7,339 224.1,340.7 224.5,340.4 224.9,340.4 225.3,340 225.7,340 226.1,340.1 226.5,339.9 226.9,340.5 227.3,340.1 227.7,339.8 228.1,339.8 228.5,340.3 228.9,339.5 229.3,339.8 229.7,339.5 230.1,339.5 230.5,339.6 230.9,340 231.3,341.4 231.7,340.7 232.1,340.8 232.5,341.2 232.9,340.4 233.3,340.2 233.7,340 234.1,340.5 234.5,340.1 234.9,339.8 235.3,339.8 235.7,339.3 236.1,338.4 236.5,338.3 236.9,338.3 237.3,338 237.7,338 238.1,337.7 238.5,337.4 238.9,337.1 239.3,336.5 239.7,335.5 240.1,334.6 240.6,333.8 241,333.1 241.4,333.6 241.8,333.7 242.2,332.9 242.6,332 243,331.2 243.4,331.3 243.8,331.1 244.2,331.6 244.6,330.4 245,329.8 245.4,329.8 245.8,329.4 246.2,329.2 246.6,329.5 247,329.7 247.4,329.6 247.8,329.4 248.2,329.6 248.6,328.6 249,328.9 249.4,329.1 249.8,329 250.2,328.8 250.6,328.6 251,328.4 251.4,329.2 251.8,329.6 252.2,329.7 252.6,328.8 253,328.9 253.4,328.3 253.8,328.7 254.2,328.5 254.6,329.1 255,329.1 255.4,329 255.8,328.8 256.2,328.8 256.6,328.2 257,328.7 257.4,328.4 257.8,329.7 258.2,329.4 258.6,330.6 259,331.2 259.4,330.4 259.8,331 260.2,332.6 260.6,332.9 261,332.7 261.4,331.9 261.8,332.4 262.2,333.1 262.6,333.5 263,333.6 263.4,333.4 263.8,333.2 264.2,333.9 264.6,333.7 265,334.8 265.4,334.4 265.8,335.1 266.2,336 266.6,335.2 267,334.8 267.4,334.2 267.8,333.4 268.2,333.2 268.6,332.5 269,333.1 269.4,331.9 269.8,331.9 270.2,332.2 270.6,332.4 271,331 271.4,331.5 271.9,330.7 272.3,331.2 272.7,331.2 273.1,332.4 273.5,332.3 273.9,332.4 274.3,331.9 274.7,332.1 275.1,332.8 275.5,332.2 275.9,332.1 276.3,331.9 276.7,332 277.1,331.9 277.5,331.7 277.9,331.4 278.3,331.4 278.7,331.5 279.1,331 279.5,331.1 279.9,331.4 280.3,330.5 280.7,330.6 281.1,331.2 281.5,331.9 281.9,331.9 282.3,331.2 282.7,331.1 283.1,330.9 283.5,329.8 283.9,330.1 284.3,330.9 284.7,330.9 285.1,330.8 285.5,331.2 285.9,332.6 286.3,333 286.7,332.3 287.1,332.9 287.5,333.2 287.9,333.6 288.3,334.5 288.7,335.4 289.1,335.6 289.5,335.6 289.9,336.2 290.3,335.9 290.7,337 291.1,336.9 291.5,337.6 291.9,338.2 292.3,338.6 292.7,339.2 293.1,339.8 293.5,339.7 293.9,339.9 294.3,339.4 294.7,339.7 295.1,339 295.5,339.5 295.9,339.9 296.3,340.9 296.7,340.7 297.1,341 297.5,341.5 297.9,340.3 298.3,341.2 298.7,340.9 299.1,340.4 299.5,340.7 299.9,339.8 300.3,339.7 300.7,340.1 301.1,339.3 301.5,339.7 301.9,340.8 302.3,341.1 302.7,341 303.2,341.3 303.6,341 304,341.9 304.4,341.6 304.8,340.1 305.2,340.7 305.6,341.2 306,340.8 306.4,340.3 306.8,340.4 307.2,341.4 307.6,342 308,341.3 308.4,341.3 308.8,341.7 309.2,343.2 309.6,343.5 310,344.1 310.4,343.5 310.8,342.7 311.2,341.5 311.6,341 312,340.9 312.4,341.1 312.8,341.2 313.2,342.2 313.6,342 314,341.4 314.4,342 314.8,341.2 315.2,341 315.6,340.4 316,340.2 316.4,340 316.8,339.8 317.2,339.3 317.6,339.7 318,338.7 318.4,338.8" fill="none" stroke="#800000" stroke-width="1.45" stroke-linejoin="round" stroke-linecap="butt"/>
<rect x="23.5" y="291.5" width="308.6" height="228.1" fill="none" stroke="#646464" stroke-width="1.2"/>
<line x1="37.9" y1="519.6" x2="37.9" y2="522.8" stroke="#444444" stroke-width="0.9"/>
<text x="37.1" y="533.2" font-size="9.4" text-anchor="middle" fill="#333333">0</text>
<line x1="94" y1="519.6" x2="94" y2="522.8" stroke="#444444" stroke-width="0.9"/>
<text x="93.2" y="533.2" font-size="9.4" text-anchor="middle" fill="#333333">2000</text>
<line x1="150.1" y1="519.6" x2="150.1" y2="522.8" stroke="#444444" stroke-width="0.9"/>
<text x="149.3" y="533.2" font-size="9.4" text-anchor="middle" fill="#333333">4000</text>
<line x1="206.2" y1="519.6" x2="206.2" y2="522.8" stroke="#444444" stroke-width="0.9"/>
<text x="205.4" y="533.2" font-size="9.4" text-anchor="middle" fill="#333333">6000</text>
<line x1="262.3" y1="519.6" x2="262.3" y2="522.8" stroke="#444444" stroke-width="0.9"/>
<text x="261.5" y="533.2" font-size="9.4" text-anchor="middle" fill="#333333">8000</text>
<line x1="318.4" y1="519.6" x2="318.4" y2="522.8" stroke="#444444" stroke-width="0.9"/>
<text x="317.6" y="533.2" font-size="9.4" text-anchor="middle" fill="#333333">10000</text>
<line x1="20.3" y1="510.3" x2="23.5" y2="510.3" stroke="#444444" stroke-width="0.9"/>
<text x="16.9" y="513.7" font-size="9.5" text-anchor="end" fill="#333333">0</text>
<line x1="20.3" y1="474.4" x2="23.5" y2="474.4" stroke="#444444" stroke-width="0.9"/>
<text x="16.9" y="477.8" font-size="9.5" text-anchor="end" fill="#333333">5</text>
<line x1="20.3" y1="438.5" x2="23.5" y2="438.5" stroke="#444444" stroke-width="0.9"/>
<text x="16.9" y="441.9" font-size="9.5" text-anchor="end" fill="#333333">10</text>
<line x1="20.3" y1="402.6" x2="23.5" y2="402.6" stroke="#444444" stroke-width="0.9"/>
<text x="16.9" y="406" font-size="9.5" text-anchor="end" fill="#333333">15</text>
<line x1="20.3" y1="366.8" x2="23.5" y2="366.8" stroke="#444444" stroke-width="0.9"/>
<text x="16.9" y="370.2" font-size="9.5" text-anchor="end" fill="#333333">20</text>
<line x1="20.3" y1="330.9" x2="23.5" y2="330.9" stroke="#444444" stroke-width="0.9"/>
<text x="16.9" y="334.3" font-size="9.5" text-anchor="end" fill="#333333">25</text>
<line x1="20.3" y1="295" x2="23.5" y2="295" stroke="#444444" stroke-width="0.9"/>
<text x="16.9" y="298.4" font-size="9.5" text-anchor="end" fill="#333333">30</text>
</g>
<g>
<rect x="380.3" y="21.9" width="265.3" height="235" fill="none" stroke="#646464" stroke-width="1.2"/>
<path d="M391.60,257.45 L391.60,249.74 L394.03,249.74 L394.03,253.59 L396.46,253.59 L396.46,245.88 L398.89,245.88 L398.89,235.52 L401.32,235.52 L401.32,230.34 L403.75,230.34 L403.75,176.89 L406.18,176.89 L406.18,117.72 L408.61,117.72 L408.61,164.66 L411.04,164.66 L411.04,137.00 L413.47,137.00 L413.47,101.85 L415.90,101.85 L415.90,71.98 L418.33,71.98 L418.33,88.07 L420.76,88.07 L420.76,84.22 L423.20,84.22 L423.20,71.98 L425.63,71.98 L425.63,50.16 L428.06,50.16 L428.06,32.97 L430.49,32.97 L430.49,54.02 L432.92,54.02 L432.92,160.81 L435.35,160.81 L435.35,187.25 L437.78,187.25 L437.78,227.15 L440.21,227.15 L440.21,233.65 L442.64,233.65 L442.64,242.02 L445.07,242.02 L445.07,239.05 L447.50,239.05 L447.50,245.00 L449.93,245.00 L449.93,245.66 L452.36,245.66 L452.36,249.30 L454.79,249.30 L454.79,249.85 L457.22,249.85 L457.22,252.71 L459.65,252.71 L459.65,257.45 Z M471.80,257.45 L471.80,256.02 L474.23,256.02 L474.23,257.45 Z M481.52,257.45 L481.52,256.24 L483.96,256.24 L483.96,257.45 Z M488.82,257.45 L488.82,255.25 L491.25,255.25 L491.25,255.80 L493.68,255.80 L493.68,254.70 L496.11,254.70 L496.11,255.03 L498.54,255.03 L498.54,253.37 L500.97,253.37 L500.97,255.25 L503.40,255.25 L503.40,252.49 L505.83,252.49 L505.83,251.61 L508.26,251.61 L508.26,252.27 L510.69,252.27 L510.69,250.73 L513.12,250.73 L513.12,251.39 L515.55,251.39 L515.55,251.94 L517.98,251.94 L517.98,250.73 L520.41,250.73 L520.41,249.41 L522.84,249.41 L522.84,248.97 L525.27,248.97 L525.27,248.30 L527.70,248.30 L527.70,247.53 L530.13,247.53 L530.13,248.97 L532.56,248.97 L532.56,243.90 L534.99,243.90 L534.99,246.87 L537.42,246.87 L537.42,246.21 L539.85,246.21 L539.85,246.87 L542.28,246.87 L542.28,250.51 L544.72,250.51 L544.72,249.85 L547.15,249.85 L547.15,247.64 L549.58,247.64 L549.58,249.08 L552.01,249.08 L552.01,247.64 L554.44,247.64 L554.44,249.08 L556.87,249.08 L556.87,248.30 L559.30,248.30 L559.30,249.85 L561.73,249.85 L561.73,250.51 L564.16,250.51 L564.16,251.28 L566.59,251.28 L566.59,252.71 L569.02,252.71 L569.02,251.72 L571.45,251.72 L571.45,252.05 L573.88,252.05 L573.88,253.48 L576.31,253.48 L576.31,252.71 L578.74,252.71 L578.74,253.04 L581.17,253.04 L581.17,253.92 L583.60,253.92 L583.60,256.35 L586.03,256.35 L586.03,255.91 L588.46,255.91 L588.46,255.36 L590.89,255.36 L590.89,255.69 L593.32,255.69 L593.32,255.91 L595.75,255.91 L595.75,256.35 L598.18,256.35 L598.18,256.35 L600.61,256.35 L600.61,256.35 L603.04,256.35 L603.04,256.35 L605.48,256.35 L605.48,256.35 L607.91,256.35 L607.91,256.35 L610.34,256.35 L610.34,256.35 L612.77,256.35 L612.77,256.35 L615.20,256.35 L615.20,256.02 L617.63,256.02 L617.63,257.45 Z" fill="#0000ff" stroke="none"/>
<polyline points="391.6,246.5 392.4,246.5 393.2,246.5 394,246.5 394.8,246.5 395.6,246.5 396.5,246.5 397.3,246.5 398.1,246.5 398.9,246.5 399.7,246.5 400.5,246.5 401.3,246.5 402.1,246.5 402.9,246.5 403.7,246.5 404.5,246.5 405.4,246.5 406.2,246.5 407,246.5 407.8,246.5 408.6,246.5 409.4,246.5 410.2,246.5 411,246.5 411.8,246.5 412.6,246.5 413.4,246.5 414.3,246.5 415.1,246.5 415.9,246.5 416.7,246.5 417.5,246.5 418.3,246.5 419.1,246.5 419.9,246.5 420.7,246.5 421.5,246.5 422.3,246.5 423.2,246.5 424,246.5 424.8,246.5 425.6,246.5 426.4,246.5 427.2,246.5 428,246.5 428.8,246.5 429.6,246.5 430.4,246.5 431.2,246.5 432.1,246.5 432.9,246.5 433.7,246.5 434.5,246.5 435.3,246.5 436.1,246.5 436.9,246.5 437.7,246.5 438.5,246.5 439.3,246.5 440.1,246.5 441,246.5 441.8,246.5 442.6,246.5 443.4,246.5 444.2,246.5 445,246.5 445.8,246.4 446.6,246.4 447.4,246.4 448.2,246.4 449,246.4 449.9,246.4 450.7,246.3 451.5,246.3 452.3,246.3 453.1,246.3 453.9,246.2 454.7,246.2 455.5,246.1 456.3,246.1 457.1,246 457.9,245.9 458.8,245.8 459.6,245.7 460.4,245.6 461.2,245.5 462,245.3 462.8,245.2 463.6,245 464.4,244.8 465.2,244.6 466,244.3 466.8,244.1 467.7,243.7 468.5,243.4 469.3,243 470.1,242.6 470.9,242.2 471.7,241.7 472.5,241.1 473.3,240.6 474.1,239.9 474.9,239.2 475.7,238.4 476.6,237.6 477.4,236.7 478.2,235.8 479,234.7 479.8,233.6 480.6,232.4 481.4,231.2 482.2,229.8 483,228.3 483.8,226.8 484.6,225.1 485.5,223.4 486.3,221.5 487.1,219.6 487.9,217.5 488.7,215.3 489.5,213 490.3,210.6 491.1,208.1 491.9,205.4 492.7,202.7 493.5,199.8 494.4,196.8 495.2,193.7 496,190.5 496.8,187.2 497.6,183.8 498.4,180.2 499.2,176.6 500,172.8 500.8,169 501.6,165.1 502.4,161.1 503.3,157 504.1,152.9 504.9,148.7 505.7,144.4 506.5,140.1 507.3,135.7 508.1,131.3 508.9,126.9 509.7,122.5 510.5,118.1 511.3,113.7 512.2,109.3 513,104.9 513.8,100.6 514.6,96.3 515.4,92.1 516.2,88 517,83.9 517.8,79.9 518.6,76 519.4,72.3 520.2,68.6 521.1,65.1 521.9,61.7 522.7,58.5 523.5,55.4 524.3,52.5 525.1,49.8 525.9,47.2 526.7,44.8 527.5,42.7 528.3,40.7 529.1,38.9 530,37.3 530.8,35.9 531.6,34.8 532.4,33.8 533.2,33.1 534,32.5 534.8,32.2 535.6,32.1 536.4,32.3 537.2,32.6 538,33.1 538.9,33.9 539.7,34.8 540.5,36 541.3,37.3 542.1,38.9 542.9,40.6 543.7,42.5 544.5,44.5 545.3,46.7 546.1,49.1 546.9,51.7 547.8,54.3 548.6,57.1 549.4,60.1 550.2,63.1 551,66.3 551.8,69.6 552.6,72.9 553.4,76.3 554.2,79.9 555,83.4 555.8,87.1 556.7,90.8 557.5,94.5 558.3,98.3 559.1,102.1 559.9,105.9 560.7,109.7 561.5,113.5 562.3,117.4 563.1,121.2 563.9,125 564.7,128.8 565.6,132.5 566.4,136.2 567.2,139.9 568,143.6 568.8,147.2 569.6,150.7 570.4,154.2 571.2,157.6 572,161 572.8,164.3 573.6,167.5 574.5,170.7 575.3,173.7 576.1,176.7 576.9,179.7 577.7,182.5 578.5,185.3 579.3,188 580.1,190.6 580.9,193.2 581.7,195.6 582.5,198 583.4,200.3 584.2,202.6 585,204.7 585.8,206.8 586.6,208.8 587.4,210.7 588.2,212.5 589,214.3 589.8,216 590.6,217.6 591.4,219.2 592.3,220.7 593.1,222.1 593.9,223.4 594.7,224.7 595.5,226 596.3,227.2 597.1,228.3 597.9,229.4 598.7,230.4 599.5,231.3 600.3,232.3 601.2,233.1 602,234 602.8,234.7 603.6,235.5 604.4,236.2 605.2,236.8 606,237.5 606.8,238 607.6,238.6 608.4,239.1 609.2,239.6 610.1,240.1 610.9,240.5 611.7,240.9 612.5,241.3 613.3,241.7 614.1,242 614.9,242.3 615.7,242.6 616.5,242.9 617.3,243.2 618.1,243.4 619,243.6 619.8,243.8 620.6,244 621.4,244.2 622.2,244.4 623,244.5 623.8,244.7 624.6,244.8 625.4,245 626.2,245.1 627,245.2 627.9,245.3 628.7,245.4 629.5,245.5 630.3,245.6 631.1,245.6 631.9,245.7 632.7,245.8 633.5,245.8" fill="none" stroke="#ffa500" stroke-width="1.35" stroke-linejoin="round" stroke-linecap="butt"/>
<line x1="408.4" y1="256.9" x2="408.4" y2="259.9" stroke="#444444" stroke-width="0.9"/>
<text x="407.7" y="269.2" font-size="8.4" text-anchor="middle" fill="#333333">20</text>
<line x1="464.4" y1="256.9" x2="464.4" y2="259.9" stroke="#444444" stroke-width="0.9"/>
<text x="463.7" y="269.2" font-size="8.4" text-anchor="middle" fill="#333333">30</text>
<line x1="520.4" y1="256.9" x2="520.4" y2="259.9" stroke="#444444" stroke-width="0.9"/>
<text x="519.7" y="269.2" font-size="8.4" text-anchor="middle" fill="#333333">40</text>
<line x1="576.4" y1="256.9" x2="576.4" y2="259.9" stroke="#444444" stroke-width="0.9"/>
<text x="575.7" y="269.2" font-size="8.4" text-anchor="middle" fill="#333333">50</text>
<line x1="632.4" y1="256.9" x2="632.4" y2="259.9" stroke="#444444" stroke-width="0.9"/>
<text x="631.7" y="269.2" font-size="8.4" text-anchor="middle" fill="#333333">60</text>
<line x1="377.3" y1="256.9" x2="380.3" y2="256.9" stroke="#444444" stroke-width="0.9"/>
<text x="374" y="259.9" font-size="8.4" text-anchor="end" fill="#2a2aff">0.000</text>
<line x1="377.3" y1="229.3" x2="380.3" y2="229.3" stroke="#444444" stroke-width="0.9"/>
<text x="374" y="232.3" font-size="8.4" text-anchor="end" fill="#2a2aff">0.025</text>
<line x1="377.3" y1="201.8" x2="380.3" y2="201.8" stroke="#444444" stroke-width="0.9"/>
<text x="374" y="204.8" font-size="8.4" text-anchor="end" fill="#2a2aff">0.050</text>
<line x1="377.3" y1="174.2" x2="380.3" y2="174.2" stroke="#444444" stroke-width="0.9"/>
<text x="374" y="177.2" font-size="8.4" text-anchor="end" fill="#2a2aff">0.075</text>
<line x1="377.3" y1="146.7" x2="380.3" y2="146.7" stroke="#444444" stroke-width="0.9"/>
<text x="374" y="149.7" font-size="8.4" text-anchor="end" fill="#2a2aff">0.100</text>
<line x1="377.3" y1="119.1" x2="380.3" y2="119.1" stroke="#444444" stroke-width="0.9"/>
<text x="374" y="122.1" font-size="8.4" text-anchor="end" fill="#2a2aff">0.125</text>
<line x1="377.3" y1="91.6" x2="380.3" y2="91.6" stroke="#444444" stroke-width="0.9"/>
<text x="374" y="94.6" font-size="8.4" text-anchor="end" fill="#2a2aff">0.150</text>
<line x1="377.3" y1="64" x2="380.3" y2="64" stroke="#444444" stroke-width="0.9"/>
<text x="374" y="67" font-size="8.4" text-anchor="end" fill="#2a2aff">0.175</text>
<line x1="377.3" y1="36.5" x2="380.3" y2="36.5" stroke="#444444" stroke-width="0.9"/>
<text x="374" y="39.5" font-size="8.4" text-anchor="end" fill="#2a2aff">0.200</text>
<line x1="645.6" y1="246.5" x2="648.6" y2="246.5" stroke="#444444" stroke-width="0.9"/>
<text x="651.9" y="249.5" font-size="8.4" text-anchor="start" fill="#ffa91a">0.00</text>
<line x1="645.6" y1="196.8" x2="648.6" y2="196.8" stroke="#444444" stroke-width="0.9"/>
<text x="651.9" y="199.8" font-size="8.4" text-anchor="start" fill="#ffa91a">0.02</text>
<line x1="645.6" y1="147" x2="648.6" y2="147" stroke="#444444" stroke-width="0.9"/>
<text x="651.9" y="150" font-size="8.4" text-anchor="start" fill="#ffa91a">0.04</text>
<line x1="645.6" y1="97.2" x2="648.6" y2="97.2" stroke="#444444" stroke-width="0.9"/>
<text x="651.9" y="100.2" font-size="8.4" text-anchor="start" fill="#ffa91a">0.06</text>
<line x1="645.6" y1="47.5" x2="648.6" y2="47.5" stroke="#444444" stroke-width="0.9"/>
<text x="651.9" y="50.5" font-size="8.4" text-anchor="start" fill="#ffa91a">0.08</text>
<text transform="translate(347.3,140.7) rotate(-90)" font-size="7" text-anchor="middle" textLength="33" lengthAdjust="spacingAndGlyphs" fill="#2a2aff">posterior</text>
<text transform="translate(676.8,140.7) rotate(-90)" font-size="7" text-anchor="middle" textLength="17.5" lengthAdjust="spacingAndGlyphs" fill="#ffa91a">prior</text>
</g>
<g>
<rect x="379.7" y="289.4" width="267.7" height="236.6" fill="none" stroke="#646464" stroke-width="1.2"/>
<path d="M391.44,526.55 L391.44,522.55 L393.87,522.55 L393.87,523.74 L396.31,523.74 L396.31,519.96 L398.75,519.96 L398.75,517.27 L401.18,517.27 L401.18,513.82 L403.62,513.82 L403.62,491.94 L406.05,491.94 L406.05,496.89 L408.49,496.89 L408.49,488.70 L410.93,488.70 L410.93,484.07 L413.36,484.07 L413.36,486.33 L415.80,486.33 L415.80,493.12 L418.23,493.12 L418.23,495.17 L420.67,495.17 L420.67,505.09 L423.10,505.09 L423.10,506.49 L425.54,506.49 L425.54,513.82 L427.98,513.82 L427.98,515.00 L430.41,515.00 L430.41,518.78 L432.85,518.78 L432.85,519.64 L435.28,519.64 L435.28,521.36 L437.72,521.36 L437.72,523.74 L440.16,523.74 L440.16,523.09 L442.59,523.09 L442.59,524.28 L445.03,524.28 L445.03,525.14 L447.46,525.14 L447.46,526.55 Z M449.90,526.55 L449.90,525.46 L452.33,525.46 L452.33,526.55 Z M532.72,526.55 L532.72,521.26 L535.15,521.26 L535.15,519.96 L537.59,519.96 L537.59,523.30 L540.02,523.30 L540.02,517.38 L542.46,517.38 L542.46,513.50 L544.90,513.50 L544.90,504.44 L547.33,504.44 L547.33,500.13 L549.77,500.13 L549.77,498.62 L552.20,498.62 L552.20,442.78 L554.64,442.78 L554.64,400.31 L557.08,400.31 L557.08,397.72 L559.51,397.72 L559.51,437.60 L561.95,437.60 L561.95,409.36 L564.38,409.36 L564.38,400.31 L566.82,400.31 L566.82,381.01 L569.26,381.01 L569.26,339.83 L571.69,339.83 L571.69,355.03 L574.13,355.03 L574.13,356.32 L576.56,356.32 L576.56,355.68 L579.00,355.68 L579.00,354.17 L581.43,354.17 L581.43,345.76 L583.87,345.76 L583.87,327.00 L586.31,327.00 L586.31,308.24 L588.74,308.24 L588.74,303.82 L591.18,303.82 L591.18,300.48 L593.61,300.48 L593.61,397.72 L596.05,397.72 L596.05,437.60 L598.49,437.60 L598.49,448.71 L600.92,448.71 L600.92,482.56 L603.36,482.56 L603.36,496.79 L605.79,496.79 L605.79,499.37 L608.23,499.37 L608.23,510.91 L610.66,510.91 L610.66,510.91 L613.10,510.91 L613.10,510.69 L615.54,510.69 L615.54,508.86 L617.97,508.86 L617.97,515.33 L620.41,515.33 L620.41,515.33 L622.84,515.33 L622.84,516.30 L625.28,516.30 L625.28,517.38 L627.72,517.38 L627.72,518.67 L630.15,518.67 L630.15,519.96 L632.59,519.96 L632.59,522.98 L635.02,522.98 L635.02,526.55 Z" fill="#0000ff" stroke="none"/>
<polyline points="391,515.2 391.5,515.2 392,515 392.5,514.7 393,514 393.5,512.9 394,511.1 394.4,508.7 394.9,505.5 395.4,501.5 395.9,496.7 396.4,491.1 396.9,484.7 397.4,477.5 397.9,469.6 398.4,461.2 398.8,452.3 399.3,443 399.8,433.3 400.3,423.5 400.8,413.6 401.3,403.7 401.8,393.9 402.3,384.4 402.8,375.1 403.2,366.1 403.7,357.6 404.2,349.6 404.7,342 405.2,335.1 405.7,328.8 406.2,323.1 406.7,318 407.2,313.6 407.6,309.8 408.1,306.7 408.6,304.3 409.1,302.4 409.6,301.2 410.1,300.6 410.6,300.5 411.1,301.1 411.6,302.2 412,303.9 412.5,306 413,308.7 413.5,311.7 414,315.2 414.5,319 415,323.1 415.5,327.5 416,332.1 416.4,336.9 416.9,341.8 417.4,346.9 417.9,352.1 418.4,357.4 418.9,362.7 419.4,368.1 419.9,373.4 420.4,378.7 420.8,384 421.3,389.2 421.8,394.4 422.3,399.5 422.8,404.5 423.3,409.4 423.8,414.1 424.3,418.8 424.8,423.3 425.2,427.7 425.7,432 426.2,436.1 426.7,440.1 427.2,443.9 427.7,447.6 428.2,451.2 428.7,454.6 429.2,457.9 429.6,461 430.1,464 430.6,466.9 431.1,469.6 431.6,472.2 432.1,474.7 432.6,477.1 433.1,479.3 433.6,481.5 434,483.5 434.5,485.4 435,487.2 435.5,489 436,490.6 436.5,492.1 437,493.6 437.5,495 438,496.3 438.5,497.5 438.9,498.6 439.4,499.7 439.9,500.7 440.4,501.7 440.9,502.6 441.4,503.4 441.9,504.2 442.4,505 442.9,505.7 443.3,506.3 443.8,506.9 444.3,507.5 444.8,508 445.3,508.5 445.8,509 446.3,509.4 446.8,509.9 447.3,510.2 447.7,510.6 448.2,510.9 448.7,511.2 449.2,511.5 449.7,511.8 450.2,512 450.7,512.3 451.2,512.5 451.7,512.7 452.1,512.9 452.6,513 453.1,513.2 453.6,513.4 454.1,513.5 454.6,513.6 455.1,513.7 455.6,513.8 456.1,514 456.5,514 457,514.1 457.5,514.2 458,514.3 458.5,514.4 459,514.4 459.5,514.5 460,514.5 460.5,514.6 460.9,514.6 461.4,514.7 461.9,514.7 462.4,514.8 462.9,514.8 463.4,514.8 463.9,514.9 464.4,514.9 464.9,514.9 465.3,514.9 465.8,515 466.3,515 466.8,515 467.3,515 467.8,515 468.3,515 468.8,515.1 469.3,515.1 469.7,515.1 470.2,515.1 470.7,515.1 471.2,515.1 471.7,515.1 472.2,515.1 472.7,515.1 473.2,515.1 473.7,515.1 474.1,515.1 474.6,515.1 475.1,515.2 475.6,515.2 476.1,515.2 476.6,515.2 477.1,515.2 477.6,515.2 478.1,515.2 478.5,515.2 479,515.2 479.5,515.2 480,515.2 480.5,515.2 481,515.2 481.5,515.2 482,515.2 482.5,515.2 482.9,515.2 483.4,515.2 483.9,515.2 484.4,515.2 484.9,515.2 485.4,515.2 485.9,515.2 486.4,515.2 486.9,515.2 487.3,515.2 487.8,515.2 488.3,515.2 488.8,515.2 489.3,515.2 489.8,515.2 490.3,515.2 490.8,515.2 491.3,515.2 491.8,515.2 492.2,515.2 492.7,515.2 493.2,515.2 493.7,515.2 494.2,515.2 494.7,515.2 495.2,515.2 495.7,515.2 496.2,515.2 496.6,515.2 497.1,515.2 497.6,515.2 498.1,515.2 498.6,515.2 499.1,515.2 499.6,515.2 500.1,515.2 500.6,515.2 501,515.2 501.5,515.2 502,515.2 502.5,515.2 503,515.2 503.5,515.2 504,515.2 504.5,515.2 505,515.2 505.4,515.2 505.9,515.2 506.4,515.2 506.9,515.2 507.4,515.2 507.9,515.2 508.4,515.2 508.9,515.2 509.4,515.2 509.8,515.2 510.3,515.2 510.8,515.2 511.3,515.2 511.8,515.2 512.3,515.2 512.8,515.2 513.3,515.2 513.8,515.2 514.2,515.2 514.7,515.2 515.2,515.2 515.7,515.2 516.2,515.2 516.7,515.2 517.2,515.2 517.7,515.2 518.2,515.2 518.6,515.2 519.1,515.2 519.6,515.2 520.1,515.2 520.6,515.2 521.1,515.2 521.6,515.2 522.1,515.2 522.6,515.2 523,515.2 523.5,515.2 524,515.2 524.5,515.2 525,515.2 525.5,515.2 526,515.2 526.5,515.2 527,515.2 527.4,515.2 527.9,515.2 528.4,515.2 528.9,515.2 529.4,515.2 529.9,515.2 530.4,515.2 530.9,515.2 531.4,515.2 531.8,515.2 532.3,515.2 532.8,515.2 533.3,515.2 533.8,515.2 534.3,515.2 534.8,515.2 535.3,515.2 535.8,515.2 536.2,515.2 536.7,515.2 537.2,515.2 537.7,515.2 538.2,515.2 538.7,515.2 539.2,515.2 539.7,515.2 540.2,515.2 540.6,515.2 541.1,515.2 541.6,515.2 542.1,515.2 542.6,515.2 543.1,515.2 543.6,515.2 544.1,515.2 544.6,515.2 545,515.2 545.5,515.2 546,515.2 546.5,515.2 547,515.2 547.5,515.2 548,515.2 548.5,515.2 549,515.2 549.5,515.2 549.9,515.2 550.4,515.2 550.9,515.2 551.4,515.2 551.9,515.2 552.4,515.2 552.9,515.2 553.4,515.2 553.9,515.2 554.3,515.2 554.8,515.2 555.3,515.2 555.8,515.2 556.3,515.2 556.8,515.2 557.3,515.2 557.8,515.2 558.3,515.2 558.7,515.2 559.2,515.2 559.7,515.2 560.2,515.2 560.7,515.2 561.2,515.2 561.7,515.2 562.2,515.2 562.7,515.2 563.1,515.2 563.6,515.2 564.1,515.2 564.6,515.2 565.1,515.2 565.6,515.2 566.1,515.2 566.6,515.2 567.1,515.2 567.5,515.2 568,515.2 568.5,515.2 569,515.2 569.5,515.2 570,515.2 570.5,515.2 571,515.2 571.5,515.2 571.9,515.2 572.4,515.2 572.9,515.2 573.4,515.2 573.9,515.2 574.4,515.2 574.9,515.2 575.4,515.2 575.9,515.2 576.3,515.2 576.8,515.2 577.3,515.2 577.8,515.2 578.3,515.2 578.8,515.2 579.3,515.2 579.8,515.2 580.3,515.2 580.7,515.2 581.2,515.2 581.7,515.2 582.2,515.2 582.7,515.2 583.2,515.2 583.7,515.2 584.2,515.2 584.7,515.2 585.1,515.2 585.6,515.2 586.1,515.2 586.6,515.2 587.1,515.2 587.6,515.2 588.1,515.2 588.6,515.2 589.1,515.2 589.5,515.2 590,515.2 590.5,515.2 591,515.2 591.5,515.2 592,515.2 592.5,515.2 593,515.2 593.5,515.2 593.9,515.2 594.4,515.2 594.9,515.2 595.4,515.2 595.9,515.2 596.4,515.2 596.9,515.2 597.4,515.2 597.9,515.2 598.3,515.2 598.8,515.2 599.3,515.2 599.8,515.2 600.3,515.2 600.8,515.2 601.3,515.2 601.8,515.2 602.3,515.2 602.7,515.2 603.2,515.2 603.7,515.2 604.2,515.2 604.7,515.2 605.2,515.2 605.7,515.2 606.2,515.2 606.7,515.2 607.2,515.2 607.6,515.2 608.1,515.2 608.6,515.2 609.1,515.2 609.6,515.2 610.1,515.2 610.6,515.2 611.1,515.2 611.6,515.2 612,515.2 612.5,515.2 613,515.2 613.5,515.2 614,515.2 614.5,515.2 615,515.2 615.5,515.2 616,515.2 616.4,515.2 616.9,515.2 617.4,515.2 617.9,515.2 618.4,515.2 618.9,515.2 619.4,515.2 619.9,515.2 620.4,515.2 620.8,515.2 621.3,515.2 621.8,515.2 622.3,515.2 622.8,515.2 623.3,515.2 623.8,515.2 624.3,515.2 624.8,515.2 625.2,515.2 625.7,515.2 626.2,515.2 626.7,515.2 627.2,515.2 627.7,515.2 628.2,515.2 628.7,515.2 629.2,515.2 629.6,515.2 630.1,515.2 630.6,515.2 631.1,515.2 631.6,515.2 632.1,515.2 632.6,515.2 633.1,515.2 633.6,515.2 634,515.2 634.5,515.2 635,515.2" fill="none" stroke="#ffa500" stroke-width="1.35" stroke-linejoin="round" stroke-linecap="butt"/>
<line x1="390.6" y1="526" x2="390.6" y2="529" stroke="#444444" stroke-width="0.9"/>
<text x="389.9" y="538.3" font-size="8.4" text-anchor="middle" fill="#333333">0</text>
<line x1="432.5" y1="526" x2="432.5" y2="529" stroke="#444444" stroke-width="0.9"/>
<text x="431.8" y="538.3" font-size="8.4" text-anchor="middle" fill="#333333">5</text>
<line x1="474.5" y1="526" x2="474.5" y2="529" stroke="#444444" stroke-width="0.9"/>
<text x="473.8" y="538.3" font-size="8.4" text-anchor="middle" fill="#333333">10</text>
<line x1="516.4" y1="526" x2="516.4" y2="529" stroke="#444444" stroke-width="0.9"/>
<text x="515.7" y="538.3" font-size="8.4" text-anchor="middle" fill="#333333">15</text>
<line x1="558.3" y1="526" x2="558.3" y2="529" stroke="#444444" stroke-width="0.9"/>
<text x="557.6" y="538.3" font-size="8.4" text-anchor="middle" fill="#333333">20</text>
<line x1="600.2" y1="526" x2="600.2" y2="529" stroke="#444444" stroke-width="0.9"/>
<text x="599.5" y="538.3" font-size="8.4" text-anchor="middle" fill="#333333">25</text>
<line x1="642.1" y1="526" x2="642.1" y2="529" stroke="#444444" stroke-width="0.9"/>
<text x="641.4" y="538.3" font-size="8.4" text-anchor="middle" fill="#333333">30</text>
<line x1="376.7" y1="526" x2="379.7" y2="526" stroke="#444444" stroke-width="0.9"/>
<text x="373.4" y="529" font-size="8.4" text-anchor="end" fill="#2a2aff">0.000</text>
<line x1="376.7" y1="499.1" x2="379.7" y2="499.1" stroke="#444444" stroke-width="0.9"/>
<text x="373.4" y="502.1" font-size="8.4" text-anchor="end" fill="#2a2aff">0.025</text>
<line x1="376.7" y1="472.1" x2="379.7" y2="472.1" stroke="#444444" stroke-width="0.9"/>
<text x="373.4" y="475.1" font-size="8.4" text-anchor="end" fill="#2a2aff">0.050</text>
<line x1="376.7" y1="445.1" x2="379.7" y2="445.1" stroke="#444444" stroke-width="0.9"/>
<text x="373.4" y="448.1" font-size="8.4" text-anchor="end" fill="#2a2aff">0.075</text>
<line x1="376.7" y1="418.2" x2="379.7" y2="418.2" stroke="#444444" stroke-width="0.9"/>
<text x="373.4" y="421.2" font-size="8.4" text-anchor="end" fill="#2a2aff">0.100</text>
<line x1="376.7" y1="391.2" x2="379.7" y2="391.2" stroke="#444444" stroke-width="0.9"/>
<text x="373.4" y="394.2" font-size="8.4" text-anchor="end" fill="#2a2aff">0.125</text>
<line x1="376.7" y1="364.3" x2="379.7" y2="364.3" stroke="#444444" stroke-width="0.9"/>
<text x="373.4" y="367.3" font-size="8.4" text-anchor="end" fill="#2a2aff">0.150</text>
<line x1="376.7" y1="337.4" x2="379.7" y2="337.4" stroke="#444444" stroke-width="0.9"/>
<text x="373.4" y="340.4" font-size="8.4" text-anchor="end" fill="#2a2aff">0.175</text>
<line x1="376.7" y1="310.4" x2="379.7" y2="310.4" stroke="#444444" stroke-width="0.9"/>
<text x="373.4" y="313.4" font-size="8.4" text-anchor="end" fill="#2a2aff">0.200</text>
<line x1="647.4" y1="515.2" x2="650.4" y2="515.2" stroke="#444444" stroke-width="0.9"/>
<text x="653.7" y="518.2" font-size="8.4" text-anchor="start" fill="#ffa91a">0.00</text>
<line x1="647.4" y1="485.2" x2="650.4" y2="485.2" stroke="#444444" stroke-width="0.9"/>
<text x="653.7" y="488.2" font-size="8.4" text-anchor="start" fill="#ffa91a">0.05</text>
<line x1="647.4" y1="455.2" x2="650.4" y2="455.2" stroke="#444444" stroke-width="0.9"/>
<text x="653.7" y="458.2" font-size="8.4" text-anchor="start" fill="#ffa91a">0.10</text>
<line x1="647.4" y1="425.2" x2="650.4" y2="425.2" stroke="#444444" stroke-width="0.9"/>
<text x="653.7" y="428.2" font-size="8.4" text-anchor="start" fill="#ffa91a">0.15</text>
<line x1="647.4" y1="395.2" x2="650.4" y2="395.2" stroke="#444444" stroke-width="0.9"/>
<text x="653.7" y="398.2" font-size="8.4" text-anchor="start" fill="#ffa91a">0.20</text>
<line x1="647.4" y1="365.2" x2="650.4" y2="365.2" stroke="#444444" stroke-width="0.9"/>
<text x="653.7" y="368.2" font-size="8.4" text-anchor="start" fill="#ffa91a">0.25</text>
<line x1="647.4" y1="335.2" x2="650.4" y2="335.2" stroke="#444444" stroke-width="0.9"/>
<text x="653.7" y="338.2" font-size="8.4" text-anchor="start" fill="#ffa91a">0.30</text>
<line x1="647.4" y1="305.2" x2="650.4" y2="305.2" stroke="#444444" stroke-width="0.9"/>
<text x="653.7" y="308.2" font-size="8.4" text-anchor="start" fill="#ffa91a">0.35</text>
<text transform="translate(347,409) rotate(-90)" font-size="7" text-anchor="middle" textLength="33" lengthAdjust="spacingAndGlyphs" fill="#2a2aff">posterior</text>
<text transform="translate(677.6,409) rotate(-90)" font-size="7" text-anchor="middle" textLength="17.5" lengthAdjust="spacingAndGlyphs" fill="#ffa91a">prior</text>
</g>
<text transform="translate(176.1,21) scale(0.8,1)" font-size="25" text-anchor="middle" fill="#000000">a</text>
<text transform="translate(511.3,18.7) scale(1.0,1)" font-size="23.2" text-anchor="middle" fill="#000000">b</text>
<text transform="translate(176.8,287.1) scale(0.93,1)" font-size="22.4" text-anchor="middle" fill="#000000">c</text>
<text transform="translate(510.6,287) scale(1.0,1)" font-size="23.2" text-anchor="middle" fill="#000000">d</text>
</svg>
</body>
</html>
